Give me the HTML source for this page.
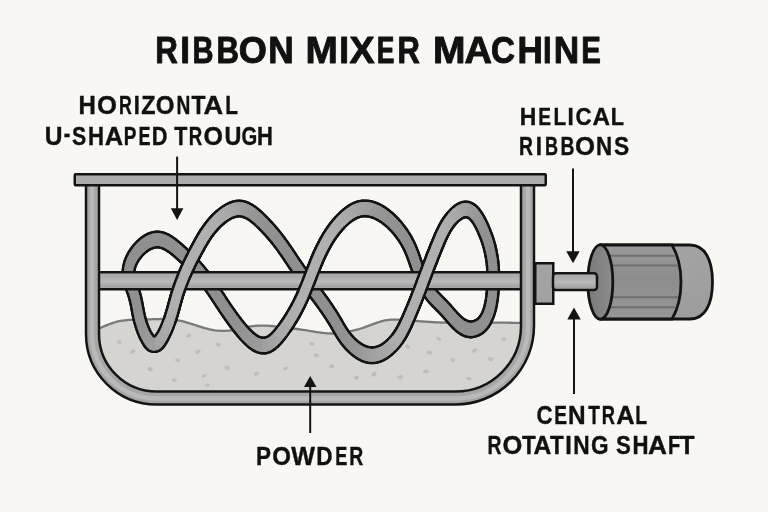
<!DOCTYPE html>
<html><head><meta charset="utf-8">
<style>
html,body{margin:0;padding:0;background:#f8f7f3;}
svg{display:block;}
text{font-family:"Liberation Sans",sans-serif;font-weight:bold;fill:#111111;}
</style></head><body>
<svg width="768" height="512" viewBox="0 0 768 512">
<defs>
<linearGradient id="shaftg" x1="0" y1="0" x2="0" y2="1">
<stop offset="0" stop-color="#c6c6c6"/><stop offset="0.15" stop-color="#a9a9a9"/><stop offset="0.55" stop-color="#bababa"/><stop offset="0.85" stop-color="#a2a2a2"/><stop offset="1" stop-color="#b4b4b4"/>
</linearGradient>
<filter id="blur1" x="-20%" y="-20%" width="140%" height="140%"><feGaussianBlur stdDeviation="0.7"/></filter>
<filter id="grain" x="0" y="0" width="100%" height="100%"><feTurbulence type="fractalNoise" baseFrequency="0.9" numOctaves="2" seed="4"/><feColorMatrix type="matrix" values="0 0 0 0 0.5  0 0 0 0 0.5  0 0 0 0 0.5  0 0 0 -1.2 0.62"/><feComposite in2="SourceGraphic" operator="in"/></filter>
<linearGradient id="bodyg" x1="0" y1="0" x2="0" y2="1">
<stop offset="0" stop-color="#9a9a9a"/><stop offset="0.45" stop-color="#8d8d8d"/><stop offset="1" stop-color="#969696"/>
</linearGradient>
<linearGradient id="faceg" x1="0" y1="0" x2="1" y2="0">
<stop offset="0" stop-color="#7a7a7a"/><stop offset="1" stop-color="#8c8c8c"/>
</linearGradient>
<linearGradient id="capg" x1="0" y1="0" x2="1" y2="1">
<stop offset="0" stop-color="#a8a8a8"/><stop offset="1" stop-color="#9c9c9c"/>
</linearGradient>
</defs>
<rect width="768" height="512" fill="#f8f7f3"/>
<g opacity="0.999">
<text transform="translate(155.20,62.83) scale(0.3130,0.3748)" font-size="100" stroke="#111111" stroke-width="2.5" stroke-linejoin="round">R</text>
<text transform="translate(180.18,62.83) scale(0.3515,0.3748)" font-size="100" stroke="#111111" stroke-width="2.5" stroke-linejoin="round">I</text>
<text transform="translate(192.52,62.83) scale(0.2913,0.3748)" font-size="100" stroke="#111111" stroke-width="2.5" stroke-linejoin="round">B</text>
<text transform="translate(216.61,62.83) scale(0.3118,0.3748)" font-size="100" stroke="#111111" stroke-width="2.5" stroke-linejoin="round">B</text>
<text transform="translate(238.81,62.83) scale(0.3614,0.3748)" font-size="100" stroke="#111111" stroke-width="2.5" stroke-linejoin="round">O</text>
<text transform="translate(268.22,62.83) scale(0.3529,0.3748)" font-size="100" stroke="#111111" stroke-width="2.5" stroke-linejoin="round">N</text>
<text transform="translate(305.52,62.83) scale(0.3883,0.3748)" font-size="100" stroke="#111111" stroke-width="2.5" stroke-linejoin="round">M</text>
<text transform="translate(339.18,62.83) scale(0.3515,0.3748)" font-size="100" stroke="#111111" stroke-width="2.5" stroke-linejoin="round">I</text>
<text transform="translate(349.59,62.83) scale(0.3759,0.3748)" font-size="100" stroke="#111111" stroke-width="2.5" stroke-linejoin="round">X</text>
<text transform="translate(376.68,62.83) scale(0.2650,0.3748)" font-size="100" stroke="#111111" stroke-width="2.5" stroke-linejoin="round">E</text>
<text transform="translate(397.52,62.83) scale(0.3099,0.3748)" font-size="100" stroke="#111111" stroke-width="2.5" stroke-linejoin="round">R</text>
<text transform="translate(432.96,62.83) scale(0.3903,0.3748)" font-size="100" stroke="#111111" stroke-width="2.5" stroke-linejoin="round">M</text>
<text transform="translate(464.53,62.83) scale(0.3803,0.3748)" font-size="100" stroke="#111111" stroke-width="2.5" stroke-linejoin="round">A</text>
<text transform="translate(490.89,62.83) scale(0.3319,0.3748)" font-size="100" stroke="#111111" stroke-width="2.5" stroke-linejoin="round">C</text>
<text transform="translate(517.38,62.83) scale(0.3521,0.3748)" font-size="100" stroke="#111111" stroke-width="2.5" stroke-linejoin="round">H</text>
<text transform="translate(543.12,62.83) scale(0.3091,0.3748)" font-size="100" stroke="#111111" stroke-width="2.5" stroke-linejoin="round">I</text>
<text transform="translate(553.78,62.83) scale(0.3521,0.3748)" font-size="100" stroke="#111111" stroke-width="2.5" stroke-linejoin="round">N</text>
<text transform="translate(581.21,62.83) scale(0.2940,0.3748)" font-size="100" stroke="#111111" stroke-width="2.5" stroke-linejoin="round">E</text>
<text transform="translate(78.50,114.01) scale(0.2403,0.2511)" font-size="100" stroke="#111111" stroke-width="1.5" stroke-linejoin="round">H</text>
<text transform="translate(96.97,114.01) scale(0.2559,0.2511)" font-size="100" stroke="#111111" stroke-width="1.5" stroke-linejoin="round">O</text>
<text transform="translate(118.99,114.01) scale(0.1783,0.2511)" font-size="100" stroke="#111111" stroke-width="1.5" stroke-linejoin="round">R</text>
<text transform="translate(133.63,114.01) scale(0.2194,0.2511)" font-size="100" stroke="#111111" stroke-width="1.5" stroke-linejoin="round">I</text>
<text transform="translate(141.37,114.01) scale(0.2336,0.2511)" font-size="100" stroke="#111111" stroke-width="1.5" stroke-linejoin="round">Z</text>
<text transform="translate(155.82,114.01) scale(0.2406,0.2511)" font-size="100" stroke="#111111" stroke-width="1.5" stroke-linejoin="round">O</text>
<text transform="translate(176.60,114.01) scale(0.1916,0.2511)" font-size="100" stroke="#111111" stroke-width="1.5" stroke-linejoin="round">N</text>
<text transform="translate(191.44,114.01) scale(0.2281,0.2511)" font-size="100" stroke="#111111" stroke-width="1.5" stroke-linejoin="round">T</text>
<text transform="translate(203.49,114.01) scale(0.2726,0.2511)" font-size="100" stroke="#111111" stroke-width="1.5" stroke-linejoin="round">A</text>
<text transform="translate(225.20,114.01) scale(0.2076,0.2511)" font-size="100" stroke="#111111" stroke-width="1.5" stroke-linejoin="round">L</text>
<text transform="translate(44.81,145.01) scale(0.2455,0.2525)" font-size="100" stroke="#111111" stroke-width="1.5" stroke-linejoin="round">U</text>
<text transform="translate(63.66,142.41) scale(0.1962,0.2525)" font-size="100" stroke="#111111" stroke-width="1.5" stroke-linejoin="round">-</text>
<text transform="translate(72.12,145.01) scale(0.2130,0.2525)" font-size="100" stroke="#111111" stroke-width="1.5" stroke-linejoin="round">S</text>
<text transform="translate(87.91,145.01) scale(0.2218,0.2525)" font-size="100" stroke="#111111" stroke-width="1.5" stroke-linejoin="round">H</text>
<text transform="translate(104.63,145.01) scale(0.2548,0.2525)" font-size="100" stroke="#111111" stroke-width="1.5" stroke-linejoin="round">A</text>
<text transform="translate(123.82,145.01) scale(0.1896,0.2525)" font-size="100" stroke="#111111" stroke-width="1.5" stroke-linejoin="round">P</text>
<text transform="translate(138.47,145.01) scale(0.1809,0.2525)" font-size="100" stroke="#111111" stroke-width="1.5" stroke-linejoin="round">E</text>
<text transform="translate(151.74,145.01) scale(0.2176,0.2525)" font-size="100" stroke="#111111" stroke-width="1.5" stroke-linejoin="round">D</text>
<text transform="translate(174.15,145.01) scale(0.2149,0.2525)" font-size="100" stroke="#111111" stroke-width="1.5" stroke-linejoin="round">T</text>
<text transform="translate(188.64,145.01) scale(0.1860,0.2525)" font-size="100" stroke="#111111" stroke-width="1.5" stroke-linejoin="round">R</text>
<text transform="translate(203.49,145.01) scale(0.2503,0.2525)" font-size="100" stroke="#111111" stroke-width="1.5" stroke-linejoin="round">O</text>
<text transform="translate(224.57,145.01) scale(0.2341,0.2525)" font-size="100" stroke="#111111" stroke-width="1.5" stroke-linejoin="round">U</text>
<text transform="translate(241.54,145.01) scale(0.2022,0.2525)" font-size="100" stroke="#111111" stroke-width="1.5" stroke-linejoin="round">G</text>
<text transform="translate(256.92,145.01) scale(0.2202,0.2525)" font-size="100" stroke="#111111" stroke-width="1.5" stroke-linejoin="round">H</text>
<text transform="translate(519.67,124.91) scale(0.2294,0.2482)" font-size="100" stroke="#111111" stroke-width="1.5" stroke-linejoin="round">H</text>
<text transform="translate(538.20,124.91) scale(0.1913,0.2482)" font-size="100" stroke="#111111" stroke-width="1.5" stroke-linejoin="round">E</text>
<text transform="translate(553.40,124.91) scale(0.2076,0.2482)" font-size="100" stroke="#111111" stroke-width="1.5" stroke-linejoin="round">L</text>
<text transform="translate(567.59,124.91) scale(0.2258,0.2482)" font-size="100" stroke="#111111" stroke-width="1.5" stroke-linejoin="round">I</text>
<text transform="translate(575.48,124.91) scale(0.2226,0.2482)" font-size="100" stroke="#111111" stroke-width="1.5" stroke-linejoin="round">C</text>
<text transform="translate(592.45,124.91) scale(0.2430,0.2482)" font-size="100" stroke="#111111" stroke-width="1.5" stroke-linejoin="round">A</text>
<text transform="translate(610.74,124.91) scale(0.2171,0.2482)" font-size="100" stroke="#111111" stroke-width="1.5" stroke-linejoin="round">L</text>
<text transform="translate(519.09,154.51) scale(0.1938,0.2496)" font-size="100" stroke="#111111" stroke-width="1.5" stroke-linejoin="round">R</text>
<text transform="translate(535.69,154.51) scale(0.2258,0.2496)" font-size="100" stroke="#111111" stroke-width="1.5" stroke-linejoin="round">I</text>
<text transform="translate(544.97,154.51) scale(0.1808,0.2496)" font-size="100" stroke="#111111" stroke-width="1.5" stroke-linejoin="round">B</text>
<text transform="translate(560.49,154.51) scale(0.1936,0.2496)" font-size="100" stroke="#111111" stroke-width="1.5" stroke-linejoin="round">B</text>
<text transform="translate(575.06,154.51) scale(0.2573,0.2496)" font-size="100" stroke="#111111" stroke-width="1.5" stroke-linejoin="round">O</text>
<text transform="translate(596.00,154.51) scale(0.2235,0.2496)" font-size="100" stroke="#111111" stroke-width="1.5" stroke-linejoin="round">N</text>
<text transform="translate(614.09,154.51) scale(0.2276,0.2496)" font-size="100" stroke="#111111" stroke-width="1.5" stroke-linejoin="round">S</text>
<text transform="translate(536.38,424.01) scale(0.2226,0.2511)" font-size="100" stroke="#111111" stroke-width="1.5" stroke-linejoin="round">C</text>
<text transform="translate(554.20,424.01) scale(0.1913,0.2511)" font-size="100" stroke="#111111" stroke-width="1.5" stroke-linejoin="round">E</text>
<text transform="translate(567.98,424.01) scale(0.2437,0.2511)" font-size="100" stroke="#111111" stroke-width="1.5" stroke-linejoin="round">N</text>
<text transform="translate(588.15,424.01) scale(0.1901,0.2511)" font-size="100" stroke="#111111" stroke-width="1.5" stroke-linejoin="round">T</text>
<text transform="translate(601.66,424.01) scale(0.1829,0.2511)" font-size="100" stroke="#111111" stroke-width="1.5" stroke-linejoin="round">R</text>
<text transform="translate(616.33,424.01) scale(0.2548,0.2511)" font-size="100" stroke="#111111" stroke-width="1.5" stroke-linejoin="round">A</text>
<text transform="translate(635.19,424.01) scale(0.1943,0.2511)" font-size="100" stroke="#111111" stroke-width="1.5" stroke-linejoin="round">L</text>
<text transform="translate(487.49,453.51) scale(0.1938,0.2511)" font-size="100" stroke="#111111" stroke-width="1.5" stroke-linejoin="round">R</text>
<text transform="translate(502.47,453.51) scale(0.2545,0.2511)" font-size="100" stroke="#111111" stroke-width="1.5" stroke-linejoin="round">O</text>
<text transform="translate(521.94,453.51) scale(0.2248,0.2511)" font-size="100" stroke="#111111" stroke-width="1.5" stroke-linejoin="round">T</text>
<text transform="translate(533.44,453.51) scale(0.2474,0.2511)" font-size="100" stroke="#111111" stroke-width="1.5" stroke-linejoin="round">A</text>
<text transform="translate(549.94,453.51) scale(0.2248,0.2511)" font-size="100" stroke="#111111" stroke-width="1.5" stroke-linejoin="round">T</text>
<text transform="translate(565.28,453.51) scale(0.2355,0.2511)" font-size="100" stroke="#111111" stroke-width="1.5" stroke-linejoin="round">I</text>
<text transform="translate(573.18,453.51) scale(0.2269,0.2511)" font-size="100" stroke="#111111" stroke-width="1.5" stroke-linejoin="round">N</text>
<text transform="translate(591.02,453.51) scale(0.2252,0.2511)" font-size="100" stroke="#111111" stroke-width="1.5" stroke-linejoin="round">G</text>
<text transform="translate(616.10,453.51) scale(0.2228,0.2511)" font-size="100" stroke="#111111" stroke-width="1.5" stroke-linejoin="round">S</text>
<text transform="translate(632.41,453.51) scale(0.2218,0.2511)" font-size="100" stroke="#111111" stroke-width="1.5" stroke-linejoin="round">H</text>
<text transform="translate(648.11,453.51) scale(0.2622,0.2511)" font-size="100" stroke="#111111" stroke-width="1.5" stroke-linejoin="round">A</text>
<text transform="translate(668.05,453.51) scale(0.2000,0.2511)" font-size="100" stroke="#111111" stroke-width="1.5" stroke-linejoin="round">F</text>
<text transform="translate(679.54,453.51) scale(0.2463,0.2511)" font-size="100" stroke="#111111" stroke-width="1.5" stroke-linejoin="round">T</text>
<text transform="translate(256.10,464.91) scale(0.2243,0.2525)" font-size="100" stroke="#111111" stroke-width="1.5" stroke-linejoin="round">P</text>
<text transform="translate(272.32,464.91) scale(0.2406,0.2525)" font-size="100" stroke="#111111" stroke-width="1.5" stroke-linejoin="round">O</text>
<text transform="translate(291.19,464.91) scale(0.2513,0.2525)" font-size="100" stroke="#111111" stroke-width="1.5" stroke-linejoin="round">W</text>
<text transform="translate(316.19,464.91) scale(0.2256,0.2525)" font-size="100" stroke="#111111" stroke-width="1.5" stroke-linejoin="round">D</text>
<text transform="translate(335.27,464.91) scale(0.1809,0.2525)" font-size="100" stroke="#111111" stroke-width="1.5" stroke-linejoin="round">E</text>
<text transform="translate(349.19,464.91) scale(0.1938,0.2525)" font-size="100" stroke="#111111" stroke-width="1.5" stroke-linejoin="round">R</text>
</g>

<!-- powder -->
<path d="M99.0,328.50 L101.0,327.63 L103.0,326.76 L105.0,325.92 L107.0,325.09 L109.0,324.30 L111.0,323.56 L113.0,322.87 L115.0,322.25 L117.0,321.70 L119.0,321.23 L121.0,320.84 L123.0,320.52 L125.0,320.27 L127.0,320.06 L129.0,319.91 L131.0,319.79 L133.0,319.71 L135.0,319.66 L137.0,319.62 L139.0,319.59 L141.0,319.57 L143.0,319.54 L145.0,319.50 L147.0,319.44 L149.0,319.38 L151.0,319.30 L153.0,319.22 L155.0,319.14 L157.0,319.08 L159.0,319.03 L161.0,318.99 L163.0,318.99 L165.0,319.01 L167.0,319.08 L169.0,319.18 L171.0,319.33 L173.0,319.54 L175.0,319.80 L177.0,320.13 L179.0,320.51 L181.0,320.95 L183.0,321.43 L185.0,321.96 L187.0,322.52 L189.0,323.11 L191.0,323.73 L193.0,324.36 L195.0,325.00 L197.0,325.65 L199.0,326.29 L201.0,326.93 L203.0,327.54 L205.0,328.13 L207.0,328.67 L209.0,329.17 L211.0,329.62 L213.0,330.00 L215.0,330.31 L217.0,330.55 L219.0,330.71 L221.0,330.81 L223.0,330.84 L225.0,330.80 L227.0,330.70 L229.0,330.53 L231.0,330.30 L233.0,330.00 L235.0,329.65 L237.0,329.24 L239.0,328.81 L241.0,328.36 L243.0,327.90 L245.0,327.46 L247.0,327.04 L249.0,326.67 L251.0,326.35 L253.0,326.09 L255.0,325.89 L257.0,325.74 L259.0,325.65 L261.0,325.60 L263.0,325.60 L265.0,325.64 L267.0,325.72 L269.0,325.83 L271.0,325.98 L273.0,326.15 L275.0,326.34 L277.0,326.55 L279.0,326.78 L281.0,327.01 L283.0,327.26 L285.0,327.50 L287.0,327.74 L289.0,327.99 L291.0,328.23 L293.0,328.48 L295.0,328.74 L297.0,329.00 L299.0,329.26 L301.0,329.54 L303.0,329.83 L305.0,330.13 L307.0,330.44 L309.0,330.77 L311.0,331.11 L313.0,331.45 L315.0,331.79 L317.0,332.12 L319.0,332.43 L321.0,332.72 L323.0,332.98 L325.0,333.19 L327.0,333.36 L329.0,333.47 L331.0,333.52 L333.0,333.50 L335.0,333.42 L337.0,333.29 L339.0,333.10 L341.0,332.86 L343.0,332.58 L345.0,332.26 L347.0,331.90 L349.0,331.51 L351.0,331.09 L353.0,330.63 L355.0,330.15 L357.0,329.63 L359.0,329.08 L361.0,328.48 L363.0,327.84 L365.0,327.15 L367.0,326.42 L369.0,325.67 L371.0,324.91 L373.0,324.15 L375.0,323.40 L377.0,322.69 L379.0,322.03 L381.0,321.44 L383.0,320.92 L385.0,320.49 L387.0,320.15 L389.0,319.89 L391.0,319.71 L393.0,319.60 L395.0,319.56 L397.0,319.56 L399.0,319.61 L401.0,319.71 L403.0,319.83 L405.0,319.98 L407.0,320.14 L409.0,320.32 L411.0,320.50 L413.0,320.68 L415.0,320.85 L417.0,321.01 L419.0,321.17 L421.0,321.33 L423.0,321.48 L425.0,321.62 L427.0,321.76 L429.0,321.89 L431.0,322.01 L433.0,322.12 L435.0,322.23 L437.0,322.33 L439.0,322.42 L441.0,322.50 L443.0,322.57 L445.0,322.64 L447.0,322.69 L449.0,322.74 L451.0,322.78 L453.0,322.81 L455.0,322.84 L457.0,322.86 L459.0,322.87 L461.0,322.88 L463.0,322.88 L465.0,322.89 L467.0,322.88 L469.0,322.88 L471.0,322.87 L473.0,322.85 L475.0,322.84 L477.0,322.83 L479.0,322.81 L481.0,322.79 L483.0,322.77 L485.0,322.76 L487.0,322.74 L489.0,322.72 L491.0,322.71 L493.0,322.70 L495.0,322.69 L497.0,322.68 L499.0,322.68 L501.0,322.68 L503.0,322.69 L505.0,322.70 L507.0,322.71 L509.0,322.73 L511.0,322.76 L513.0,322.79 L515.0,322.83 L517.0,322.88 L519.0,322.94 L521.0,323.00 L521,326 A65,65 0 0 1 456,391 L157,391 A58,58 0 0 1 99,333 Z" fill="#d5d4d0"/>
<g fill="#bebdba" filter="url(#blur1)">
<ellipse cx="119.3" cy="342.2" rx="2.5" ry="1.9" transform="rotate(12 119.3 342.2)"/>
<ellipse cx="132.5" cy="351.6" rx="2.9" ry="1.9" transform="rotate(-27 132.5 351.6)"/>
<ellipse cx="150.0" cy="369.0" rx="2.8" ry="2.1" transform="rotate(25 150.0 369.0)"/>
<ellipse cx="174.2" cy="380.2" rx="2.6" ry="1.8" transform="rotate(25 174.2 380.2)"/>
<ellipse cx="177.7" cy="360.3" rx="2.7" ry="1.9" transform="rotate(15 177.7 360.3)"/>
<ellipse cx="188.7" cy="335.8" rx="2.8" ry="1.8" transform="rotate(-16 188.7 335.8)"/>
<ellipse cx="198.0" cy="351.6" rx="2.9" ry="1.9" transform="rotate(-34 198.0 351.6)"/>
<ellipse cx="204.0" cy="375.8" rx="2.8" ry="1.7" transform="rotate(-30 204.0 375.8)"/>
<ellipse cx="207.4" cy="385.1" rx="2.6" ry="1.7" transform="rotate(-1 207.4 385.1)"/>
<ellipse cx="218.5" cy="344.6" rx="2.7" ry="2.0" transform="rotate(14 218.5 344.6)"/>
<ellipse cx="227.2" cy="367.9" rx="2.8" ry="2.1" transform="rotate(15 227.2 367.9)"/>
<ellipse cx="256.4" cy="373.8" rx="2.8" ry="1.9" transform="rotate(-18 256.4 373.8)"/>
<ellipse cx="285.6" cy="368.5" rx="2.9" ry="1.7" transform="rotate(-18 285.6 368.5)"/>
<ellipse cx="311.8" cy="343.7" rx="2.7" ry="1.8" transform="rotate(20 311.8 343.7)"/>
<ellipse cx="316.2" cy="355.4" rx="2.9" ry="2.0" transform="rotate(18 316.2 355.4)"/>
<ellipse cx="331.7" cy="366.2" rx="2.7" ry="1.9" transform="rotate(9 331.7 366.2)"/>
<ellipse cx="356.5" cy="377.8" rx="2.7" ry="1.9" transform="rotate(-6 356.5 377.8)"/>
<ellipse cx="374.0" cy="374.3" rx="2.9" ry="2.0" transform="rotate(-32 374.0 374.3)"/>
<ellipse cx="400.2" cy="377.2" rx="2.9" ry="2.1" transform="rotate(-15 400.2 377.2)"/>
<ellipse cx="407.5" cy="346.6" rx="2.8" ry="1.8" transform="rotate(34 407.5 346.6)"/>
<ellipse cx="426.0" cy="371.4" rx="2.9" ry="1.9" transform="rotate(-8 426.0 371.4)"/>
<ellipse cx="429.4" cy="352.5" rx="2.8" ry="2.1" transform="rotate(-1 429.4 352.5)"/>
<ellipse cx="438.8" cy="338.8" rx="2.6" ry="1.7" transform="rotate(26 438.8 338.8)"/>
<ellipse cx="452.8" cy="359.8" rx="2.5" ry="2.0" transform="rotate(17 452.8 359.8)"/>
<ellipse cx="468.8" cy="378.7" rx="2.9" ry="1.7" transform="rotate(19 468.8 378.7)"/>
<ellipse cx="474.6" cy="350.4" rx="2.9" ry="2.0" transform="rotate(-30 474.6 350.4)"/>
<ellipse cx="490.7" cy="359.2" rx="2.8" ry="2.0" transform="rotate(13 490.7 359.2)"/>
<ellipse cx="503.8" cy="339.3" rx="2.8" ry="1.8" transform="rotate(0 503.8 339.3)"/>
</g>
<path d="M99.0,328.50 L101.0,327.63 L103.0,326.76 L105.0,325.92 L107.0,325.09 L109.0,324.30 L111.0,323.56 L113.0,322.87 L115.0,322.25 L117.0,321.70 L119.0,321.23 L121.0,320.84 L123.0,320.52 L125.0,320.27 L127.0,320.06 L129.0,319.91 L131.0,319.79 L133.0,319.71 L135.0,319.66 L137.0,319.62 L139.0,319.59 L141.0,319.57 L143.0,319.54 L145.0,319.50 L147.0,319.44 L149.0,319.38 L151.0,319.30 L153.0,319.22 L155.0,319.14 L157.0,319.08 L159.0,319.03 L161.0,318.99 L163.0,318.99 L165.0,319.01 L167.0,319.08 L169.0,319.18 L171.0,319.33 L173.0,319.54 L175.0,319.80 L177.0,320.13 L179.0,320.51 L181.0,320.95 L183.0,321.43 L185.0,321.96 L187.0,322.52 L189.0,323.11 L191.0,323.73 L193.0,324.36 L195.0,325.00 L197.0,325.65 L199.0,326.29 L201.0,326.93 L203.0,327.54 L205.0,328.13 L207.0,328.67 L209.0,329.17 L211.0,329.62 L213.0,330.00 L215.0,330.31 L217.0,330.55 L219.0,330.71 L221.0,330.81 L223.0,330.84 L225.0,330.80 L227.0,330.70 L229.0,330.53 L231.0,330.30 L233.0,330.00 L235.0,329.65 L237.0,329.24 L239.0,328.81 L241.0,328.36 L243.0,327.90 L245.0,327.46 L247.0,327.04 L249.0,326.67 L251.0,326.35 L253.0,326.09 L255.0,325.89 L257.0,325.74 L259.0,325.65 L261.0,325.60 L263.0,325.60 L265.0,325.64 L267.0,325.72 L269.0,325.83 L271.0,325.98 L273.0,326.15 L275.0,326.34 L277.0,326.55 L279.0,326.78 L281.0,327.01 L283.0,327.26 L285.0,327.50 L287.0,327.74 L289.0,327.99 L291.0,328.23 L293.0,328.48 L295.0,328.74 L297.0,329.00 L299.0,329.26 L301.0,329.54 L303.0,329.83 L305.0,330.13 L307.0,330.44 L309.0,330.77 L311.0,331.11 L313.0,331.45 L315.0,331.79 L317.0,332.12 L319.0,332.43 L321.0,332.72 L323.0,332.98 L325.0,333.19 L327.0,333.36 L329.0,333.47 L331.0,333.52 L333.0,333.50 L335.0,333.42 L337.0,333.29 L339.0,333.10 L341.0,332.86 L343.0,332.58 L345.0,332.26 L347.0,331.90 L349.0,331.51 L351.0,331.09 L353.0,330.63 L355.0,330.15 L357.0,329.63 L359.0,329.08 L361.0,328.48 L363.0,327.84 L365.0,327.15 L367.0,326.42 L369.0,325.67 L371.0,324.91 L373.0,324.15 L375.0,323.40 L377.0,322.69 L379.0,322.03 L381.0,321.44 L383.0,320.92 L385.0,320.49 L387.0,320.15 L389.0,319.89 L391.0,319.71 L393.0,319.60 L395.0,319.56 L397.0,319.56 L399.0,319.61 L401.0,319.71 L403.0,319.83 L405.0,319.98 L407.0,320.14 L409.0,320.32 L411.0,320.50 L413.0,320.68 L415.0,320.85 L417.0,321.01 L419.0,321.17 L421.0,321.33 L423.0,321.48 L425.0,321.62 L427.0,321.76 L429.0,321.89 L431.0,322.01 L433.0,322.12 L435.0,322.23 L437.0,322.33 L439.0,322.42 L441.0,322.50 L443.0,322.57 L445.0,322.64 L447.0,322.69 L449.0,322.74 L451.0,322.78 L453.0,322.81 L455.0,322.84 L457.0,322.86 L459.0,322.87 L461.0,322.88 L463.0,322.88 L465.0,322.89 L467.0,322.88 L469.0,322.88 L471.0,322.87 L473.0,322.85 L475.0,322.84 L477.0,322.83 L479.0,322.81 L481.0,322.79 L483.0,322.77 L485.0,322.76 L487.0,322.74 L489.0,322.72 L491.0,322.71 L493.0,322.70 L495.0,322.69 L497.0,322.68 L499.0,322.68 L501.0,322.68 L503.0,322.69 L505.0,322.70 L507.0,322.71 L509.0,322.73 L511.0,322.76 L513.0,322.79 L515.0,322.83 L517.0,322.88 L519.0,322.94 L521.0,323.00" fill="none" stroke="#7a7a7a" stroke-width="2.3"/>

<!-- ribbon back -->
<g fill="none" stroke="#141414" stroke-linecap="round" stroke-linejoin="round">
<path d="M154.2,344.2 L154.5,344.2 L154.8,344.2 L155.2,344.1 L155.5,344.0 L155.8,343.9" stroke-width="17.81"/>
<path d="M155.8,343.9 L156.1,343.8 L156.5,343.6 L156.8,343.4 L157.1,343.2 L157.5,343.0" stroke-width="17.02"/>
<path d="M157.5,343.0 L157.8,342.7 L158.1,342.4 L158.4,342.1 L158.8,341.8 L159.1,341.5" stroke-width="16.19"/>
<path d="M159.1,341.5 L159.4,341.1 L159.7,340.7 L160.1,340.3 L160.4,339.9 L160.7,339.5" stroke-width="15.60"/>
<path d="M160.7,339.5 L161.0,339.0 L161.3,338.6 L161.6,338.1 L161.9,337.6 L162.2,337.1" stroke-width="15.22"/>
<path d="M162.2,337.1 L162.6,336.6 L162.9,336.1 L163.2,335.5 L163.5,335.0 L163.8,334.4" stroke-width="14.96"/>
<path d="M163.8,334.4 L164.0,333.9 L164.3,333.3 L164.6,332.7 L164.9,332.1 L165.2,331.5" stroke-width="14.79"/>
<path d="M165.2,331.5 L165.5,330.9 L165.8,330.3 L166.0,329.7 L166.3,329.1 L166.6,328.5" stroke-width="14.66"/>
<path d="M166.6,328.5 L166.8,327.8 L167.1,327.2 L167.3,326.6 L167.6,326.0 L167.8,325.3" stroke-width="14.57"/>
<path d="M167.8,325.3 L168.1,324.7 L168.3,324.1 L168.6,323.5 L168.8,322.8 L169.0,322.2" stroke-width="14.50"/>
<path d="M169.0,322.2 L169.2,321.6 L169.4,321.0 L169.7,320.4 L169.9,319.8 L170.1,319.2" stroke-width="14.44"/>
<path d="M170.1,319.2 L170.3,318.6 L170.5,318.0 L170.7,317.4 L170.8,316.8 L171.0,316.3" stroke-width="14.39"/>
<path d="M171.0,316.3 L171.2,315.7 L171.4,315.1 L171.6,314.6 L171.7,314.0 L171.9,313.5" stroke-width="14.35"/>
<path d="M171.9,313.5 L172.1,312.9 L172.2,312.4 L172.4,311.8 L172.5,311.3 L172.7,310.7" stroke-width="14.32"/>
<path d="M172.7,310.7 L172.9,310.2 L173.0,309.7 L173.2,309.1 L173.3,308.6 L173.4,308.1" stroke-width="14.29"/>
<path d="M173.4,308.1 L173.6,307.5 L173.7,307.0 L173.9,306.5 L174.0,306.0 L174.2,305.5" stroke-width="14.28"/>
<path d="M174.2,305.5 L174.3,304.9 L174.4,304.4 L174.6,303.9 L174.7,303.4 L174.8,302.9" stroke-width="14.27"/>
<path d="M174.8,302.9 L175.0,302.4 L175.1,301.9 L175.2,301.4 L175.4,300.9 L175.5,300.4" stroke-width="14.28"/>
<path d="M175.5,300.4 L175.7,299.9 L175.8,299.4 L175.9,298.9 L176.1,298.4 L176.2,297.9" stroke-width="14.29"/>
<path d="M176.2,297.9 L176.4,297.4 L176.5,296.9 L176.7,296.4 L176.8,295.9 L176.9,295.4" stroke-width="14.32"/>
<path d="M176.9,295.4 L177.1,294.9 L177.3,294.4 L177.4,293.9 L177.6,293.4 L177.7,292.9" stroke-width="14.35"/>
<path d="M177.7,292.9 L177.9,292.4 L178.0,291.9 L178.2,291.4 L178.4,290.9 L178.5,290.4" stroke-width="14.38"/>
<path d="M178.5,290.4 L178.7,289.9 L178.9,289.4 L179.0,288.9 L179.2,288.4 L179.4,287.9" stroke-width="14.42"/>
<path d="M179.4,287.9 L179.6,287.4 L179.7,286.9 L179.9,286.4 L180.1,285.9 L180.3,285.4" stroke-width="14.46"/>
<path d="M180.3,285.4 L180.5,284.9 L180.7,284.4 L180.8,283.9 L181.0,283.4 L181.2,282.9" stroke-width="14.49"/>
<path d="M181.2,282.9 L181.4,282.4 L181.6,281.9 L181.8,281.4 L182.0,280.9 L182.2,280.4" stroke-width="14.52"/>
<path d="M182.2,280.4 L182.4,279.9 L182.6,279.4 L182.8,278.9 L183.0,278.4 L183.2,277.9" stroke-width="14.56"/>
<path d="M183.2,277.9 L183.4,277.4 L183.6,276.9 L183.8,276.4 L184.0,275.9 L184.2,275.4" stroke-width="14.59"/>
<path d="M184.2,275.4 L184.4,274.9 L184.7,274.4 L184.9,273.9 L185.1,273.4 L185.3,272.9" stroke-width="14.62"/>
<path d="M185.3,272.9 L185.5,272.4 L185.7,271.9 L186.0,271.4 L186.2,270.9 L186.4,270.4" stroke-width="14.65"/>
<path d="M186.4,270.4 L186.6,269.9 L186.9,269.4 L187.1,268.9 L187.3,268.4 L187.5,267.9" stroke-width="14.68"/>
<path d="M187.5,267.9 L187.8,267.4 L188.0,266.9 L188.2,266.5 L188.5,266.0 L188.7,265.5" stroke-width="14.71"/>
<path d="M188.7,265.5 L188.9,265.0 L189.2,264.5 L189.4,264.0 L189.6,263.5 L189.9,263.0" stroke-width="14.74"/>
<path d="M189.9,263.0 L190.1,262.5 L190.4,262.0 L190.6,261.5 L190.8,261.0 L191.1,260.5" stroke-width="14.77"/>
<path d="M191.1,260.5 L191.3,260.0 L191.6,259.5 L191.8,259.0 L192.1,258.5 L192.3,258.1" stroke-width="14.80"/>
<path d="M192.3,258.1 L192.6,257.6 L192.8,257.1 L193.1,256.6 L193.3,256.1 L193.6,255.6" stroke-width="14.82"/>
<path d="M193.6,255.6 L193.8,255.1 L194.1,254.6 L194.3,254.1 L194.6,253.6 L194.8,253.2" stroke-width="14.85"/>
<path d="M194.8,253.2 L195.1,252.7 L195.3,252.2 L195.6,251.7 L195.9,251.2 L196.1,250.7" stroke-width="14.87"/>
<path d="M196.1,250.7 L196.4,250.2 L196.6,249.8 L196.9,249.3 L197.2,248.8 L197.4,248.3" stroke-width="14.89"/>
<path d="M197.4,248.3 L197.7,247.8 L197.9,247.3 L198.2,246.9 L198.5,246.4 L198.7,245.9" stroke-width="14.92"/>
<path d="M198.7,245.9 L199.0,245.4 L199.3,244.9 L199.5,244.5 L199.8,244.0 L200.1,243.5" stroke-width="14.95"/>
<path d="M200.1,243.5 L200.3,243.0 L200.6,242.5 L200.9,242.1 L201.2,241.6 L201.4,241.1" stroke-width="14.99"/>
<path d="M201.4,241.1 L201.7,240.6 L202.0,240.2 L202.3,239.7 L202.5,239.2 L202.8,238.8" stroke-width="15.04"/>
<path d="M202.8,238.8 L203.1,238.3 L203.4,237.8 L203.7,237.4 L204.0,236.9 L204.3,236.4" stroke-width="15.10"/>
<path d="M204.3,236.4 L204.5,236.0 L204.8,235.5 L205.1,235.1 L205.4,234.6 L205.7,234.2" stroke-width="15.18"/>
<path d="M205.7,234.2 L206.0,233.7 L206.3,233.3 L206.6,232.8 L206.9,232.4 L207.3,231.9" stroke-width="15.26"/>
<path d="M207.3,231.9 L207.6,231.5 L207.9,231.0 L208.2,230.6 L208.5,230.1 L208.8,229.7" stroke-width="15.36"/>
<path d="M208.8,229.7 L209.2,229.3 L209.5,228.8 L209.8,228.4 L210.2,228.0 L210.5,227.5" stroke-width="15.48"/>
<path d="M210.5,227.5 L210.8,227.1 L211.2,226.7 L211.5,226.3 L211.9,225.9 L212.2,225.4" stroke-width="15.60"/>
<path d="M212.2,225.4 L212.6,225.0 L212.9,224.6 L213.3,224.2 L213.6,223.8 L214.0,223.4" stroke-width="15.74"/>
<path d="M214.0,223.4 L214.4,223.0 L214.8,222.6 L215.1,222.2 L215.5,221.8 L215.9,221.4" stroke-width="15.89"/>
<path d="M215.9,221.4 L216.3,221.0 L216.7,220.6 L217.1,220.2 L217.5,219.9 L217.9,219.5" stroke-width="16.05"/>
<path d="M217.9,219.5 L218.3,219.1 L218.7,218.7 L219.1,218.4 L219.5,218.0 L219.9,217.6" stroke-width="16.22"/>
<path d="M219.9,217.6 L220.3,217.3 L220.8,216.9 L221.2,216.6 L221.6,216.2 L222.1,215.9" stroke-width="16.40"/>
<path d="M222.1,215.9 L222.5,215.5 L223.0,215.2 L223.4,214.8 L223.9,214.5 L224.4,214.2" stroke-width="16.58"/>
<path d="M224.4,214.2 L224.8,213.9 L225.3,213.5 L225.8,213.2 L226.2,212.9 L226.7,212.6" stroke-width="16.79"/>
<path d="M226.7,212.6 L227.2,212.3 L227.7,212.0 L228.2,211.8 L228.7,211.5 L229.2,211.2" stroke-width="17.02"/>
<path d="M229.2,211.2 L229.6,211.0 L230.1,210.7 L230.6,210.5 L231.1,210.3 L231.6,210.1" stroke-width="17.29"/>
<path d="M231.6,210.1 L232.1,209.9 L232.6,209.7 L233.1,209.5 L233.6,209.4 L234.2,209.2" stroke-width="17.57"/>
<path d="M234.2,209.2 L234.7,209.1 L235.2,208.9 L235.7,208.8 L236.2,208.7 L236.7,208.7" stroke-width="17.82"/>
<path d="M236.7,208.7 L237.2,208.6 L237.7,208.5 L238.2,208.5 L238.7,208.5 L239.2,208.5" stroke-width="17.97"/>
<path d="M239.2,208.5 L239.7,208.5 L240.2,208.5 L240.7,208.6 L241.2,208.7 L241.7,208.7" stroke-width="17.95"/>
<path d="M241.7,208.7 L242.2,208.8 L242.7,208.9 L243.2,209.1 L243.7,209.2 L244.2,209.3" stroke-width="17.77"/>
<path d="M244.2,209.3 L244.7,209.5 L245.1,209.7 L245.6,209.9 L246.1,210.1 L246.6,210.3" stroke-width="17.49"/>
<path d="M246.6,210.3 L247.1,210.5 L247.6,210.7 L248.0,211.0 L248.5,211.2 L249.0,211.5" stroke-width="17.19"/>
<path d="M249.0,211.5 L249.5,211.7 L250.0,212.0 L250.4,212.3 L250.9,212.6 L251.4,212.9" stroke-width="16.90"/>
<path d="M251.4,212.9 L251.8,213.2 L252.3,213.6 L252.8,213.9 L253.2,214.2 L253.7,214.6" stroke-width="16.65"/>
<path d="M253.7,214.6 L254.1,214.9 L254.6,215.3 L255.0,215.7 L255.5,216.0 L255.9,216.4" stroke-width="16.44"/>
<path d="M255.9,216.4 L256.4,216.8 L256.8,217.2 L257.3,217.5 L257.7,217.9 L258.2,218.3" stroke-width="16.27"/>
<path d="M258.2,218.3 L258.6,218.7 L259.0,219.1 L259.5,219.5 L259.9,219.9 L260.3,220.4" stroke-width="16.14"/>
<path d="M260.3,220.4 L260.7,220.8 L261.2,221.2 L261.6,221.6 L262.0,222.0 L262.4,222.4" stroke-width="16.04"/>
<path d="M262.4,222.4 L262.8,222.8 L263.2,223.2 L263.6,223.6 L264.0,224.0 L264.4,224.5" stroke-width="15.97"/>
<path d="M264.4,224.5 L264.8,224.9 L265.2,225.3 L265.6,225.7 L266.0,226.1 L266.4,226.5" stroke-width="15.91"/>
<path d="M266.4,226.5 L266.8,226.9 L267.2,227.3 L267.5,227.7 L267.9,228.2 L268.3,228.6" stroke-width="15.85"/>
<path d="M268.3,228.6 L268.7,229.0 L269.0,229.4 L269.4,229.8 L269.8,230.2 L270.1,230.6" stroke-width="15.79"/>
<path d="M270.1,230.6 L270.5,231.0 L270.9,231.4 L271.2,231.9 L271.6,232.3 L271.9,232.7" stroke-width="15.73"/>
<path d="M271.9,232.7 L272.3,233.1 L272.7,233.5 L273.0,233.9 L273.4,234.3 L273.7,234.7" stroke-width="15.67"/>
<path d="M273.7,234.7 L274.0,235.2 L274.4,235.6 L274.7,236.0 L275.1,236.4 L275.4,236.8" stroke-width="15.61"/>
<path d="M275.4,236.8 L275.8,237.3 L276.1,237.7 L276.4,238.1 L276.8,238.5 L277.1,238.9" stroke-width="15.56"/>
<path d="M277.1,238.9 L277.4,239.4 L277.8,239.8 L278.1,240.2 L278.4,240.6 L278.7,241.1" stroke-width="15.50"/>
<path d="M278.7,241.1 L279.1,241.5 L279.4,241.9 L279.7,242.3 L280.0,242.8 L280.3,243.2" stroke-width="15.45"/>
<path d="M280.3,243.2 L280.7,243.6 L281.0,244.1 L281.3,244.5 L281.6,244.9 L281.9,245.4" stroke-width="15.40"/>
<path d="M281.9,245.4 L282.3,245.8 L282.6,246.2 L282.9,246.7 L283.2,247.1 L283.5,247.6" stroke-width="15.35"/>
<path d="M283.5,247.6 L283.8,248.0 L284.1,248.4 L284.4,248.9 L284.7,249.3 L285.0,249.8" stroke-width="15.32"/>
<path d="M285.0,249.8 L285.4,250.2 L285.7,250.7 L286.0,251.1 L286.3,251.5 L286.6,252.0" stroke-width="15.29"/>
<path d="M286.6,252.0 L286.9,252.4 L287.2,252.9 L287.5,253.3 L287.8,253.8 L288.1,254.2" stroke-width="15.26"/>
<path d="M288.1,254.2 L288.4,254.7 L288.7,255.1 L289.0,255.6 L289.3,256.0 L289.6,256.5" stroke-width="15.25"/>
<path d="M289.6,256.5 L289.9,256.9 L290.2,257.4 L290.5,257.8 L290.8,258.3 L291.1,258.7" stroke-width="15.24"/>
<path d="M291.1,258.7 L291.4,259.2 L291.7,259.6 L292.0,260.1 L292.3,260.5 L292.6,261.0" stroke-width="15.23"/>
<path d="M292.6,261.0 L292.9,261.4 L293.2,261.9 L293.5,262.3 L293.8,262.8 L294.1,263.3" stroke-width="15.24"/>
<path d="M294.1,263.3 L294.4,263.7 L294.7,264.2 L295.0,264.6 L295.4,265.1 L295.7,265.5" stroke-width="15.24"/>
<path d="M295.7,265.5 L296.0,266.0 L296.3,266.4 L296.6,266.9 L296.9,267.3 L297.2,267.8" stroke-width="15.26"/>
<path d="M297.2,267.8 L297.5,268.2 L297.8,268.7 L298.1,269.1 L298.4,269.6 L298.7,270.0" stroke-width="15.28"/>
<path d="M298.7,270.0 L299.0,270.4 L299.3,270.9 L299.6,271.3 L300.0,271.8 L300.3,272.2" stroke-width="15.31"/>
<path d="M300.3,272.2 L300.6,272.7 L300.9,273.1 L301.2,273.6 L301.5,274.0 L301.8,274.4" stroke-width="15.33"/>
<path d="M301.8,274.4 L302.2,274.9 L302.5,275.3 L302.8,275.8 L303.1,276.2 L303.4,276.7" stroke-width="15.36"/>
<path d="M303.4,276.7 L303.7,277.1 L304.1,277.5 L304.4,278.0 L304.7,278.4 L305.0,278.9" stroke-width="15.38"/>
<path d="M305.0,278.9 L305.3,279.3 L305.7,279.7 L306.0,280.2 L306.3,280.6 L306.6,281.0" stroke-width="15.40"/>
<path d="M306.6,281.0 L307.0,281.5 L307.3,281.9 L307.6,282.3 L307.9,282.8 L308.2,283.2" stroke-width="15.42"/>
<path d="M308.2,283.2 L308.6,283.7 L308.9,284.1 L309.2,284.5 L309.5,285.0 L309.9,285.4" stroke-width="15.43"/>
<path d="M309.9,285.4 L310.2,285.8 L310.5,286.3 L310.8,286.7 L311.2,287.1 L311.5,287.6" stroke-width="15.43"/>
<path d="M311.5,287.6 L311.8,288.0 L312.1,288.4 L312.5,288.9 L312.8,289.3 L313.1,289.7" stroke-width="15.44"/>
<path d="M313.1,289.7 L313.4,290.2 L313.8,290.6 L314.1,291.0 L314.4,291.5 L314.7,291.9" stroke-width="15.44"/>
<path d="M314.7,291.9 L315.1,292.3 L315.4,292.8 L315.7,293.2 L316.0,293.7 L316.4,294.1" stroke-width="15.43"/>
<path d="M316.4,294.1 L316.7,294.5 L317.0,295.0 L317.3,295.4 L317.7,295.8 L318.0,296.3" stroke-width="15.42"/>
<path d="M318.0,296.3 L318.3,296.7 L318.6,297.1 L318.9,297.6 L319.3,298.0 L319.6,298.4" stroke-width="15.41"/>
<path d="M319.6,298.4 L319.9,298.9 L320.2,299.3 L320.6,299.8 L320.9,300.2 L321.2,300.6" stroke-width="15.39"/>
<path d="M321.2,300.6 L321.5,301.1 L321.8,301.5 L322.1,301.9 L322.5,302.4 L322.8,302.8" stroke-width="15.37"/>
<path d="M322.8,302.8 L323.1,303.3 L323.4,303.7 L323.7,304.1 L324.0,304.6 L324.3,305.0" stroke-width="15.35"/>
<path d="M324.3,305.0 L324.7,305.5 L325.0,305.9 L325.3,306.3 L325.6,306.8 L325.9,307.2" stroke-width="15.32"/>
<path d="M325.9,307.2 L326.2,307.7 L326.5,308.1 L326.8,308.6 L327.1,309.0 L327.4,309.5" stroke-width="15.29"/>
<path d="M327.4,309.5 L327.7,309.9 L328.0,310.4 L328.3,310.8 L328.6,311.3 L328.9,311.7" stroke-width="15.25"/>
<path d="M328.9,311.7 L329.2,312.2 L329.5,312.6 L329.8,313.1 L330.1,313.5 L330.4,314.0" stroke-width="15.21"/>
<path d="M330.4,314.0 L330.7,314.4 L331.0,314.9 L331.3,315.3 L331.6,315.8 L331.9,316.2" stroke-width="15.17"/>
<path d="M331.9,316.2 L332.2,316.7 L332.5,317.1 L332.8,317.6 L333.0,318.1 L333.3,318.5" stroke-width="15.12"/>
<path d="M333.3,318.5 L333.6,319.0 L333.9,319.4 L334.2,319.9 L334.5,320.4 L334.7,320.8" stroke-width="15.08"/>
<path d="M334.7,320.8 L335.0,321.3 L335.3,321.8 L335.6,322.2 L335.8,322.7 L336.1,323.2" stroke-width="15.03"/>
<path d="M336.1,323.2 L336.4,323.6 L336.6,324.1 L336.9,324.6 L337.2,325.0 L337.5,325.5" stroke-width="15.00"/>
<path d="M337.5,325.5 L337.7,326.0 L338.0,326.5 L338.3,326.9 L338.5,327.4 L338.8,327.9" stroke-width="15.00"/>
<path d="M338.8,327.9 L339.1,328.3 L339.4,328.8 L339.7,329.3 L339.9,329.8 L340.2,330.2" stroke-width="15.04"/>
<path d="M340.2,330.2 L340.5,330.7 L340.8,331.2 L341.1,331.6 L341.4,332.1 L341.7,332.6" stroke-width="15.10"/>
<path d="M341.7,332.6 L342.0,333.1 L342.3,333.5 L342.6,334.0 L342.9,334.5 L343.2,334.9" stroke-width="15.20"/>
<path d="M343.2,334.9 L343.5,335.4 L343.8,335.9 L344.2,336.3 L344.5,336.8 L344.8,337.3" stroke-width="15.33"/>
<path d="M344.8,337.3 L345.2,337.7 L345.5,338.2 L345.9,338.6 L346.2,339.1 L346.6,339.5" stroke-width="15.49"/>
<path d="M346.6,339.5 L347.0,340.0 L347.3,340.5 L347.7,340.9 L348.1,341.3 L348.5,341.8" stroke-width="15.66"/>
<path d="M348.5,341.8 L348.9,342.2 L349.3,342.7 L349.7,343.1 L350.1,343.5 L350.5,344.0" stroke-width="15.85"/>
<path d="M350.5,344.0 L350.9,344.4 L351.4,344.8 L351.8,345.2 L352.2,345.6 L352.6,346.0" stroke-width="16.06"/>
<path d="M352.6,346.0 L353.1,346.4 L353.5,346.8 L354.0,347.2 L354.4,347.6 L354.9,348.0" stroke-width="16.28"/>
<path d="M354.9,348.0 L355.3,348.3 L355.8,348.7 L356.2,349.0 L356.7,349.4 L357.2,349.7" stroke-width="16.52"/>
<path d="M357.2,349.7 L357.6,350.1 L358.1,350.4 L358.6,350.7 L359.1,351.0 L359.5,351.3" stroke-width="16.78"/>
<path d="M359.5,351.3 L360.0,351.6 L360.5,351.9 L361.0,352.2 L361.5,352.4 L362.0,352.7" stroke-width="17.05"/>
<path d="M362.0,352.7 L362.5,352.9 L363.0,353.1 L363.5,353.4 L364.0,353.6 L364.4,353.8" stroke-width="17.34"/>
<path d="M364.4,353.8 L364.9,354.0 L365.5,354.1 L366.0,354.3 L366.5,354.5 L367.0,354.6" stroke-width="17.61"/>
<path d="M367.0,354.6 L367.5,354.7 L368.0,354.8 L368.5,354.9 L369.0,355.0 L369.5,355.1" stroke-width="17.83"/>
<path d="M369.5,355.1 L370.0,355.2 L370.5,355.2 L371.0,355.3 L371.5,355.3 L372.0,355.3" stroke-width="17.97"/>
<path d="M372.0,355.3 L372.5,355.3 L373.0,355.3 L373.6,355.2 L374.1,355.2 L374.6,355.1" stroke-width="17.97"/>
<path d="M374.6,355.1 L375.1,355.0 L375.6,354.9 L376.1,354.8 L376.6,354.7 L377.1,354.6" stroke-width="17.83"/>
<path d="M377.1,354.6 L377.6,354.4 L378.1,354.3 L378.6,354.1 L379.1,353.9 L379.6,353.8" stroke-width="17.59"/>
<path d="M379.6,353.8 L380.1,353.6 L380.6,353.3 L381.1,353.1 L381.5,352.9 L382.0,352.6" stroke-width="17.31"/>
<path d="M382.0,352.6 L382.5,352.4 L383.0,352.1 L383.5,351.8 L383.9,351.6 L384.4,351.3" stroke-width="17.01"/>
<path d="M384.4,351.3 L384.9,351.0 L385.4,350.6 L385.8,350.3 L386.3,350.0 L386.7,349.7" stroke-width="16.72"/>
<path d="M386.7,349.7 L387.2,349.3 L387.7,349.0 L388.1,348.6 L388.6,348.2 L389.0,347.9" stroke-width="16.45"/>
<path d="M389.0,347.9 L389.4,347.5 L389.9,347.1 L390.3,346.7 L390.7,346.3 L391.2,345.9" stroke-width="16.19"/>
<path d="M391.2,345.9 L391.6,345.5 L392.0,345.1 L392.4,344.7 L392.8,344.2 L393.2,343.8" stroke-width="15.96"/>
<path d="M393.2,343.8 L393.6,343.4 L394.0,342.9 L394.4,342.5 L394.8,342.1 L395.1,341.6" stroke-width="15.75"/>
<path d="M395.1,341.6 L395.5,341.2 L395.9,340.7 L396.2,340.3 L396.6,339.8 L397.0,339.3" stroke-width="15.55"/>
<path d="M397.0,339.3 L397.3,338.9 L397.6,338.4 L398.0,337.9 L398.3,337.5 L398.6,337.0" stroke-width="15.36"/>
<path d="M398.6,337.0 L398.9,336.5 L399.3,336.1 L399.6,335.6 L399.9,335.1 L400.2,334.6" stroke-width="15.20"/>
<path d="M400.2,334.6 L400.5,334.2 L400.8,333.7 L401.0,333.2 L401.3,332.7 L401.6,332.2" stroke-width="15.05"/>
<path d="M401.6,332.2 L401.9,331.7 L402.2,331.3 L402.4,330.8 L402.7,330.3 L402.9,329.8" stroke-width="14.93"/>
<path d="M402.9,329.8 L403.2,329.3 L403.5,328.8 L403.7,328.3 L404.0,327.8 L404.2,327.3" stroke-width="14.84"/>
<path d="M404.2,327.3 L404.4,326.9 L404.7,326.4 L404.9,325.9 L405.2,325.4 L405.4,324.9" stroke-width="14.76"/>
<path d="M405.4,324.9 L405.6,324.4 L405.9,323.9 L406.1,323.4 L406.3,322.9 L406.5,322.4" stroke-width="14.71"/>
<path d="M406.5,322.4 L406.8,321.9 L407.0,321.4 L407.2,320.9 L407.4,320.4 L407.7,319.9" stroke-width="14.67"/>
<path d="M407.7,319.9 L407.9,319.4 L408.1,318.9 L408.3,318.4 L408.5,317.9 L408.8,317.4" stroke-width="14.65"/>
<path d="M408.8,317.4 L409.0,316.9 L409.2,316.4 L409.4,315.9 L409.6,315.4 L409.8,314.9" stroke-width="14.63"/>
<path d="M409.8,314.9 L410.0,314.4 L410.3,313.9 L410.5,313.4 L410.7,312.9 L410.9,312.4" stroke-width="14.61"/>
<path d="M410.9,312.4 L411.1,311.9 L411.3,311.4 L411.5,310.9 L411.7,310.4 L411.9,309.9" stroke-width="14.60"/>
<path d="M411.9,309.9 L412.1,309.4 L412.4,308.9 L412.6,308.4 L412.8,307.9 L413.0,307.4" stroke-width="14.58"/>
<path d="M413.0,307.4 L413.2,306.9 L413.4,306.4 L413.6,305.9 L413.8,305.4 L414.0,304.9" stroke-width="14.57"/>
<path d="M414.0,304.9 L414.2,304.4 L414.4,303.9 L414.6,303.4 L414.8,302.9 L415.0,302.4" stroke-width="14.56"/>
<path d="M415.0,302.4 L415.2,301.9 L415.4,301.4 L415.6,300.9 L415.8,300.4 L416.0,299.9" stroke-width="14.54"/>
<path d="M416.0,299.9 L416.2,299.4 L416.4,298.9 L416.6,298.4 L416.8,297.9 L417.0,297.4" stroke-width="14.53"/>
<path d="M417.0,297.4 L417.2,296.9 L417.4,296.4 L417.6,295.9 L417.7,295.4 L417.9,294.9" stroke-width="14.53"/>
<path d="M417.9,294.9 L418.1,294.4 L418.3,293.9 L418.5,293.4 L418.7,292.9 L418.9,292.4" stroke-width="14.52"/>
<path d="M418.9,292.4 L419.1,291.9 L419.3,291.4 L419.5,290.9 L419.7,290.4 L419.9,289.9" stroke-width="14.51"/>
<path d="M419.9,289.9 L420.1,289.4 L420.3,288.9 L420.4,288.4 L420.6,287.9 L420.8,287.4" stroke-width="14.51"/>
<path d="M420.8,287.4 L421.0,286.9 L421.2,286.4 L421.4,285.9 L421.6,285.4 L421.8,284.9" stroke-width="14.50"/>
<path d="M421.8,284.9 L422.0,284.4 L422.2,283.8 L422.3,283.3 L422.5,282.8 L422.7,282.3" stroke-width="14.50"/>
<path d="M422.7,282.3 L422.9,281.8 L423.1,281.3 L423.3,280.8 L423.5,280.3 L423.7,279.8" stroke-width="14.50"/>
<path d="M423.7,279.8 L423.9,279.3 L424.1,278.8 L424.2,278.3 L424.4,277.8 L424.6,277.3" stroke-width="14.50"/>
<path d="M424.6,277.3 L424.8,276.8 L425.0,276.3 L425.2,275.8 L425.4,275.3 L425.6,274.8" stroke-width="14.50"/>
<path d="M425.6,274.8 L425.8,274.3 L426.0,273.8 L426.1,273.3 L426.3,272.7 L426.5,272.2" stroke-width="14.50"/>
<path d="M426.5,272.2 L426.7,271.7 L426.9,271.2 L427.1,270.7 L427.3,270.2 L427.5,269.7" stroke-width="14.50"/>
<path d="M427.5,269.7 L427.7,269.2 L427.9,268.7 L428.1,268.2 L428.2,267.7 L428.4,267.2" stroke-width="14.50"/>
<path d="M428.4,267.2 L428.6,266.7 L428.8,266.2 L429.0,265.7 L429.2,265.1 L429.4,264.6" stroke-width="14.51"/>
<path d="M429.4,264.6 L429.6,264.1 L429.8,263.6 L430.0,263.1 L430.2,262.6 L430.4,262.1" stroke-width="14.51"/>
<path d="M430.4,262.1 L430.6,261.6 L430.8,261.1 L431.0,260.6 L431.2,260.1 L431.4,259.6" stroke-width="14.52"/>
<path d="M431.4,259.6 L431.6,259.0 L431.8,258.5 L431.9,258.0 L432.1,257.5 L432.3,257.0" stroke-width="14.52"/>
<path d="M432.3,257.0 L432.5,256.5 L432.7,256.0 L432.9,255.5 L433.1,255.0 L433.3,254.5" stroke-width="14.53"/>
<path d="M433.3,254.5 L433.5,254.0 L433.7,253.4 L434.0,252.9 L434.2,252.4 L434.4,251.9" stroke-width="14.54"/>
<path d="M434.4,251.9 L434.6,251.4 L434.8,250.9 L435.0,250.4 L435.2,249.9 L435.4,249.4" stroke-width="14.55"/>
<path d="M435.4,249.4 L435.6,248.8 L435.8,248.3 L436.0,247.8 L436.2,247.3 L436.4,246.8" stroke-width="14.57"/>
<path d="M436.4,246.8 L436.6,246.3 L436.8,245.8 L437.1,245.3 L437.3,244.7 L437.5,244.2" stroke-width="14.58"/>
<path d="M437.5,244.2 L437.7,243.7 L437.9,243.2 L438.1,242.7 L438.3,242.2 L438.5,241.7" stroke-width="14.59"/>
<path d="M438.5,241.7 L438.8,241.1 L439.0,240.6 L439.2,240.1 L439.4,239.6 L439.6,239.1" stroke-width="14.61"/>
<path d="M439.6,239.1 L439.9,238.6 L440.1,238.1 L440.3,237.5 L440.5,237.0 L440.8,236.5" stroke-width="14.65"/>
<path d="M440.8,236.5 L441.0,236.0 L441.2,235.5 L441.5,235.0 L441.7,234.5 L441.9,234.0" stroke-width="14.70"/>
<path d="M441.9,234.0 L442.2,233.5 L442.4,233.0 L442.7,232.5 L442.9,232.0 L443.2,231.5" stroke-width="14.77"/>
<path d="M443.2,231.5 L443.4,231.0 L443.7,230.5 L443.9,230.0 L444.2,229.5 L444.5,229.0" stroke-width="14.86"/>
<path d="M444.5,229.0 L444.7,228.5 L445.0,228.0 L445.3,227.5 L445.6,227.0 L445.8,226.5" stroke-width="14.98"/>
<path d="M445.8,226.5 L446.1,226.1 L446.4,225.6 L446.7,225.1 L447.0,224.6 L447.3,224.1" stroke-width="15.12"/>
<path d="M447.3,224.1 L447.6,223.7 L447.9,223.2 L448.3,222.8 L448.6,222.3 L448.9,221.8" stroke-width="15.29"/>
<path d="M448.9,221.8 L449.2,221.4 L449.6,220.9 L449.9,220.5 L450.3,220.0 L450.6,219.6" stroke-width="15.49"/>
<path d="M450.6,219.6 L451.0,219.2 L451.4,218.7 L451.7,218.3 L452.1,217.9 L452.5,217.4" stroke-width="15.71"/>
<path d="M452.5,217.4 L452.9,217.0 L453.3,216.6 L453.7,216.2 L454.1,215.8 L454.5,215.4" stroke-width="15.96"/>
<path d="M454.5,215.4 L454.9,215.0 L455.3,214.6 L455.8,214.2 L456.2,213.9 L456.6,213.5" stroke-width="16.25"/>
<path d="M456.6,213.5 L457.1,213.2 L457.5,212.8 L457.9,212.5 L458.4,212.2 L458.8,211.9" stroke-width="16.60"/>
<path d="M458.8,211.9 L459.3,211.6 L459.7,211.3 L460.2,211.1 L460.6,210.8 L461.0,210.6" stroke-width="17.01"/>
<path d="M461.0,210.6 L461.5,210.4 L461.9,210.2 L462.4,210.0 L462.8,209.9 L463.3,209.7" stroke-width="17.47"/>
<path d="M463.3,209.7 L463.7,209.6 L464.2,209.5 L464.6,209.5 L465.0,209.4 L465.5,209.4" stroke-width="17.87"/>
<path d="M465.5,209.4 L465.9,209.4 L466.3,209.4 L466.8,209.4 L467.2,209.5 L467.6,209.6" stroke-width="17.94"/>
<path d="M467.6,209.6 L468.0,209.7 L468.4,209.8 L468.8,209.9 L469.2,210.1 L469.6,210.3" stroke-width="17.54"/>
<path d="M469.6,210.3 L470.0,210.5 L470.4,210.7 L470.8,210.9 L471.2,211.2 L471.6,211.5" stroke-width="16.91"/>
<path d="M471.6,211.5 L472.0,211.8 L472.4,212.1 L472.7,212.4 L473.1,212.7 L473.5,213.1" stroke-width="16.30"/>
<path d="M473.5,213.1 L473.8,213.5 L474.2,213.8 L474.6,214.2 L474.9,214.7 L475.3,215.1" stroke-width="15.81"/>
<path d="M475.3,215.1 L475.6,215.5 L475.9,215.9 L476.3,216.4 L476.6,216.9 L477.0,217.3" stroke-width="15.44"/>
<path d="M477.0,217.3 L477.3,217.8 L477.6,218.3 L477.9,218.8 L478.2,219.3 L478.6,219.8" stroke-width="15.18"/>
<path d="M478.6,219.8 L478.9,220.4 L479.2,220.9 L479.5,221.4 L479.8,222.0 L480.1,222.5" stroke-width="14.98"/>
<path d="M480.1,222.5 L480.4,223.1 L480.7,223.6 L480.9,224.2 L481.2,224.7 L481.5,225.3" stroke-width="14.84"/>
<path d="M481.5,225.3 L481.8,225.9 L482.0,226.4 L482.3,227.0 L482.6,227.6 L482.8,228.1" stroke-width="14.73"/>
<path d="M482.8,228.1 L483.1,228.7 L483.3,229.3 L483.6,229.8 L483.8,230.4 L484.1,230.9" stroke-width="14.65"/>
<path d="M484.1,230.9 L484.3,231.5 L484.6,232.1 L484.8,232.6 L485.0,233.2 L485.2,233.7" stroke-width="14.58"/>
<path d="M485.2,233.7 L485.4,234.3 L485.7,234.9 L485.9,235.4 L486.1,236.0 L486.3,236.5" stroke-width="14.51"/>
<path d="M486.3,236.5 L486.5,237.1 L486.7,237.6 L486.9,238.2 L487.1,238.7 L487.3,239.3" stroke-width="14.45"/>
<path d="M487.3,239.3 L487.4,239.8 L487.6,240.4 L487.8,240.9 L488.0,241.5 L488.2,242.0" stroke-width="14.38"/>
<path d="M488.2,242.0 L488.3,242.6 L488.5,243.1 L488.6,243.6 L488.8,244.2 L489.0,244.7" stroke-width="14.33"/>
<path d="M489.0,244.7 L489.1,245.3 L489.3,245.8 L489.4,246.3 L489.6,246.9 L489.7,247.4" stroke-width="14.27"/>
<path d="M489.7,247.4 L489.8,248.0 L490.0,248.5 L490.1,249.0 L490.2,249.6 L490.3,250.1" stroke-width="14.22"/>
<path d="M490.3,250.1 L490.5,250.6 L490.6,251.2 L490.7,251.7 L490.8,252.2 L490.9,252.8" stroke-width="14.18"/>
<path d="M490.9,252.8 L491.0,253.3 L491.1,253.8 L491.2,254.4 L491.3,254.9 L491.4,255.4" stroke-width="14.14"/>
<path d="M491.4,255.4 L491.5,256.0 L491.6,256.5 L491.7,257.0 L491.8,257.6 L491.9,258.1" stroke-width="14.11"/>
<path d="M491.9,258.1 L492.0,258.6 L492.0,259.1 L492.1,259.7 L492.2,260.2 L492.3,260.7" stroke-width="14.08"/>
<path d="M492.3,260.7 L492.3,261.3 L492.4,261.8 L492.5,262.3 L492.5,262.8 L492.6,263.4" stroke-width="14.06"/>
<path d="M492.6,263.4 L492.6,263.9 L492.7,264.4 L492.7,264.9 L492.8,265.5 L492.8,266.0" stroke-width="14.04"/>
<path d="M492.8,266.0 L492.9,266.5 L492.9,267.1 L492.9,267.6 L493.0,268.1 L493.0,268.6" stroke-width="14.02"/>
<path d="M493.0,268.6 L493.0,269.2 L493.1,269.7 L493.1,270.2 L493.1,270.7 L493.2,271.3" stroke-width="14.01"/>
<path d="M493.2,271.3 L493.2,271.8 L493.2,272.3 L493.2,272.9 L493.2,273.4 L493.2,273.9" stroke-width="14.00"/>
<path d="M493.2,273.9 L493.3,274.4 L493.3,275.0 L493.3,275.5 L493.3,276.0 L493.3,276.5" stroke-width="14.00"/>
<path d="M493.3,276.5 L493.3,277.1 L493.3,277.6 L493.3,278.1 L493.3,278.7 L493.3,279.2" stroke-width="14.00"/>
<path d="M493.3,279.2 L493.3,279.7 L493.3,280.3 L493.2,280.8 L493.2,281.3 L493.2,281.8" stroke-width="14.00"/>
<path d="M493.2,281.8 L493.2,282.4 L493.2,282.9 L493.2,283.4 L493.1,284.0 L493.1,284.5" stroke-width="14.01"/>
<path d="M493.1,284.5 L493.1,285.0 L493.1,285.6 L493.0,286.1 L493.0,286.6 L493.0,287.2" stroke-width="14.01"/>
<path d="M493.0,287.2 L492.9,287.7 L492.9,288.3 L492.9,288.8 L492.8,289.3 L492.8,289.9" stroke-width="14.02"/>
<path d="M492.8,289.9 L492.8,290.4 L492.7,291.0 L492.7,291.5 L492.6,292.0 L492.6,292.6" stroke-width="14.02"/>
<path d="M492.6,292.6 L492.5,293.1 L492.5,293.7 L492.4,294.2 L492.4,294.7 L492.3,295.3" stroke-width="14.04"/>
<path d="M492.3,295.3 L492.3,295.8 L492.2,296.4 L492.2,296.9 L492.1,297.5 L492.0,298.0" stroke-width="14.06"/>
<path d="M492.0,298.0 L491.9,298.6 L491.9,299.1 L491.8,299.7 L491.7,300.2 L491.6,300.8" stroke-width="14.08"/>
<path d="M491.6,300.8 L491.5,301.3 L491.4,301.9 L491.3,302.4 L491.2,303.0 L491.1,303.5" stroke-width="14.12"/>
<path d="M491.1,303.5 L491.0,304.1 L490.9,304.6 L490.8,305.2 L490.7,305.7 L490.5,306.3" stroke-width="14.18"/>
<path d="M490.5,306.3 L490.4,306.9 L490.3,307.4 L490.1,308.0 L490.0,308.5 L489.8,309.1" stroke-width="14.25"/>
<path d="M489.8,309.1 L489.7,309.6 L489.5,310.2 L489.3,310.8 L489.1,311.3 L489.0,311.9" stroke-width="14.34"/>
<path d="M489.0,311.9 L488.8,312.4 L488.6,313.0 L488.4,313.5 L488.2,314.1 L488.0,314.6" stroke-width="14.47"/>
<path d="M488.0,314.6 L487.7,315.2 L487.5,315.7 L487.3,316.2 L487.0,316.7 L486.8,317.3" stroke-width="14.65"/>
<path d="M486.8,317.3 L486.5,317.8 L486.3,318.3 L486.0,318.8 L485.7,319.3 L485.4,319.8" stroke-width="14.91"/>
<path d="M485.4,319.8 L485.1,320.3 L484.8,320.7 L484.5,321.2 L484.2,321.7 L483.9,322.1" stroke-width="15.26"/>
<path d="M483.9,322.1 L483.5,322.5 L483.2,323.0 L482.8,323.4 L482.5,323.8 L482.1,324.2" stroke-width="15.72"/>
<path d="M482.1,324.2 L481.7,324.6 L481.3,324.9 L480.9,325.3 L480.5,325.6 L480.1,326.0" stroke-width="16.26"/>
<path d="M480.1,326.0 L479.6,326.3 L479.2,326.6 L478.8,326.9 L478.3,327.1 L477.9,327.4" stroke-width="16.80"/>
<path d="M477.9,327.4 L477.4,327.6 L476.9,327.9 L476.5,328.1 L476.0,328.3 L475.5,328.5" stroke-width="17.30"/>
<path d="M475.5,328.5 L475.1,328.6 L474.6,328.8 L474.1,328.9 L473.6,329.0 L473.1,329.1" stroke-width="17.70"/>
<path d="M473.1,329.1 L472.7,329.2 L472.2,329.3 L471.7,329.3 L471.2,329.4 L470.8,329.4" stroke-width="17.95"/>
<path d="M470.8,329.4 L470.3,329.4 L469.8,329.3 L469.3,329.3 L468.9,329.2 L468.4,329.1" stroke-width="17.95"/>
<path d="M468.4,329.1 L468.0,329.0 L467.5,328.9 L467.0,328.8 L466.6,328.7 L466.1,328.5" stroke-width="17.70"/>
<path d="M466.1,328.5 L465.7,328.3 L465.2,328.1 L464.8,327.9 L464.3,327.7 L463.9,327.5" stroke-width="17.32"/>
<path d="M463.9,327.5 L463.5,327.2 L463.0,327.0 L462.6,326.7 L462.1,326.4 L461.7,326.2" stroke-width="16.92"/>
<path d="M461.7,326.2 L461.3,325.9 L460.9,325.5 L460.4,325.2 L460.0,324.9 L459.6,324.6" stroke-width="16.56"/>
<path d="M459.6,324.6 L459.2,324.2 L458.7,323.8 L458.3,323.5 L457.9,323.1 L457.5,322.7" stroke-width="16.28"/>
<path d="M457.5,322.7 L457.1,322.3 L456.6,321.9 L456.2,321.5 L455.8,321.1 L455.4,320.7" stroke-width="16.06"/>
<path d="M455.4,320.7 L455.0,320.3 L454.6,319.9 L454.2,319.4 L453.8,319.0 L453.4,318.6" stroke-width="15.90"/>
<path d="M453.4,318.6 L453.0,318.1 L452.6,317.7 L452.2,317.2 L451.8,316.8 L451.4,316.3" stroke-width="15.80"/>
<path d="M451.4,316.3 L451.0,315.9 L450.6,315.4 L450.2,315.0 L449.8,314.5 L449.4,314.1" stroke-width="15.74"/>
<path d="M449.4,314.1 L449.0,313.6 L448.6,313.2 L448.2,312.7 L447.8,312.3 L447.4,311.8" stroke-width="15.73"/>
<path d="M447.4,311.8 L447.1,311.4 L446.7,311.0 L446.3,310.5 L445.9,310.1 L445.5,309.7" stroke-width="15.77"/>
<path d="M445.5,309.7 L445.1,309.2 L444.7,308.8 L444.3,308.4 L444.0,308.0 L443.6,307.6" stroke-width="15.85"/>
<path d="M443.6,307.6 L443.2,307.2 L442.8,306.8 L442.4,306.4 L442.1,306.0 L441.7,305.6" stroke-width="15.92"/>
<path d="M441.7,305.6 L441.3,305.2 L440.9,304.8 L440.5,304.5 L440.2,304.1 L439.8,303.7" stroke-width="15.97"/>
<path d="M439.8,303.7 L439.4,303.3 L439.1,303.0 L438.7,302.6 L438.3,302.2 L437.9,301.8" stroke-width="15.97"/>
<path d="M437.9,301.8 L437.6,301.5 L437.2,301.1 L436.9,300.7 L436.5,300.3 L436.1,300.0" stroke-width="15.94"/>
<path d="M436.1,300.0 L435.8,299.6 L435.4,299.2 L435.1,298.9 L434.7,298.5 L434.4,298.1" stroke-width="15.88"/>
<path d="M434.4,298.1 L434.0,297.7 L433.7,297.3 L433.3,297.0 L433.0,296.6 L432.7,296.2" stroke-width="15.77"/>
<path d="M432.7,296.2 L432.3,295.8 L432.0,295.4 L431.7,295.0 L431.3,294.6 L431.0,294.2" stroke-width="15.62"/>
<path d="M431.0,294.2 L430.7,293.8 L430.4,293.4 L430.1,292.9 L429.7,292.5 L429.4,292.1" stroke-width="15.45"/>
<path d="M429.4,292.1 L429.1,291.7 L428.8,291.2 L428.5,290.8 L428.2,290.3 L427.9,289.9" stroke-width="15.28"/>
<path d="M427.9,289.9 L427.6,289.4 L427.3,289.0 L427.0,288.5 L426.8,288.0 L426.5,287.6" stroke-width="15.12"/>
<path d="M426.5,287.6 L426.2,287.1 L425.9,286.6 L425.6,286.1 L425.4,285.6 L425.1,285.2" stroke-width="14.99"/>
<path d="M425.1,285.2 L424.8,284.7 L424.6,284.2 L424.3,283.7 L424.0,283.2 L423.8,282.7" stroke-width="14.88"/>
<path d="M423.8,282.7 L423.5,282.2 L423.3,281.7 L423.0,281.2 L422.8,280.7 L422.5,280.2" stroke-width="14.79"/>
<path d="M422.5,280.2 L422.3,279.7 L422.1,279.2 L421.8,278.7 L421.6,278.2 L421.4,277.6" stroke-width="14.70"/>
<path d="M421.4,277.6 L421.1,277.1 L420.9,276.6 L420.7,276.1 L420.5,275.6 L420.3,275.1" stroke-width="14.63"/>
<path d="M420.3,275.1 L420.0,274.6 L419.8,274.1 L419.6,273.6 L419.4,273.0 L419.2,272.5" stroke-width="14.57"/>
<path d="M419.2,272.5 L419.0,272.0 L418.8,271.5 L418.6,271.0 L418.4,270.5 L418.2,270.0" stroke-width="14.52"/>
<path d="M418.2,270.0 L418.1,269.5 L417.9,269.0 L417.7,268.5 L417.5,268.0 L417.3,267.5" stroke-width="14.48"/>
<path d="M417.3,267.5 L417.1,267.0 L417.0,266.5 L416.8,266.0 L416.6,265.5 L416.4,265.0" stroke-width="14.45"/>
<path d="M416.4,265.0 L416.3,264.5 L416.1,264.0 L415.9,263.6 L415.8,263.1 L415.6,262.6" stroke-width="14.43"/>
<path d="M415.6,262.6 L415.4,262.1 L415.2,261.6 L415.1,261.1 L414.9,260.6 L414.7,260.1" stroke-width="14.43"/>
<path d="M414.7,260.1 L414.6,259.7 L414.4,259.2 L414.2,258.7 L414.1,258.2 L413.9,257.7" stroke-width="14.44"/>
<path d="M413.9,257.7 L413.7,257.2 L413.5,256.8 L413.4,256.3 L413.2,255.8 L413.0,255.3" stroke-width="14.47"/>
<path d="M413.0,255.3 L412.8,254.8 L412.6,254.3 L412.5,253.9 L412.3,253.4 L412.1,252.9" stroke-width="14.51"/>
<path d="M412.1,252.9 L411.9,252.4 L411.7,251.9 L411.5,251.4 L411.3,251.0 L411.1,250.5" stroke-width="14.56"/>
<path d="M411.1,250.5 L410.9,250.0 L410.7,249.5 L410.5,249.0 L410.3,248.5 L410.1,248.1" stroke-width="14.63"/>
<path d="M410.1,248.1 L409.9,247.6 L409.6,247.1 L409.4,246.6 L409.2,246.1 L408.9,245.6" stroke-width="14.72"/>
<path d="M408.9,245.6 L408.7,245.1 L408.5,244.7 L408.2,244.2 L408.0,243.7 L407.7,243.2" stroke-width="14.82"/>
<path d="M407.7,243.2 L407.4,242.7 L407.2,242.2 L406.9,241.7 L406.6,241.2 L406.3,240.7" stroke-width="14.94"/>
<path d="M406.3,240.7 L406.0,240.2 L405.8,239.7 L405.5,239.2 L405.2,238.7 L404.9,238.3" stroke-width="15.06"/>
<path d="M404.9,238.3 L404.5,237.8 L404.2,237.3 L403.9,236.8 L403.6,236.3 L403.3,235.8" stroke-width="15.18"/>
<path d="M403.3,235.8 L402.9,235.3 L402.6,234.8 L402.2,234.3 L401.9,233.8 L401.6,233.3" stroke-width="15.30"/>
<path d="M401.6,233.3 L401.2,232.9 L400.8,232.4 L400.5,231.9 L400.1,231.4 L399.8,230.9" stroke-width="15.43"/>
<path d="M399.8,230.9 L399.4,230.4 L399.0,230.0 L398.6,229.5 L398.2,229.0 L397.9,228.6" stroke-width="15.56"/>
<path d="M397.9,228.6 L397.5,228.1 L397.1,227.6 L396.7,227.2 L396.3,226.7 L395.9,226.2" stroke-width="15.70"/>
<path d="M395.9,226.2 L395.5,225.8 L395.1,225.3 L394.7,224.9 L394.2,224.5 L393.8,224.0" stroke-width="15.84"/>
<path d="M393.8,224.0 L393.4,223.6 L393.0,223.1 L392.5,222.7 L392.1,222.3 L391.7,221.9" stroke-width="15.99"/>
<path d="M391.7,221.9 L391.3,221.5 L390.8,221.0 L390.4,220.6 L389.9,220.2 L389.5,219.8" stroke-width="16.15"/>
<path d="M389.5,219.8 L389.0,219.4 L388.6,219.1 L388.1,218.7 L387.7,218.3 L387.2,217.9" stroke-width="16.32"/>
<path d="M387.2,217.9 L386.8,217.6 L386.3,217.2 L385.9,216.8 L385.4,216.5 L384.9,216.1" stroke-width="16.51"/>
<path d="M384.9,216.1 L384.5,215.8 L384.0,215.5 L383.5,215.1 L383.0,214.8 L382.6,214.5" stroke-width="16.70"/>
<path d="M382.6,214.5 L382.1,214.2 L381.6,213.9 L381.1,213.6 L380.7,213.3 L380.2,213.0" stroke-width="16.90"/>
<path d="M380.2,213.0 L379.7,212.8 L379.2,212.5 L378.7,212.2 L378.2,212.0 L377.8,211.7" stroke-width="17.11"/>
<path d="M377.8,211.7 L377.3,211.5 L376.8,211.3 L376.3,211.0 L375.8,210.8 L375.3,210.6" stroke-width="17.32"/>
<path d="M375.3,210.6 L374.8,210.4 L374.3,210.2 L373.8,210.1 L373.3,209.9 L372.8,209.7" stroke-width="17.53"/>
<path d="M372.8,209.7 L372.3,209.6 L371.9,209.4 L371.4,209.3 L370.9,209.2 L370.4,209.0" stroke-width="17.72"/>
<path d="M370.4,209.0 L369.9,208.9 L369.4,208.8 L368.9,208.7 L368.4,208.7 L367.9,208.6" stroke-width="17.87"/>
<path d="M367.9,208.6 L367.4,208.5 L366.9,208.5 L366.4,208.4 L365.9,208.4 L365.4,208.4" stroke-width="17.97"/>
<path d="M365.4,208.4 L364.9,208.4 L364.4,208.4 L363.9,208.4 L363.4,208.4 L362.9,208.4" stroke-width="17.99"/>
<path d="M362.9,208.4 L362.5,208.5 L362.0,208.5 L361.5,208.6 L361.0,208.7 L360.5,208.8" stroke-width="17.92"/>
<path d="M360.5,208.8 L360.0,208.9 L359.5,209.0 L359.0,209.1 L358.6,209.3 L358.1,209.4" stroke-width="17.75"/>
<path d="M358.1,209.4 L357.6,209.6 L357.1,209.7 L356.6,209.9 L356.2,210.1 L355.7,210.3" stroke-width="17.50"/>
<path d="M355.7,210.3 L355.2,210.5 L354.7,210.8 L354.3,211.0 L353.8,211.2 L353.3,211.5" stroke-width="17.23"/>
<path d="M353.3,211.5 L352.9,211.7 L352.4,212.0 L351.9,212.3 L351.5,212.6 L351.0,212.9" stroke-width="16.96"/>
<path d="M351.0,212.9 L350.5,213.2 L350.1,213.5 L349.6,213.8 L349.2,214.1 L348.7,214.4" stroke-width="16.70"/>
<path d="M348.7,214.4 L348.3,214.8 L347.9,215.1 L347.4,215.4 L347.0,215.8 L346.5,216.1" stroke-width="16.48"/>
<path d="M346.5,216.1 L346.1,216.5 L345.7,216.9 L345.2,217.3 L344.8,217.6 L344.4,218.0" stroke-width="16.28"/>
<path d="M344.4,218.0 L344.0,218.4 L343.6,218.8 L343.1,219.2 L342.7,219.6 L342.3,220.0" stroke-width="16.11"/>
<path d="M342.3,220.0 L341.9,220.4 L341.5,220.8 L341.1,221.2 L340.7,221.6 L340.3,222.0" stroke-width="15.96"/>
<path d="M340.3,222.0 L339.9,222.4 L339.6,222.8 L339.2,223.3 L338.8,223.7 L338.4,224.1" stroke-width="15.82"/>
<path d="M338.4,224.1 L338.0,224.5 L337.7,225.0 L337.3,225.4 L336.9,225.8 L336.6,226.2" stroke-width="15.70"/>
<path d="M336.6,226.2 L336.2,226.7 L335.9,227.1 L335.5,227.5 L335.2,228.0 L334.8,228.4" stroke-width="15.58"/>
<path d="M334.8,228.4 L334.5,228.8 L334.2,229.3 L333.8,229.7 L333.5,230.2 L333.2,230.6" stroke-width="15.46"/>
<path d="M333.2,230.6 L332.8,231.1 L332.5,231.5 L332.2,232.0 L331.9,232.4 L331.5,232.9" stroke-width="15.36"/>
<path d="M331.5,232.9 L331.2,233.3 L330.9,233.8 L330.6,234.2 L330.3,234.7 L330.0,235.1" stroke-width="15.26"/>
<path d="M330.0,235.1 L329.7,235.6 L329.4,236.1 L329.1,236.5 L328.8,237.0 L328.5,237.5" stroke-width="15.16"/>
<path d="M328.5,237.5 L328.2,237.9 L328.0,238.4 L327.7,238.9 L327.4,239.3 L327.1,239.8" stroke-width="15.08"/>
<path d="M327.1,239.8 L326.8,240.3 L326.6,240.7 L326.3,241.2 L326.0,241.7 L325.7,242.2" stroke-width="15.00"/>
<path d="M325.7,242.2 L325.5,242.6 L325.2,243.1 L324.9,243.6 L324.7,244.1 L324.4,244.6" stroke-width="14.93"/>
<path d="M324.4,244.6 L324.2,245.0 L323.9,245.5 L323.7,246.0 L323.4,246.5 L323.2,247.0" stroke-width="14.86"/>
<path d="M323.2,247.0 L322.9,247.5 L322.7,247.9 L322.4,248.4 L322.2,248.9 L321.9,249.4" stroke-width="14.80"/>
<path d="M321.9,249.4 L321.7,249.9 L321.5,250.4 L321.2,250.9 L321.0,251.4 L320.8,251.9" stroke-width="14.75"/>
<path d="M320.8,251.9 L320.5,252.4 L320.3,252.9 L320.1,253.3 L319.8,253.8 L319.6,254.3" stroke-width="14.71"/>
<path d="M319.6,254.3 L319.4,254.8 L319.2,255.3 L318.9,255.8 L318.7,256.3 L318.5,256.8" stroke-width="14.67"/>
<path d="M318.5,256.8 L318.3,257.3 L318.1,257.8 L317.8,258.3 L317.6,258.8 L317.4,259.3" stroke-width="14.63"/>
<path d="M317.4,259.3 L317.2,259.8 L317.0,260.3 L316.8,260.8 L316.6,261.3 L316.4,261.8" stroke-width="14.60"/>
<path d="M316.4,261.8 L316.1,262.3 L315.9,262.8 L315.7,263.4 L315.5,263.9 L315.3,264.4" stroke-width="14.58"/>
<path d="M315.3,264.4 L315.1,264.9 L314.9,265.4 L314.7,265.9 L314.5,266.4 L314.3,266.9" stroke-width="14.56"/>
<path d="M314.3,266.9 L314.1,267.4 L313.9,267.9 L313.7,268.4 L313.5,268.9 L313.3,269.4" stroke-width="14.54"/>
<path d="M313.3,269.4 L313.1,269.9 L312.9,270.4 L312.7,270.9 L312.5,271.4 L312.3,271.9" stroke-width="14.53"/>
<path d="M312.3,271.9 L312.1,272.5 L311.9,273.0 L311.7,273.5 L311.5,274.0 L311.3,274.5" stroke-width="14.52"/>
<path d="M311.3,274.5 L311.1,275.0 L311.0,275.5 L310.8,276.0 L310.6,276.5 L310.4,277.0" stroke-width="14.52"/>
<path d="M310.4,277.0 L310.2,277.5 L310.0,278.0 L309.8,278.5 L309.6,279.0 L309.4,279.5" stroke-width="14.52"/>
<path d="M309.4,279.5 L309.2,280.0 L309.0,280.5 L308.8,281.0 L308.6,281.5 L308.4,282.1" stroke-width="14.52"/>
<path d="M308.4,282.1 L308.2,282.6 L308.0,283.1 L307.8,283.6 L307.6,284.1 L307.4,284.6" stroke-width="14.53"/>
<path d="M307.4,284.6 L307.2,285.1 L307.0,285.6 L306.8,286.1 L306.6,286.6 L306.4,287.1" stroke-width="14.55"/>
<path d="M306.4,287.1 L306.2,287.6 L306.0,288.1 L305.8,288.6 L305.6,289.0 L305.4,289.5" stroke-width="14.57"/>
<path d="M305.4,289.5 L305.2,290.0 L305.0,290.5 L304.8,291.0 L304.6,291.5 L304.4,292.0" stroke-width="14.59"/>
<path d="M304.4,292.0 L304.2,292.5 L304.0,293.0 L303.8,293.5 L303.6,294.0 L303.4,294.5" stroke-width="14.62"/>
<path d="M303.4,294.5 L303.1,295.0 L302.9,295.4 L302.7,295.9 L302.5,296.4 L302.3,296.9" stroke-width="14.65"/>
<path d="M302.3,296.9 L302.1,297.4 L301.9,297.9 L301.6,298.4 L301.4,298.8 L301.2,299.3" stroke-width="14.69"/>
<path d="M301.2,299.3 L301.0,299.8 L300.7,300.3 L300.5,300.8 L300.3,301.2 L300.1,301.7" stroke-width="14.73"/>
<path d="M300.1,301.7 L299.8,302.2 L299.6,302.7 L299.4,303.2 L299.1,303.6 L298.9,304.1" stroke-width="14.77"/>
<path d="M298.9,304.1 L298.7,304.6 L298.4,305.1 L298.2,305.5 L297.9,306.0 L297.7,306.5" stroke-width="14.82"/>
<path d="M297.7,306.5 L297.4,307.0 L297.2,307.4 L296.9,307.9 L296.7,308.4 L296.4,308.9" stroke-width="14.86"/>
<path d="M296.4,308.9 L296.2,309.3 L295.9,309.8 L295.7,310.3 L295.4,310.7 L295.2,311.2" stroke-width="14.91"/>
<path d="M295.2,311.2 L294.9,311.7 L294.6,312.2 L294.4,312.6 L294.1,313.1 L293.8,313.6" stroke-width="14.97"/>
<path d="M293.8,313.6 L293.6,314.1 L293.3,314.5 L293.0,315.0 L292.7,315.5 L292.4,315.9" stroke-width="15.02"/>
<path d="M292.4,315.9 L292.2,316.4 L291.9,316.9 L291.6,317.4 L291.3,317.8 L291.0,318.3" stroke-width="15.07"/>
<path d="M291.0,318.3 L290.7,318.8 L290.4,319.3 L290.1,319.7 L289.8,320.2 L289.5,320.7" stroke-width="15.13"/>
<path d="M289.5,320.7 L289.2,321.2 L288.9,321.6 L288.6,322.1 L288.3,322.6 L288.0,323.1" stroke-width="15.19"/>
<path d="M288.0,323.1 L287.6,323.6 L287.3,324.0 L287.0,324.5 L286.7,325.0 L286.4,325.5" stroke-width="15.24"/>
<path d="M286.4,325.5 L286.0,326.0 L285.7,326.5 L285.4,326.9 L285.0,327.4 L284.7,327.9" stroke-width="15.30"/>
<path d="M284.7,327.9 L284.3,328.4 L284.0,328.9 L283.6,329.4 L283.3,329.8 L282.9,330.3" stroke-width="15.36"/>
<path d="M282.9,330.3 L282.6,330.8 L282.2,331.3 L281.8,331.8 L281.5,332.3 L281.1,332.7" stroke-width="15.44"/>
<path d="M281.1,332.7 L280.7,333.2 L280.4,333.7 L280.0,334.2 L279.6,334.6 L279.2,335.1" stroke-width="15.56"/>
<path d="M279.2,335.1 L278.9,335.5 L278.5,336.0 L278.1,336.4 L277.7,336.9 L277.3,337.3" stroke-width="15.72"/>
<path d="M277.3,337.3 L276.9,337.7 L276.5,338.2 L276.1,338.6 L275.7,339.0 L275.3,339.4" stroke-width="15.92"/>
<path d="M275.3,339.4 L274.9,339.8 L274.5,340.2 L274.1,340.5 L273.7,340.9 L273.3,341.2" stroke-width="16.19"/>
<path d="M273.3,341.2 L272.9,341.6 L272.5,341.9 L272.1,342.2 L271.7,342.5 L271.2,342.8" stroke-width="16.53"/>
<path d="M271.2,342.8 L270.8,343.1 L270.4,343.4 L270.0,343.6 L269.5,343.9 L269.1,344.1" stroke-width="16.94"/>
<path d="M269.1,344.1 L268.7,344.3 L268.3,344.5 L267.8,344.7 L267.4,344.9 L267.0,345.0" stroke-width="17.38"/>
<path d="M267.0,345.0 L266.5,345.1 L266.1,345.3 L265.7,345.4 L265.2,345.5 L264.8,345.5" stroke-width="17.78"/>
<path d="M264.8,345.5 L264.4,345.6 L263.9,345.6 L263.5,345.6 L263.0,345.6 L262.6,345.6" stroke-width="17.98"/>
<path d="M262.6,345.6 L262.1,345.5 L261.7,345.5 L261.3,345.4 L260.8,345.3 L260.4,345.2" stroke-width="17.88"/>
<path d="M260.4,345.2 L259.9,345.1 L259.5,345.0 L259.0,344.8 L258.6,344.6 L258.1,344.5" stroke-width="17.59"/>
<path d="M258.1,344.5 L257.7,344.3 L257.2,344.1 L256.8,343.9 L256.3,343.6 L255.9,343.4" stroke-width="17.23"/>
<path d="M255.9,343.4 L255.4,343.1 L255.0,342.8 L254.5,342.6 L254.1,342.3 L253.7,342.0" stroke-width="16.87"/>
<path d="M253.7,342.0 L253.2,341.7 L252.8,341.3 L252.3,341.0 L251.9,340.7 L251.4,340.3" stroke-width="16.56"/>
<path d="M251.4,340.3 L251.0,339.9 L250.6,339.6 L250.1,339.2 L249.7,338.8 L249.2,338.4" stroke-width="16.30"/>
<path d="M249.2,338.4 L248.8,338.0 L248.4,337.6 L247.9,337.2 L247.5,336.7 L247.1,336.3" stroke-width="16.08"/>
<path d="M247.1,336.3 L246.6,335.9 L246.2,335.4 L245.8,335.0 L245.3,334.5 L244.9,334.1" stroke-width="15.91"/>
<path d="M244.9,334.1 L244.5,333.6 L244.1,333.1 L243.7,332.7 L243.2,332.2 L242.8,331.7" stroke-width="15.77"/>
<path d="M242.8,331.7 L242.4,331.2 L242.0,330.7 L241.6,330.3 L241.2,329.8 L240.8,329.3" stroke-width="15.66"/>
<path d="M240.8,329.3 L240.4,328.8 L240.0,328.3 L239.6,327.8 L239.2,327.3 L238.8,326.8" stroke-width="15.58"/>
<path d="M238.8,326.8 L238.4,326.3 L238.0,325.8 L237.6,325.3 L237.2,324.9 L236.9,324.4" stroke-width="15.52"/>
<path d="M236.9,324.4 L236.5,323.9 L236.1,323.4 L235.7,322.9 L235.4,322.4 L235.0,321.9" stroke-width="15.47"/>
<path d="M235.0,321.9 L234.7,321.5 L234.3,321.0 L233.9,320.5 L233.6,320.0 L233.2,319.5" stroke-width="15.42"/>
<path d="M233.2,319.5 L232.9,319.1 L232.5,318.6 L232.2,318.1 L231.8,317.6 L231.5,317.1" stroke-width="15.38"/>
<path d="M231.5,317.1 L231.2,316.7 L230.8,316.2 L230.5,315.7 L230.1,315.3 L229.8,314.8" stroke-width="15.35"/>
<path d="M229.8,314.8 L229.5,314.3 L229.2,313.9 L228.8,313.4 L228.5,312.9 L228.2,312.5" stroke-width="15.31"/>
<path d="M228.2,312.5 L227.9,312.0 L227.5,311.5 L227.2,311.1 L226.9,310.6 L226.6,310.1" stroke-width="15.28"/>
<path d="M226.6,310.1 L226.3,309.7 L226.0,309.2 L225.7,308.8 L225.3,308.3 L225.0,307.8" stroke-width="15.26"/>
<path d="M225.0,307.8 L224.7,307.4 L224.4,306.9 L224.1,306.5 L223.8,306.0 L223.5,305.6" stroke-width="15.24"/>
<path d="M223.5,305.6 L223.2,305.1 L222.9,304.7 L222.6,304.2 L222.3,303.8 L222.0,303.3" stroke-width="15.22"/>
<path d="M222.0,303.3 L221.7,302.9 L221.4,302.4 L221.1,302.0 L220.8,301.5 L220.6,301.1" stroke-width="15.21"/>
<path d="M220.6,301.1 L220.3,300.6 L220.0,300.2 L219.7,299.8 L219.4,299.3 L219.1,298.9" stroke-width="15.21"/>
<path d="M219.1,298.9 L218.8,298.4 L218.5,298.0 L218.2,297.6 L217.9,297.1 L217.7,296.7" stroke-width="15.21"/>
<path d="M217.7,296.7 L217.4,296.2 L217.1,295.8 L216.8,295.4 L216.5,294.9 L216.2,294.5" stroke-width="15.21"/>
<path d="M216.2,294.5 L215.9,294.1 L215.6,293.6 L215.4,293.2 L215.1,292.8 L214.8,292.3" stroke-width="15.23"/>
<path d="M214.8,292.3 L214.5,291.9 L214.2,291.5 L213.9,291.1 L213.6,290.6 L213.3,290.2" stroke-width="15.24"/>
<path d="M213.3,290.2 L213.1,289.8 L212.8,289.3 L212.5,288.9 L212.2,288.5 L211.9,288.1" stroke-width="15.27"/>
<path d="M211.9,288.1 L211.6,287.6 L211.3,287.2 L211.0,286.8 L210.7,286.4 L210.4,286.0" stroke-width="15.30"/>
<path d="M210.4,286.0 L210.1,285.5 L209.8,285.1 L209.5,284.7 L209.2,284.3 L208.9,283.9" stroke-width="15.33"/>
<path d="M208.9,283.9 L208.6,283.4 L208.3,283.0 L208.0,282.6 L207.7,282.2 L207.4,281.8" stroke-width="15.37"/>
<path d="M207.4,281.8 L207.1,281.4 L206.8,280.9 L206.5,280.5 L206.2,280.1 L205.9,279.7" stroke-width="15.42"/>
<path d="M205.9,279.7 L205.6,279.3 L205.3,278.9 L205.0,278.5 L204.7,278.1 L204.3,277.6" stroke-width="15.47"/>
<path d="M204.3,277.6 L204.0,277.2 L203.7,276.8 L203.4,276.4 L203.0,276.0 L202.7,275.6" stroke-width="15.53"/>
<path d="M202.7,275.6 L202.4,275.2 L202.1,274.8 L201.7,274.4 L201.4,274.0 L201.1,273.6" stroke-width="15.59"/>
<path d="M201.1,273.6 L200.7,273.2 L200.4,272.8 L200.0,272.4 L199.7,271.9 L199.4,271.5" stroke-width="15.66"/>
<path d="M199.4,271.5 L199.0,271.1 L198.7,270.7 L198.3,270.3 L198.0,269.9 L197.6,269.5" stroke-width="15.73"/>
<path d="M197.6,269.5 L197.2,269.1 L196.9,268.7 L196.5,268.3 L196.2,267.9 L195.8,267.5" stroke-width="15.79"/>
<path d="M195.8,267.5 L195.4,267.1 L195.1,266.7 L194.7,266.3 L194.3,265.9 L193.9,265.5" stroke-width="15.86"/>
<path d="M193.9,265.5 L193.6,265.1 L193.2,264.7 L192.8,264.3 L192.4,263.9 L192.0,263.5" stroke-width="15.92"/>
<path d="M192.0,263.5 L191.6,263.2 L191.3,262.8 L190.9,262.4 L190.5,262.0 L190.1,261.6" stroke-width="15.97"/>
<path d="M190.1,261.6 L189.7,261.2 L189.3,260.8 L188.9,260.4 L188.5,260.0 L188.1,259.6" stroke-width="16.03"/>
<path d="M188.1,259.6 L187.7,259.2 L187.3,258.8 L186.9,258.4 L186.5,258.0 L186.0,257.6" stroke-width="16.08"/>
<path d="M186.0,257.6 L185.6,257.2 L185.2,256.9 L184.8,256.5 L184.4,256.1 L183.9,255.7" stroke-width="16.13"/>
<path d="M183.9,255.7 L183.5,255.3 L183.1,254.9 L182.7,254.5 L182.2,254.1 L181.8,253.7" stroke-width="16.18"/>
<path d="M181.8,253.7 L181.4,253.3 L180.9,253.0 L180.5,252.6 L180.1,252.2 L179.6,251.8" stroke-width="16.23"/>
<path d="M179.6,251.8 L179.2,251.4 L178.8,251.0 L178.3,250.6 L177.9,250.2 L177.4,249.9" stroke-width="16.28"/>
<path d="M177.4,249.9 L177.0,249.5 L176.5,249.1 L176.1,248.7 L175.6,248.3 L175.2,248.0" stroke-width="16.35"/>
<path d="M175.2,248.0 L174.7,247.6 L174.2,247.2 L173.8,246.9 L173.3,246.5 L172.9,246.1" stroke-width="16.47"/>
<path d="M172.9,246.1 L172.4,245.8 L171.9,245.5 L171.5,245.1 L171.0,244.8 L170.5,244.5" stroke-width="16.63"/>
<path d="M170.5,244.5 L170.1,244.1 L169.6,243.8 L169.1,243.5 L168.6,243.2 L168.2,243.0" stroke-width="16.84"/>
<path d="M168.2,243.0 L167.7,242.7 L167.2,242.4 L166.7,242.1 L166.2,241.9 L165.8,241.7" stroke-width="17.10"/>
<path d="M165.8,241.7 L165.3,241.4 L164.8,241.2 L164.3,241.0 L163.8,240.8 L163.3,240.6" stroke-width="17.38"/>
<path d="M163.3,240.6 L162.9,240.5 L162.4,240.3 L161.9,240.1 L161.4,240.0 L160.9,239.9" stroke-width="17.67"/>
<path d="M160.9,239.9 L160.4,239.8 L159.9,239.7 L159.4,239.6 L158.9,239.6 L158.4,239.5" stroke-width="17.90"/>
<path d="M158.4,239.5 L158.0,239.5 L157.5,239.5 L157.0,239.5 L156.5,239.5 L156.0,239.5" stroke-width="17.99"/>
<path d="M156.0,239.5 L155.5,239.6 L155.0,239.6 L154.5,239.7 L154.0,239.8 L153.5,239.9" stroke-width="17.88"/>
<path d="M153.5,239.9 L153.0,240.1 L152.5,240.2 L152.0,240.4 L151.5,240.5 L151.0,240.7" stroke-width="17.63"/>
<path d="M151.0,240.7 L150.5,240.9 L150.0,241.1 L149.6,241.3 L149.1,241.6 L148.6,241.8" stroke-width="17.31"/>
<path d="M148.6,241.8 L148.1,242.1 L147.6,242.4 L147.1,242.6 L146.7,242.9 L146.2,243.2" stroke-width="16.98"/>
<path d="M146.2,243.2 L145.7,243.5 L145.3,243.9 L144.8,244.2 L144.3,244.5 L143.9,244.9" stroke-width="16.65"/>
<path d="M143.9,244.9 L143.4,245.2 L143.0,245.6 L142.5,246.0 L142.1,246.4 L141.7,246.8" stroke-width="16.34"/>
<path d="M141.7,246.8 L141.2,247.1 L140.8,247.6 L140.4,248.0 L140.0,248.4 L139.5,248.8" stroke-width="16.06"/>
<path d="M139.5,248.8 L139.1,249.2 L138.7,249.7 L138.3,250.1 L137.9,250.5 L137.6,251.0" stroke-width="15.80"/>
<path d="M137.6,251.0 L137.2,251.4 L136.8,251.9 L136.4,252.4 L136.1,252.8 L135.7,253.3" stroke-width="15.56"/>
<path d="M135.7,253.3 L135.4,253.8 L135.0,254.2 L134.7,254.7 L134.4,255.2 L134.1,255.7" stroke-width="15.31"/>
<path d="M134.1,255.7 L133.7,256.2 L133.4,256.7 L133.1,257.2 L132.9,257.7 L132.6,258.2" stroke-width="15.06"/>
<path d="M132.6,258.2 L132.3,258.7 L132.0,259.2 L131.8,259.7 L131.5,260.2 L131.3,260.7" stroke-width="14.81"/>
<path d="M131.3,260.7 L131.1,261.2 L130.8,261.7 L130.6,262.2 L130.4,262.8 L130.2,263.3" stroke-width="14.57"/>
<path d="M130.2,263.3 L130.1,263.8 L129.9,264.3 L129.7,264.8 L129.6,265.4 L129.4,265.9" stroke-width="14.36"/>
<path d="M129.4,265.9 L129.3,266.4 L129.2,266.9 L129.1,267.5 L129.0,268.0 L128.9,268.5" stroke-width="14.17"/>
<path d="M128.9,268.5 L128.8,269.0 L128.7,269.6 L128.7,270.1 L128.6,270.6 L128.6,271.2" stroke-width="14.05"/>
<path d="M128.6,271.2 L128.6,271.7 L128.6,272.2 L128.6,272.7 L128.6,273.3 L128.6,273.8" stroke-width="14.01"/>
<path d="M128.6,273.8 L128.6,274.3 L128.7,274.8 L128.7,275.3 L128.8,275.9 L128.9,276.4" stroke-width="14.04"/>
<path d="M128.9,276.4 L128.9,276.9 L129.0,277.4 L129.1,278.0 L129.2,278.5 L129.3,279.0" stroke-width="14.13"/>
<path d="M129.3,279.0 L129.5,279.5 L129.6,280.0 L129.7,280.5 L129.8,281.1 L130.0,281.6" stroke-width="14.24"/>
<path d="M130.0,281.6 L130.1,282.1 L130.3,282.6 L130.4,283.1 L130.6,283.6 L130.8,284.2" stroke-width="14.33"/>
<path d="M130.8,284.2 L130.9,284.7 L131.1,285.2 L131.3,285.7 L131.4,286.2 L131.6,286.7" stroke-width="14.40"/>
<path d="M131.6,286.7 L131.8,287.2 L132.0,287.8 L132.2,288.3 L132.3,288.8 L132.5,289.3" stroke-width="14.43"/>
<path d="M132.5,289.3 L132.7,289.8 L132.9,290.3 L133.1,290.8 L133.2,291.3 L133.4,291.8" stroke-width="14.43"/>
<path d="M133.4,291.8 L133.6,292.4 L133.7,292.9 L133.9,293.4 L134.1,293.9 L134.2,294.4" stroke-width="14.38"/>
<path d="M134.2,294.4 L134.4,294.9 L134.5,295.4 L134.7,295.9 L134.8,296.4 L135.0,297.0" stroke-width="14.31"/>
<path d="M135.0,297.0 L135.1,297.5 L135.2,298.0 L135.4,298.5 L135.5,299.0 L135.6,299.5" stroke-width="14.24"/>
<path d="M135.6,299.5 L135.7,300.0 L135.8,300.5 L136.0,301.0 L136.1,301.6 L136.2,302.1" stroke-width="14.18"/>
<path d="M136.2,302.1 L136.3,302.6 L136.4,303.1 L136.5,303.6 L136.6,304.1 L136.7,304.7" stroke-width="14.15"/>
<path d="M136.7,304.7 L136.8,305.2 L136.9,305.7 L137.0,306.2 L137.1,306.8 L137.2,307.3" stroke-width="14.13"/>
<path d="M137.2,307.3 L137.3,307.8 L137.4,308.4 L137.5,308.9 L137.6,309.4 L137.7,310.0" stroke-width="14.13"/>
<path d="M137.7,310.0 L137.8,310.5 L137.9,311.1 L138.0,311.6 L138.1,312.2 L138.2,312.7" stroke-width="14.15"/>
<path d="M138.2,312.7 L138.3,313.3 L138.4,313.9 L138.6,314.4 L138.7,315.0 L138.8,315.6" stroke-width="14.17"/>
<path d="M138.8,315.6 L138.9,316.2 L139.1,316.8 L139.2,317.3 L139.3,317.9 L139.5,318.5" stroke-width="14.21"/>
<path d="M139.5,318.5 L139.6,319.1 L139.8,319.7 L140.0,320.3 L140.1,320.9 L140.3,321.6" stroke-width="14.27"/>
<path d="M140.3,321.6 L140.5,322.2 L140.7,322.8 L140.9,323.4 L141.1,324.1 L141.3,324.7" stroke-width="14.34"/>
<path d="M141.3,324.7 L141.5,325.3 L141.7,326.0 L141.9,326.6 L142.1,327.2 L142.4,327.9" stroke-width="14.42"/>
<path d="M142.4,327.9 L142.6,328.5 L142.8,329.1 L143.1,329.7 L143.3,330.4 L143.6,331.0" stroke-width="14.53"/>
<path d="M143.6,331.0 L143.8,331.6 L144.1,332.2 L144.3,332.8 L144.6,333.4 L144.9,333.9" stroke-width="14.66"/>
<path d="M144.9,333.9 L145.1,334.5 L145.4,335.1 L145.7,335.6 L146.0,336.2 L146.3,336.7" stroke-width="14.83"/>
<path d="M146.3,336.7 L146.6,337.2 L146.9,337.7 L147.2,338.2 L147.5,338.7 L147.8,339.1" stroke-width="15.08"/>
<path d="M147.8,339.1 L148.1,339.6 L148.4,340.0 L148.7,340.4 L149.0,340.8 L149.3,341.2" stroke-width="15.45"/>
<path d="M149.3,341.2 L149.6,341.6 L149.9,341.9 L150.2,342.2 L150.6,342.5 L150.9,342.8" stroke-width="16.03"/>
<path d="M150.9,342.8 L151.2,343.0 L151.5,343.3 L151.9,343.5 L152.2,343.7 L152.5,343.8" stroke-width="16.86"/>
<path d="M152.5,343.8 L152.8,343.9 L153.2,344.1 L153.5,344.1 L153.8,344.2 L154.2,344.2" stroke-width="17.73"/>
</g>
<g fill="none" stroke-linecap="round" stroke-linejoin="round">
<path d="M153.5,344.1 L153.8,344.2 L154.2,344.2 L154.5,344.2 L154.8,344.2 L155.2,344.1 L155.5,344.0 L155.8,343.9 L156.1,343.8 L156.5,343.6" stroke="#a1a1a1" stroke-width="12.61" stroke-linecap="butt"/>
<path d="M155.2,344.1 L155.5,344.0 L155.8,343.9 L156.1,343.8 L156.5,343.6 L156.8,343.4 L157.1,343.2 L157.5,343.0 L157.8,342.7 L158.1,342.4" stroke="#a2a2a2" stroke-width="11.82" stroke-linecap="butt"/>
<path d="M156.8,343.4 L157.1,343.2 L157.5,343.0 L157.8,342.7 L158.1,342.4 L158.4,342.1 L158.8,341.8 L159.1,341.5 L159.4,341.1 L159.7,340.7" stroke="#a4a4a4" stroke-width="10.99" stroke-linecap="butt"/>
<path d="M158.4,342.1 L158.8,341.8 L159.1,341.5 L159.4,341.1 L159.7,340.7 L160.1,340.3 L160.4,339.9 L160.7,339.5 L161.0,339.0 L161.3,338.6" stroke="#a5a5a5" stroke-width="10.40" stroke-linecap="butt"/>
<path d="M160.1,340.3 L160.4,339.9 L160.7,339.5 L161.0,339.0 L161.3,338.6 L161.6,338.1 L161.9,337.6 L162.2,337.1 L162.6,336.6 L162.9,336.1" stroke="#a6a6a6" stroke-width="10.02" stroke-linecap="butt"/>
<path d="M161.6,338.1 L161.9,337.6 L162.2,337.1 L162.6,336.6 L162.9,336.1 L163.2,335.5 L163.5,335.0 L163.8,334.4 L164.0,333.9 L164.3,333.3" stroke="#a8a8a8" stroke-width="9.76" stroke-linecap="butt"/>
<path d="M163.2,335.5 L163.5,335.0 L163.8,334.4 L164.0,333.9 L164.3,333.3 L164.6,332.7 L164.9,332.1 L165.2,331.5 L165.5,330.9 L165.8,330.3" stroke="#a9a9a9" stroke-width="9.59" stroke-linecap="butt"/>
<path d="M164.6,332.7 L164.9,332.1 L165.2,331.5 L165.5,330.9 L165.8,330.3 L166.0,329.7 L166.3,329.1 L166.6,328.5 L166.8,327.8 L167.1,327.2" stroke="#aaaaaa" stroke-width="9.46" stroke-linecap="butt"/>
<path d="M166.0,329.7 L166.3,329.1 L166.6,328.5 L166.8,327.8 L167.1,327.2 L167.3,326.6 L167.6,326.0 L167.8,325.3 L168.1,324.7 L168.3,324.1" stroke="#ababab" stroke-width="9.37" stroke-linecap="butt"/>
<path d="M167.3,326.6 L167.6,326.0 L167.8,325.3 L168.1,324.7 L168.3,324.1 L168.6,323.5 L168.8,322.8 L169.0,322.2 L169.2,321.6 L169.4,321.0" stroke="#acacac" stroke-width="9.30" stroke-linecap="butt"/>
<path d="M168.6,323.5 L168.8,322.8 L169.0,322.2 L169.2,321.6 L169.4,321.0 L169.7,320.4 L169.9,319.8 L170.1,319.2 L170.3,318.6 L170.5,318.0" stroke="#adadad" stroke-width="9.24" stroke-linecap="butt"/>
<path d="M169.7,320.4 L169.9,319.8 L170.1,319.2 L170.3,318.6 L170.5,318.0 L170.7,317.4 L170.8,316.8 L171.0,316.3 L171.2,315.7 L171.4,315.1" stroke="#aeaeae" stroke-width="9.19" stroke-linecap="butt"/>
<path d="M170.7,317.4 L170.8,316.8 L171.0,316.3 L171.2,315.7 L171.4,315.1 L171.6,314.6 L171.7,314.0 L171.9,313.5 L172.1,312.9 L172.2,312.4" stroke="#aeaeae" stroke-width="9.15" stroke-linecap="butt"/>
<path d="M171.6,314.6 L171.7,314.0 L171.9,313.5 L172.1,312.9 L172.2,312.4 L172.4,311.8 L172.5,311.3 L172.7,310.7 L172.9,310.2 L173.0,309.7" stroke="#afafaf" stroke-width="9.12" stroke-linecap="butt"/>
<path d="M172.4,311.8 L172.5,311.3 L172.7,310.7 L172.9,310.2 L173.0,309.7 L173.2,309.1 L173.3,308.6 L173.4,308.1 L173.6,307.5 L173.7,307.0" stroke="#afafaf" stroke-width="9.09" stroke-linecap="butt"/>
<path d="M173.2,309.1 L173.3,308.6 L173.4,308.1 L173.6,307.5 L173.7,307.0 L173.9,306.5 L174.0,306.0 L174.2,305.5 L174.3,304.9 L174.4,304.4" stroke="#afafaf" stroke-width="9.08" stroke-linecap="butt"/>
<path d="M173.9,306.5 L174.0,306.0 L174.2,305.5 L174.3,304.9 L174.4,304.4 L174.6,303.9 L174.7,303.4 L174.8,302.9 L175.0,302.4 L175.1,301.9" stroke="#b0b0b0" stroke-width="9.07" stroke-linecap="butt"/>
<path d="M174.6,303.9 L174.7,303.4 L174.8,302.9 L175.0,302.4 L175.1,301.9 L175.2,301.4 L175.4,300.9 L175.5,300.4 L175.7,299.9 L175.8,299.4" stroke="#b0b0b0" stroke-width="9.08" stroke-linecap="butt"/>
<path d="M175.2,301.4 L175.4,300.9 L175.5,300.4 L175.7,299.9 L175.8,299.4 L175.9,298.9 L176.1,298.4 L176.2,297.9 L176.4,297.4 L176.5,296.9" stroke="#b0b0b0" stroke-width="9.09" stroke-linecap="butt"/>
<path d="M175.9,298.9 L176.1,298.4 L176.2,297.9 L176.4,297.4 L176.5,296.9 L176.7,296.4 L176.8,295.9 L176.9,295.4 L177.1,294.9 L177.3,294.4" stroke="#b0b0b0" stroke-width="9.12" stroke-linecap="butt"/>
<path d="M176.7,296.4 L176.8,295.9 L176.9,295.4 L177.1,294.9 L177.3,294.4 L177.4,293.9 L177.6,293.4 L177.7,292.9 L177.9,292.4 L178.0,291.9" stroke="#b0b0b0" stroke-width="9.15" stroke-linecap="butt"/>
<path d="M177.4,293.9 L177.6,293.4 L177.7,292.9 L177.9,292.4 L178.0,291.9 L178.2,291.4 L178.4,290.9 L178.5,290.4 L178.7,289.9 L178.9,289.4" stroke="#b0b0b0" stroke-width="9.18" stroke-linecap="butt"/>
<path d="M178.2,291.4 L178.4,290.9 L178.5,290.4 L178.7,289.9 L178.9,289.4 L179.0,288.9 L179.2,288.4 L179.4,287.9 L179.6,287.4 L179.7,286.9" stroke="#b0b0b0" stroke-width="9.22" stroke-linecap="butt"/>
<path d="M179.0,288.9 L179.2,288.4 L179.4,287.9 L179.6,287.4 L179.7,286.9 L179.9,286.4 L180.1,285.9 L180.3,285.4 L180.5,284.9 L180.7,284.4" stroke="#b0b0b0" stroke-width="9.26" stroke-linecap="butt"/>
<path d="M179.9,286.4 L180.1,285.9 L180.3,285.4 L180.5,284.9 L180.7,284.4 L180.8,283.9 L181.0,283.4 L181.2,282.9 L181.4,282.4 L181.6,281.9" stroke="#b0b0b0" stroke-width="9.29" stroke-linecap="butt"/>
<path d="M180.8,283.9 L181.0,283.4 L181.2,282.9 L181.4,282.4 L181.6,281.9 L181.8,281.4 L182.0,280.9 L182.2,280.4 L182.4,279.9 L182.6,279.4" stroke="#b0b0b0" stroke-width="9.32" stroke-linecap="butt"/>
<path d="M181.8,281.4 L182.0,280.9 L182.2,280.4 L182.4,279.9 L182.6,279.4 L182.8,278.9 L183.0,278.4 L183.2,277.9 L183.4,277.4 L183.6,276.9" stroke="#b0b0b0" stroke-width="9.36" stroke-linecap="butt"/>
<path d="M182.8,278.9 L183.0,278.4 L183.2,277.9 L183.4,277.4 L183.6,276.9 L183.8,276.4 L184.0,275.9 L184.2,275.4 L184.4,274.9 L184.7,274.4" stroke="#b0b0b0" stroke-width="9.39" stroke-linecap="butt"/>
<path d="M183.8,276.4 L184.0,275.9 L184.2,275.4 L184.4,274.9 L184.7,274.4 L184.9,273.9 L185.1,273.4 L185.3,272.9 L185.5,272.4 L185.7,271.9" stroke="#b0b0b0" stroke-width="9.42" stroke-linecap="butt"/>
<path d="M184.9,273.9 L185.1,273.4 L185.3,272.9 L185.5,272.4 L185.7,271.9 L186.0,271.4 L186.2,270.9 L186.4,270.4 L186.6,269.9 L186.9,269.4" stroke="#b0b0b0" stroke-width="9.45" stroke-linecap="butt"/>
<path d="M186.0,271.4 L186.2,270.9 L186.4,270.4 L186.6,269.9 L186.9,269.4 L187.1,268.9 L187.3,268.4 L187.5,267.9 L187.8,267.4 L188.0,266.9" stroke="#b0b0b0" stroke-width="9.48" stroke-linecap="butt"/>
<path d="M187.1,268.9 L187.3,268.4 L187.5,267.9 L187.8,267.4 L188.0,266.9 L188.2,266.5 L188.5,266.0 L188.7,265.5 L188.9,265.0 L189.2,264.5" stroke="#b0b0b0" stroke-width="9.51" stroke-linecap="butt"/>
<path d="M188.2,266.5 L188.5,266.0 L188.7,265.5 L188.9,265.0 L189.2,264.5 L189.4,264.0 L189.6,263.5 L189.9,263.0 L190.1,262.5 L190.4,262.0" stroke="#b0b0b0" stroke-width="9.54" stroke-linecap="butt"/>
<path d="M189.4,264.0 L189.6,263.5 L189.9,263.0 L190.1,262.5 L190.4,262.0 L190.6,261.5 L190.8,261.0 L191.1,260.5 L191.3,260.0 L191.6,259.5" stroke="#b0b0b0" stroke-width="9.57" stroke-linecap="butt"/>
<path d="M190.6,261.5 L190.8,261.0 L191.1,260.5 L191.3,260.0 L191.6,259.5 L191.8,259.0 L192.1,258.5 L192.3,258.1 L192.6,257.6 L192.8,257.1" stroke="#b0b0b0" stroke-width="9.60" stroke-linecap="butt"/>
<path d="M191.8,259.0 L192.1,258.5 L192.3,258.1 L192.6,257.6 L192.8,257.1 L193.1,256.6 L193.3,256.1 L193.6,255.6 L193.8,255.1 L194.1,254.6" stroke="#b0b0b0" stroke-width="9.62" stroke-linecap="butt"/>
<path d="M193.1,256.6 L193.3,256.1 L193.6,255.6 L193.8,255.1 L194.1,254.6 L194.3,254.1 L194.6,253.6 L194.8,253.2 L195.1,252.7 L195.3,252.2" stroke="#b0b0b0" stroke-width="9.65" stroke-linecap="butt"/>
<path d="M194.3,254.1 L194.6,253.6 L194.8,253.2 L195.1,252.7 L195.3,252.2 L195.6,251.7 L195.9,251.2 L196.1,250.7 L196.4,250.2 L196.6,249.8" stroke="#b0b0b0" stroke-width="9.67" stroke-linecap="butt"/>
<path d="M195.6,251.7 L195.9,251.2 L196.1,250.7 L196.4,250.2 L196.6,249.8 L196.9,249.3 L197.2,248.8 L197.4,248.3 L197.7,247.8 L197.9,247.3" stroke="#b0b0b0" stroke-width="9.69" stroke-linecap="butt"/>
<path d="M196.9,249.3 L197.2,248.8 L197.4,248.3 L197.7,247.8 L197.9,247.3 L198.2,246.9 L198.5,246.4 L198.7,245.9 L199.0,245.4 L199.3,244.9" stroke="#b0b0b0" stroke-width="9.72" stroke-linecap="butt"/>
<path d="M198.2,246.9 L198.5,246.4 L198.7,245.9 L199.0,245.4 L199.3,244.9 L199.5,244.5 L199.8,244.0 L200.1,243.5 L200.3,243.0 L200.6,242.5" stroke="#b0b0b0" stroke-width="9.75" stroke-linecap="butt"/>
<path d="M199.5,244.5 L199.8,244.0 L200.1,243.5 L200.3,243.0 L200.6,242.5 L200.9,242.1 L201.2,241.6 L201.4,241.1 L201.7,240.6 L202.0,240.2" stroke="#b0b0b0" stroke-width="9.79" stroke-linecap="butt"/>
<path d="M200.9,242.1 L201.2,241.6 L201.4,241.1 L201.7,240.6 L202.0,240.2 L202.3,239.7 L202.5,239.2 L202.8,238.8 L203.1,238.3 L203.4,237.8" stroke="#b0b0b0" stroke-width="9.84" stroke-linecap="butt"/>
<path d="M202.3,239.7 L202.5,239.2 L202.8,238.8 L203.1,238.3 L203.4,237.8 L203.7,237.4 L204.0,236.9 L204.3,236.4 L204.5,236.0 L204.8,235.5" stroke="#b0b0b0" stroke-width="9.90" stroke-linecap="butt"/>
<path d="M203.7,237.4 L204.0,236.9 L204.3,236.4 L204.5,236.0 L204.8,235.5 L205.1,235.1 L205.4,234.6 L205.7,234.2 L206.0,233.7 L206.3,233.3" stroke="#b0b0b0" stroke-width="9.98" stroke-linecap="butt"/>
<path d="M205.1,235.1 L205.4,234.6 L205.7,234.2 L206.0,233.7 L206.3,233.3 L206.6,232.8 L206.9,232.4 L207.3,231.9 L207.6,231.5 L207.9,231.0" stroke="#b0b0b0" stroke-width="10.06" stroke-linecap="butt"/>
<path d="M206.6,232.8 L206.9,232.4 L207.3,231.9 L207.6,231.5 L207.9,231.0 L208.2,230.6 L208.5,230.1 L208.8,229.7 L209.2,229.3 L209.5,228.8" stroke="#b0b0b0" stroke-width="10.16" stroke-linecap="butt"/>
<path d="M208.2,230.6 L208.5,230.1 L208.8,229.7 L209.2,229.3 L209.5,228.8 L209.8,228.4 L210.2,228.0 L210.5,227.5 L210.8,227.1 L211.2,226.7" stroke="#afafaf" stroke-width="10.28" stroke-linecap="butt"/>
<path d="M209.8,228.4 L210.2,228.0 L210.5,227.5 L210.8,227.1 L211.2,226.7 L211.5,226.3 L211.9,225.9 L212.2,225.4 L212.6,225.0 L212.9,224.6" stroke="#afafaf" stroke-width="10.40" stroke-linecap="butt"/>
<path d="M211.5,226.3 L211.9,225.9 L212.2,225.4 L212.6,225.0 L212.9,224.6 L213.3,224.2 L213.6,223.8 L214.0,223.4 L214.4,223.0 L214.8,222.6" stroke="#afafaf" stroke-width="10.54" stroke-linecap="butt"/>
<path d="M213.3,224.2 L213.6,223.8 L214.0,223.4 L214.4,223.0 L214.8,222.6 L215.1,222.2 L215.5,221.8 L215.9,221.4 L216.3,221.0 L216.7,220.6" stroke="#aeaeae" stroke-width="10.69" stroke-linecap="butt"/>
<path d="M215.1,222.2 L215.5,221.8 L215.9,221.4 L216.3,221.0 L216.7,220.6 L217.1,220.2 L217.5,219.9 L217.9,219.5 L218.3,219.1 L218.7,218.7" stroke="#aeaeae" stroke-width="10.85" stroke-linecap="butt"/>
<path d="M217.1,220.2 L217.5,219.9 L217.9,219.5 L218.3,219.1 L218.7,218.7 L219.1,218.4 L219.5,218.0 L219.9,217.6 L220.3,217.3 L220.8,216.9" stroke="#adadad" stroke-width="11.02" stroke-linecap="butt"/>
<path d="M219.1,218.4 L219.5,218.0 L219.9,217.6 L220.3,217.3 L220.8,216.9 L221.2,216.6 L221.6,216.2 L222.1,215.9 L222.5,215.5 L223.0,215.2" stroke="#acacac" stroke-width="11.20" stroke-linecap="butt"/>
<path d="M221.2,216.6 L221.6,216.2 L222.1,215.9 L222.5,215.5 L223.0,215.2 L223.4,214.8 L223.9,214.5 L224.4,214.2 L224.8,213.9 L225.3,213.5" stroke="#ababab" stroke-width="11.38" stroke-linecap="butt"/>
<path d="M223.4,214.8 L223.9,214.5 L224.4,214.2 L224.8,213.9 L225.3,213.5 L225.8,213.2 L226.2,212.9 L226.7,212.6 L227.2,212.3 L227.7,212.0" stroke="#aaaaaa" stroke-width="11.59" stroke-linecap="butt"/>
<path d="M225.8,213.2 L226.2,212.9 L226.7,212.6 L227.2,212.3 L227.7,212.0 L228.2,211.8 L228.7,211.5 L229.2,211.2 L229.6,211.0 L230.1,210.7" stroke="#a8a8a8" stroke-width="11.82" stroke-linecap="butt"/>
<path d="M228.2,211.8 L228.7,211.5 L229.2,211.2 L229.6,211.0 L230.1,210.7 L230.6,210.5 L231.1,210.3 L231.6,210.1 L232.1,209.9 L232.6,209.7" stroke="#a7a7a7" stroke-width="12.09" stroke-linecap="butt"/>
<path d="M230.6,210.5 L231.1,210.3 L231.6,210.1 L232.1,209.9 L232.6,209.7 L233.1,209.5 L233.6,209.4 L234.2,209.2 L234.7,209.1 L235.2,208.9" stroke="#a5a5a5" stroke-width="12.37" stroke-linecap="butt"/>
<path d="M233.1,209.5 L233.6,209.4 L234.2,209.2 L234.7,209.1 L235.2,208.9 L235.7,208.8 L236.2,208.7 L236.7,208.7 L237.2,208.6 L237.7,208.5" stroke="#a3a3a3" stroke-width="12.62" stroke-linecap="butt"/>
<path d="M235.7,208.8 L236.2,208.7 L236.7,208.7 L237.2,208.6 L237.7,208.5 L238.2,208.5 L238.7,208.5 L239.2,208.5 L239.7,208.5 L240.2,208.5" stroke="#a2a2a2" stroke-width="12.77" stroke-linecap="butt"/>
<path d="M238.2,208.5 L238.7,208.5 L239.2,208.5 L239.7,208.5 L240.2,208.5 L240.7,208.6 L241.2,208.7 L241.7,208.7 L242.2,208.8 L242.7,208.9" stroke="#a0a0a0" stroke-width="12.75" stroke-linecap="butt"/>
<path d="M240.7,208.6 L241.2,208.7 L241.7,208.7 L242.2,208.8 L242.7,208.9 L243.2,209.1 L243.7,209.2 L244.2,209.3 L244.7,209.5 L245.1,209.7" stroke="#9e9e9e" stroke-width="12.57" stroke-linecap="butt"/>
<path d="M243.2,209.1 L243.7,209.2 L244.2,209.3 L244.7,209.5 L245.1,209.7 L245.6,209.9 L246.1,210.1 L246.6,210.3 L247.1,210.5 L247.6,210.7" stroke="#9d9d9d" stroke-width="12.29" stroke-linecap="butt"/>
<path d="M245.6,209.9 L246.1,210.1 L246.6,210.3 L247.1,210.5 L247.6,210.7 L248.0,211.0 L248.5,211.2 L249.0,211.5 L249.5,211.7 L250.0,212.0" stroke="#9b9b9b" stroke-width="11.99" stroke-linecap="butt"/>
<path d="M248.0,211.0 L248.5,211.2 L249.0,211.5 L249.5,211.7 L250.0,212.0 L250.4,212.3 L250.9,212.6 L251.4,212.9 L251.8,213.2 L252.3,213.6" stroke="#9a9a9a" stroke-width="11.70" stroke-linecap="butt"/>
<path d="M250.4,212.3 L250.9,212.6 L251.4,212.9 L251.8,213.2 L252.3,213.6 L252.8,213.9 L253.2,214.2 L253.7,214.6 L254.1,214.9 L254.6,215.3" stroke="#989898" stroke-width="11.45" stroke-linecap="butt"/>
<path d="M252.8,213.9 L253.2,214.2 L253.7,214.6 L254.1,214.9 L254.6,215.3 L255.0,215.7 L255.5,216.0 L255.9,216.4 L256.4,216.8 L256.8,217.2" stroke="#979797" stroke-width="11.24" stroke-linecap="butt"/>
<path d="M255.0,215.7 L255.5,216.0 L255.9,216.4 L256.4,216.8 L256.8,217.2 L257.3,217.5 L257.7,217.9 L258.2,218.3 L258.6,218.7 L259.0,219.1" stroke="#969696" stroke-width="11.07" stroke-linecap="butt"/>
<path d="M257.3,217.5 L257.7,217.9 L258.2,218.3 L258.6,218.7 L259.0,219.1 L259.5,219.5 L259.9,219.9 L260.3,220.4 L260.7,220.8 L261.2,221.2" stroke="#959595" stroke-width="10.94" stroke-linecap="butt"/>
<path d="M259.5,219.5 L259.9,219.9 L260.3,220.4 L260.7,220.8 L261.2,221.2 L261.6,221.6 L262.0,222.0 L262.4,222.4 L262.8,222.8 L263.2,223.2" stroke="#949494" stroke-width="10.84" stroke-linecap="butt"/>
<path d="M261.6,221.6 L262.0,222.0 L262.4,222.4 L262.8,222.8 L263.2,223.2 L263.6,223.6 L264.0,224.0 L264.4,224.5 L264.8,224.9 L265.2,225.3" stroke="#939393" stroke-width="10.77" stroke-linecap="butt"/>
<path d="M263.6,223.6 L264.0,224.0 L264.4,224.5 L264.8,224.9 L265.2,225.3 L265.6,225.7 L266.0,226.1 L266.4,226.5 L266.8,226.9 L267.2,227.3" stroke="#929292" stroke-width="10.71" stroke-linecap="butt"/>
<path d="M265.6,225.7 L266.0,226.1 L266.4,226.5 L266.8,226.9 L267.2,227.3 L267.5,227.7 L267.9,228.2 L268.3,228.6 L268.7,229.0 L269.0,229.4" stroke="#929292" stroke-width="10.65" stroke-linecap="butt"/>
<path d="M267.5,227.7 L267.9,228.2 L268.3,228.6 L268.7,229.0 L269.0,229.4 L269.4,229.8 L269.8,230.2 L270.1,230.6 L270.5,231.0 L270.9,231.4" stroke="#919191" stroke-width="10.59" stroke-linecap="butt"/>
<path d="M269.4,229.8 L269.8,230.2 L270.1,230.6 L270.5,231.0 L270.9,231.4 L271.2,231.9 L271.6,232.3 L271.9,232.7 L272.3,233.1 L272.7,233.5" stroke="#919191" stroke-width="10.53" stroke-linecap="butt"/>
<path d="M271.2,231.9 L271.6,232.3 L271.9,232.7 L272.3,233.1 L272.7,233.5 L273.0,233.9 L273.4,234.3 L273.7,234.7 L274.0,235.2 L274.4,235.6" stroke="#919191" stroke-width="10.47" stroke-linecap="butt"/>
<path d="M273.0,233.9 L273.4,234.3 L273.7,234.7 L274.0,235.2 L274.4,235.6 L274.7,236.0 L275.1,236.4 L275.4,236.8 L275.8,237.3 L276.1,237.7" stroke="#909090" stroke-width="10.41" stroke-linecap="butt"/>
<path d="M274.7,236.0 L275.1,236.4 L275.4,236.8 L275.8,237.3 L276.1,237.7 L276.4,238.1 L276.8,238.5 L277.1,238.9 L277.4,239.4 L277.8,239.8" stroke="#909090" stroke-width="10.36" stroke-linecap="butt"/>
<path d="M276.4,238.1 L276.8,238.5 L277.1,238.9 L277.4,239.4 L277.8,239.8 L278.1,240.2 L278.4,240.6 L278.7,241.1 L279.1,241.5 L279.4,241.9" stroke="#909090" stroke-width="10.30" stroke-linecap="butt"/>
<path d="M278.1,240.2 L278.4,240.6 L278.7,241.1 L279.1,241.5 L279.4,241.9 L279.7,242.3 L280.0,242.8 L280.3,243.2 L280.7,243.6 L281.0,244.1" stroke="#909090" stroke-width="10.25" stroke-linecap="butt"/>
<path d="M279.7,242.3 L280.0,242.8 L280.3,243.2 L280.7,243.6 L281.0,244.1 L281.3,244.5 L281.6,244.9 L281.9,245.4 L282.3,245.8 L282.6,246.2" stroke="#909090" stroke-width="10.20" stroke-linecap="butt"/>
<path d="M281.3,244.5 L281.6,244.9 L281.9,245.4 L282.3,245.8 L282.6,246.2 L282.9,246.7 L283.2,247.1 L283.5,247.6 L283.8,248.0 L284.1,248.4" stroke="#909090" stroke-width="10.15" stroke-linecap="butt"/>
<path d="M282.9,246.7 L283.2,247.1 L283.5,247.6 L283.8,248.0 L284.1,248.4 L284.4,248.9 L284.7,249.3 L285.0,249.8 L285.4,250.2 L285.7,250.7" stroke="#909090" stroke-width="10.12" stroke-linecap="butt"/>
<path d="M284.4,248.9 L284.7,249.3 L285.0,249.8 L285.4,250.2 L285.7,250.7 L286.0,251.1 L286.3,251.5 L286.6,252.0 L286.9,252.4 L287.2,252.9" stroke="#909090" stroke-width="10.09" stroke-linecap="butt"/>
<path d="M286.0,251.1 L286.3,251.5 L286.6,252.0 L286.9,252.4 L287.2,252.9 L287.5,253.3 L287.8,253.8 L288.1,254.2 L288.4,254.7 L288.7,255.1" stroke="#909090" stroke-width="10.06" stroke-linecap="butt"/>
<path d="M287.5,253.3 L287.8,253.8 L288.1,254.2 L288.4,254.7 L288.7,255.1 L289.0,255.6 L289.3,256.0 L289.6,256.5 L289.9,256.9 L290.2,257.4" stroke="#909090" stroke-width="10.05" stroke-linecap="butt"/>
<path d="M289.0,255.6 L289.3,256.0 L289.6,256.5 L289.9,256.9 L290.2,257.4 L290.5,257.8 L290.8,258.3 L291.1,258.7 L291.4,259.2 L291.7,259.6" stroke="#909090" stroke-width="10.04" stroke-linecap="butt"/>
<path d="M290.5,257.8 L290.8,258.3 L291.1,258.7 L291.4,259.2 L291.7,259.6 L292.0,260.1 L292.3,260.5 L292.6,261.0 L292.9,261.4 L293.2,261.9" stroke="#909090" stroke-width="10.03" stroke-linecap="butt"/>
<path d="M292.0,260.1 L292.3,260.5 L292.6,261.0 L292.9,261.4 L293.2,261.9 L293.5,262.3 L293.8,262.8 L294.1,263.3 L294.4,263.7 L294.7,264.2" stroke="#909090" stroke-width="10.04" stroke-linecap="butt"/>
<path d="M293.5,262.3 L293.8,262.8 L294.1,263.3 L294.4,263.7 L294.7,264.2 L295.0,264.6 L295.4,265.1 L295.7,265.5 L296.0,266.0 L296.3,266.4" stroke="#909090" stroke-width="10.04" stroke-linecap="butt"/>
<path d="M295.0,264.6 L295.4,265.1 L295.7,265.5 L296.0,266.0 L296.3,266.4 L296.6,266.9 L296.9,267.3 L297.2,267.8 L297.5,268.2 L297.8,268.7" stroke="#909090" stroke-width="10.06" stroke-linecap="butt"/>
<path d="M296.6,266.9 L296.9,267.3 L297.2,267.8 L297.5,268.2 L297.8,268.7 L298.1,269.1 L298.4,269.6 L298.7,270.0 L299.0,270.4 L299.3,270.9" stroke="#909090" stroke-width="10.08" stroke-linecap="butt"/>
<path d="M298.1,269.1 L298.4,269.6 L298.7,270.0 L299.0,270.4 L299.3,270.9 L299.6,271.3 L300.0,271.8 L300.3,272.2 L300.6,272.7 L300.9,273.1" stroke="#909090" stroke-width="10.11" stroke-linecap="butt"/>
<path d="M299.6,271.3 L300.0,271.8 L300.3,272.2 L300.6,272.7 L300.9,273.1 L301.2,273.6 L301.5,274.0 L301.8,274.4 L302.2,274.9 L302.5,275.3" stroke="#909090" stroke-width="10.13" stroke-linecap="butt"/>
<path d="M301.2,273.6 L301.5,274.0 L301.8,274.4 L302.2,274.9 L302.5,275.3 L302.8,275.8 L303.1,276.2 L303.4,276.7 L303.7,277.1 L304.1,277.5" stroke="#909090" stroke-width="10.16" stroke-linecap="butt"/>
<path d="M302.8,275.8 L303.1,276.2 L303.4,276.7 L303.7,277.1 L304.1,277.5 L304.4,278.0 L304.7,278.4 L305.0,278.9 L305.3,279.3 L305.7,279.7" stroke="#909090" stroke-width="10.18" stroke-linecap="butt"/>
<path d="M304.4,278.0 L304.7,278.4 L305.0,278.9 L305.3,279.3 L305.7,279.7 L306.0,280.2 L306.3,280.6 L306.6,281.0 L307.0,281.5 L307.3,281.9" stroke="#909090" stroke-width="10.20" stroke-linecap="butt"/>
<path d="M306.0,280.2 L306.3,280.6 L306.6,281.0 L307.0,281.5 L307.3,281.9 L307.6,282.3 L307.9,282.8 L308.2,283.2 L308.6,283.7 L308.9,284.1" stroke="#909090" stroke-width="10.22" stroke-linecap="butt"/>
<path d="M307.6,282.3 L307.9,282.8 L308.2,283.2 L308.6,283.7 L308.9,284.1 L309.2,284.5 L309.5,285.0 L309.9,285.4 L310.2,285.8 L310.5,286.3" stroke="#909090" stroke-width="10.23" stroke-linecap="butt"/>
<path d="M309.2,284.5 L309.5,285.0 L309.9,285.4 L310.2,285.8 L310.5,286.3 L310.8,286.7 L311.2,287.1 L311.5,287.6 L311.8,288.0 L312.1,288.4" stroke="#909090" stroke-width="10.23" stroke-linecap="butt"/>
<path d="M310.8,286.7 L311.2,287.1 L311.5,287.6 L311.8,288.0 L312.1,288.4 L312.5,288.9 L312.8,289.3 L313.1,289.7 L313.4,290.2 L313.8,290.6" stroke="#909090" stroke-width="10.24" stroke-linecap="butt"/>
<path d="M312.5,288.9 L312.8,289.3 L313.1,289.7 L313.4,290.2 L313.8,290.6 L314.1,291.0 L314.4,291.5 L314.7,291.9 L315.1,292.3 L315.4,292.8" stroke="#909090" stroke-width="10.24" stroke-linecap="butt"/>
<path d="M314.1,291.0 L314.4,291.5 L314.7,291.9 L315.1,292.3 L315.4,292.8 L315.7,293.2 L316.0,293.7 L316.4,294.1 L316.7,294.5 L317.0,295.0" stroke="#909090" stroke-width="10.23" stroke-linecap="butt"/>
<path d="M315.7,293.2 L316.0,293.7 L316.4,294.1 L316.7,294.5 L317.0,295.0 L317.3,295.4 L317.7,295.8 L318.0,296.3 L318.3,296.7 L318.6,297.1" stroke="#909090" stroke-width="10.22" stroke-linecap="butt"/>
<path d="M317.3,295.4 L317.7,295.8 L318.0,296.3 L318.3,296.7 L318.6,297.1 L318.9,297.6 L319.3,298.0 L319.6,298.4 L319.9,298.9 L320.2,299.3" stroke="#909090" stroke-width="10.21" stroke-linecap="butt"/>
<path d="M318.9,297.6 L319.3,298.0 L319.6,298.4 L319.9,298.9 L320.2,299.3 L320.6,299.8 L320.9,300.2 L321.2,300.6 L321.5,301.1 L321.8,301.5" stroke="#909090" stroke-width="10.19" stroke-linecap="butt"/>
<path d="M320.6,299.8 L320.9,300.2 L321.2,300.6 L321.5,301.1 L321.8,301.5 L322.1,301.9 L322.5,302.4 L322.8,302.8 L323.1,303.3 L323.4,303.7" stroke="#909090" stroke-width="10.17" stroke-linecap="butt"/>
<path d="M322.1,301.9 L322.5,302.4 L322.8,302.8 L323.1,303.3 L323.4,303.7 L323.7,304.1 L324.0,304.6 L324.3,305.0 L324.7,305.5 L325.0,305.9" stroke="#909090" stroke-width="10.15" stroke-linecap="butt"/>
<path d="M323.7,304.1 L324.0,304.6 L324.3,305.0 L324.7,305.5 L325.0,305.9 L325.3,306.3 L325.6,306.8 L325.9,307.2 L326.2,307.7 L326.5,308.1" stroke="#909090" stroke-width="10.12" stroke-linecap="butt"/>
<path d="M325.3,306.3 L325.6,306.8 L325.9,307.2 L326.2,307.7 L326.5,308.1 L326.8,308.6 L327.1,309.0 L327.4,309.5 L327.7,309.9 L328.0,310.4" stroke="#909090" stroke-width="10.09" stroke-linecap="butt"/>
<path d="M326.8,308.6 L327.1,309.0 L327.4,309.5 L327.7,309.9 L328.0,310.4 L328.3,310.8 L328.6,311.3 L328.9,311.7 L329.2,312.2 L329.5,312.6" stroke="#909090" stroke-width="10.05" stroke-linecap="butt"/>
<path d="M328.3,310.8 L328.6,311.3 L328.9,311.7 L329.2,312.2 L329.5,312.6 L329.8,313.1 L330.1,313.5 L330.4,314.0 L330.7,314.4 L331.0,314.9" stroke="#909090" stroke-width="10.01" stroke-linecap="butt"/>
<path d="M329.8,313.1 L330.1,313.5 L330.4,314.0 L330.7,314.4 L331.0,314.9 L331.3,315.3 L331.6,315.8 L331.9,316.2 L332.2,316.7 L332.5,317.1" stroke="#909090" stroke-width="9.97" stroke-linecap="butt"/>
<path d="M331.3,315.3 L331.6,315.8 L331.9,316.2 L332.2,316.7 L332.5,317.1 L332.8,317.6 L333.0,318.1 L333.3,318.5 L333.6,319.0 L333.9,319.4" stroke="#909090" stroke-width="9.92" stroke-linecap="butt"/>
<path d="M332.8,317.6 L333.0,318.1 L333.3,318.5 L333.6,319.0 L333.9,319.4 L334.2,319.9 L334.5,320.4 L334.7,320.8 L335.0,321.3 L335.3,321.8" stroke="#909090" stroke-width="9.88" stroke-linecap="butt"/>
<path d="M334.2,319.9 L334.5,320.4 L334.7,320.8 L335.0,321.3 L335.3,321.8 L335.6,322.2 L335.8,322.7 L336.1,323.2 L336.4,323.6 L336.6,324.1" stroke="#909090" stroke-width="9.83" stroke-linecap="butt"/>
<path d="M335.6,322.2 L335.8,322.7 L336.1,323.2 L336.4,323.6 L336.6,324.1 L336.9,324.6 L337.2,325.0 L337.5,325.5 L337.7,326.0 L338.0,326.5" stroke="#909090" stroke-width="9.80" stroke-linecap="butt"/>
<path d="M336.9,324.6 L337.2,325.0 L337.5,325.5 L337.7,326.0 L338.0,326.5 L338.3,326.9 L338.5,327.4 L338.8,327.9 L339.1,328.3 L339.4,328.8" stroke="#919191" stroke-width="9.80" stroke-linecap="butt"/>
<path d="M338.3,326.9 L338.5,327.4 L338.8,327.9 L339.1,328.3 L339.4,328.8 L339.7,329.3 L339.9,329.8 L340.2,330.2 L340.5,330.7 L340.8,331.2" stroke="#919191" stroke-width="9.84" stroke-linecap="butt"/>
<path d="M339.7,329.3 L339.9,329.8 L340.2,330.2 L340.5,330.7 L340.8,331.2 L341.1,331.6 L341.4,332.1 L341.7,332.6 L342.0,333.1 L342.3,333.5" stroke="#919191" stroke-width="9.90" stroke-linecap="butt"/>
<path d="M341.1,331.6 L341.4,332.1 L341.7,332.6 L342.0,333.1 L342.3,333.5 L342.6,334.0 L342.9,334.5 L343.2,334.9 L343.5,335.4 L343.8,335.9" stroke="#929292" stroke-width="10.00" stroke-linecap="butt"/>
<path d="M342.6,334.0 L342.9,334.5 L343.2,334.9 L343.5,335.4 L343.8,335.9 L344.2,336.3 L344.5,336.8 L344.8,337.3 L345.2,337.7 L345.5,338.2" stroke="#929292" stroke-width="10.13" stroke-linecap="butt"/>
<path d="M344.2,336.3 L344.5,336.8 L344.8,337.3 L345.2,337.7 L345.5,338.2 L345.9,338.6 L346.2,339.1 L346.6,339.5 L347.0,340.0 L347.3,340.5" stroke="#939393" stroke-width="10.29" stroke-linecap="butt"/>
<path d="M345.9,338.6 L346.2,339.1 L346.6,339.5 L347.0,340.0 L347.3,340.5 L347.7,340.9 L348.1,341.3 L348.5,341.8 L348.9,342.2 L349.3,342.7" stroke="#949494" stroke-width="10.46" stroke-linecap="butt"/>
<path d="M347.7,340.9 L348.1,341.3 L348.5,341.8 L348.9,342.2 L349.3,342.7 L349.7,343.1 L350.1,343.5 L350.5,344.0 L350.9,344.4 L351.4,344.8" stroke="#949494" stroke-width="10.65" stroke-linecap="butt"/>
<path d="M349.7,343.1 L350.1,343.5 L350.5,344.0 L350.9,344.4 L351.4,344.8 L351.8,345.2 L352.2,345.6 L352.6,346.0 L353.1,346.4 L353.5,346.8" stroke="#959595" stroke-width="10.86" stroke-linecap="butt"/>
<path d="M351.8,345.2 L352.2,345.6 L352.6,346.0 L353.1,346.4 L353.5,346.8 L354.0,347.2 L354.4,347.6 L354.9,348.0 L355.3,348.3 L355.8,348.7" stroke="#969696" stroke-width="11.08" stroke-linecap="butt"/>
<path d="M354.0,347.2 L354.4,347.6 L354.9,348.0 L355.3,348.3 L355.8,348.7 L356.2,349.0 L356.7,349.4 L357.2,349.7 L357.6,350.1 L358.1,350.4" stroke="#989898" stroke-width="11.32" stroke-linecap="butt"/>
<path d="M356.2,349.0 L356.7,349.4 L357.2,349.7 L357.6,350.1 L358.1,350.4 L358.6,350.7 L359.1,351.0 L359.5,351.3 L360.0,351.6 L360.5,351.9" stroke="#999999" stroke-width="11.58" stroke-linecap="butt"/>
<path d="M358.6,350.7 L359.1,351.0 L359.5,351.3 L360.0,351.6 L360.5,351.9 L361.0,352.2 L361.5,352.4 L362.0,352.7 L362.5,352.9 L363.0,353.1" stroke="#9a9a9a" stroke-width="11.85" stroke-linecap="butt"/>
<path d="M361.0,352.2 L361.5,352.4 L362.0,352.7 L362.5,352.9 L363.0,353.1 L363.5,353.4 L364.0,353.6 L364.4,353.8 L364.9,354.0 L365.5,354.1" stroke="#9b9b9b" stroke-width="12.14" stroke-linecap="butt"/>
<path d="M363.5,353.4 L364.0,353.6 L364.4,353.8 L364.9,354.0 L365.5,354.1 L366.0,354.3 L366.5,354.5 L367.0,354.6 L367.5,354.7 L368.0,354.8" stroke="#9d9d9d" stroke-width="12.41" stroke-linecap="butt"/>
<path d="M366.0,354.3 L366.5,354.5 L367.0,354.6 L367.5,354.7 L368.0,354.8 L368.5,354.9 L369.0,355.0 L369.5,355.1 L370.0,355.2 L370.5,355.2" stroke="#9e9e9e" stroke-width="12.63" stroke-linecap="butt"/>
<path d="M368.5,354.9 L369.0,355.0 L369.5,355.1 L370.0,355.2 L370.5,355.2 L371.0,355.3 L371.5,355.3 L372.0,355.3 L372.5,355.3 L373.0,355.3" stroke="#9f9f9f" stroke-width="12.77" stroke-linecap="butt"/>
<path d="M371.0,355.3 L371.5,355.3 L372.0,355.3 L372.5,355.3 L373.0,355.3 L373.6,355.2 L374.1,355.2 L374.6,355.1 L375.1,355.0 L375.6,354.9" stroke="#a1a1a1" stroke-width="12.77" stroke-linecap="butt"/>
<path d="M373.6,355.2 L374.1,355.2 L374.6,355.1 L375.1,355.0 L375.6,354.9 L376.1,354.8 L376.6,354.7 L377.1,354.6 L377.6,354.4 L378.1,354.3" stroke="#a2a2a2" stroke-width="12.63" stroke-linecap="butt"/>
<path d="M376.1,354.8 L376.6,354.7 L377.1,354.6 L377.6,354.4 L378.1,354.3 L378.6,354.1 L379.1,353.9 L379.6,353.8 L380.1,353.6 L380.6,353.3" stroke="#a4a4a4" stroke-width="12.39" stroke-linecap="butt"/>
<path d="M378.6,354.1 L379.1,353.9 L379.6,353.8 L380.1,353.6 L380.6,353.3 L381.1,353.1 L381.5,352.9 L382.0,352.6 L382.5,352.4 L383.0,352.1" stroke="#a5a5a5" stroke-width="12.11" stroke-linecap="butt"/>
<path d="M381.1,353.1 L381.5,352.9 L382.0,352.6 L382.5,352.4 L383.0,352.1 L383.5,351.8 L383.9,351.6 L384.4,351.3 L384.9,351.0 L385.4,350.6" stroke="#a6a6a6" stroke-width="11.81" stroke-linecap="butt"/>
<path d="M383.5,351.8 L383.9,351.6 L384.4,351.3 L384.9,351.0 L385.4,350.6 L385.8,350.3 L386.3,350.0 L386.7,349.7 L387.2,349.3 L387.7,349.0" stroke="#a7a7a7" stroke-width="11.52" stroke-linecap="butt"/>
<path d="M385.8,350.3 L386.3,350.0 L386.7,349.7 L387.2,349.3 L387.7,349.0 L388.1,348.6 L388.6,348.2 L389.0,347.9 L389.4,347.5 L389.9,347.1" stroke="#a9a9a9" stroke-width="11.25" stroke-linecap="butt"/>
<path d="M388.1,348.6 L388.6,348.2 L389.0,347.9 L389.4,347.5 L389.9,347.1 L390.3,346.7 L390.7,346.3 L391.2,345.9 L391.6,345.5 L392.0,345.1" stroke="#aaaaaa" stroke-width="10.99" stroke-linecap="butt"/>
<path d="M390.3,346.7 L390.7,346.3 L391.2,345.9 L391.6,345.5 L392.0,345.1 L392.4,344.7 L392.8,344.2 L393.2,343.8 L393.6,343.4 L394.0,342.9" stroke="#ababab" stroke-width="10.76" stroke-linecap="butt"/>
<path d="M392.4,344.7 L392.8,344.2 L393.2,343.8 L393.6,343.4 L394.0,342.9 L394.4,342.5 L394.8,342.1 L395.1,341.6 L395.5,341.2 L395.9,340.7" stroke="#acacac" stroke-width="10.55" stroke-linecap="butt"/>
<path d="M394.4,342.5 L394.8,342.1 L395.1,341.6 L395.5,341.2 L395.9,340.7 L396.2,340.3 L396.6,339.8 L397.0,339.3 L397.3,338.9 L397.6,338.4" stroke="#adadad" stroke-width="10.35" stroke-linecap="butt"/>
<path d="M396.2,340.3 L396.6,339.8 L397.0,339.3 L397.3,338.9 L397.6,338.4 L398.0,337.9 L398.3,337.5 L398.6,337.0 L398.9,336.5 L399.3,336.1" stroke="#adadad" stroke-width="10.16" stroke-linecap="butt"/>
<path d="M398.0,337.9 L398.3,337.5 L398.6,337.0 L398.9,336.5 L399.3,336.1 L399.6,335.6 L399.9,335.1 L400.2,334.6 L400.5,334.2 L400.8,333.7" stroke="#aeaeae" stroke-width="10.00" stroke-linecap="butt"/>
<path d="M399.6,335.6 L399.9,335.1 L400.2,334.6 L400.5,334.2 L400.8,333.7 L401.0,333.2 L401.3,332.7 L401.6,332.2 L401.9,331.7 L402.2,331.3" stroke="#aeaeae" stroke-width="9.85" stroke-linecap="butt"/>
<path d="M401.0,333.2 L401.3,332.7 L401.6,332.2 L401.9,331.7 L402.2,331.3 L402.4,330.8 L402.7,330.3 L402.9,329.8 L403.2,329.3 L403.5,328.8" stroke="#afafaf" stroke-width="9.73" stroke-linecap="butt"/>
<path d="M402.4,330.8 L402.7,330.3 L402.9,329.8 L403.2,329.3 L403.5,328.8 L403.7,328.3 L404.0,327.8 L404.2,327.3 L404.4,326.9 L404.7,326.4" stroke="#afafaf" stroke-width="9.64" stroke-linecap="butt"/>
<path d="M403.7,328.3 L404.0,327.8 L404.2,327.3 L404.4,326.9 L404.7,326.4 L404.9,325.9 L405.2,325.4 L405.4,324.9 L405.6,324.4 L405.9,323.9" stroke="#afafaf" stroke-width="9.56" stroke-linecap="butt"/>
<path d="M404.9,325.9 L405.2,325.4 L405.4,324.9 L405.6,324.4 L405.9,323.9 L406.1,323.4 L406.3,322.9 L406.5,322.4 L406.8,321.9 L407.0,321.4" stroke="#b0b0b0" stroke-width="9.51" stroke-linecap="butt"/>
<path d="M406.1,323.4 L406.3,322.9 L406.5,322.4 L406.8,321.9 L407.0,321.4 L407.2,320.9 L407.4,320.4 L407.7,319.9 L407.9,319.4 L408.1,318.9" stroke="#b0b0b0" stroke-width="9.47" stroke-linecap="butt"/>
<path d="M407.2,320.9 L407.4,320.4 L407.7,319.9 L407.9,319.4 L408.1,318.9 L408.3,318.4 L408.5,317.9 L408.8,317.4 L409.0,316.9 L409.2,316.4" stroke="#b0b0b0" stroke-width="9.45" stroke-linecap="butt"/>
<path d="M408.3,318.4 L408.5,317.9 L408.8,317.4 L409.0,316.9 L409.2,316.4 L409.4,315.9 L409.6,315.4 L409.8,314.9 L410.0,314.4 L410.3,313.9" stroke="#b0b0b0" stroke-width="9.43" stroke-linecap="butt"/>
<path d="M409.4,315.9 L409.6,315.4 L409.8,314.9 L410.0,314.4 L410.3,313.9 L410.5,313.4 L410.7,312.9 L410.9,312.4 L411.1,311.9 L411.3,311.4" stroke="#b0b0b0" stroke-width="9.41" stroke-linecap="butt"/>
<path d="M410.5,313.4 L410.7,312.9 L410.9,312.4 L411.1,311.9 L411.3,311.4 L411.5,310.9 L411.7,310.4 L411.9,309.9 L412.1,309.4 L412.4,308.9" stroke="#b0b0b0" stroke-width="9.40" stroke-linecap="butt"/>
<path d="M411.5,310.9 L411.7,310.4 L411.9,309.9 L412.1,309.4 L412.4,308.9 L412.6,308.4 L412.8,307.9 L413.0,307.4 L413.2,306.9 L413.4,306.4" stroke="#b0b0b0" stroke-width="9.38" stroke-linecap="butt"/>
<path d="M412.6,308.4 L412.8,307.9 L413.0,307.4 L413.2,306.9 L413.4,306.4 L413.6,305.9 L413.8,305.4 L414.0,304.9 L414.2,304.4 L414.4,303.9" stroke="#b0b0b0" stroke-width="9.37" stroke-linecap="butt"/>
<path d="M413.6,305.9 L413.8,305.4 L414.0,304.9 L414.2,304.4 L414.4,303.9 L414.6,303.4 L414.8,302.9 L415.0,302.4 L415.2,301.9 L415.4,301.4" stroke="#b0b0b0" stroke-width="9.36" stroke-linecap="butt"/>
<path d="M414.6,303.4 L414.8,302.9 L415.0,302.4 L415.2,301.9 L415.4,301.4 L415.6,300.9 L415.8,300.4 L416.0,299.9 L416.2,299.4 L416.4,298.9" stroke="#b0b0b0" stroke-width="9.34" stroke-linecap="butt"/>
<path d="M415.6,300.9 L415.8,300.4 L416.0,299.9 L416.2,299.4 L416.4,298.9 L416.6,298.4 L416.8,297.9 L417.0,297.4 L417.2,296.9 L417.4,296.4" stroke="#b0b0b0" stroke-width="9.33" stroke-linecap="butt"/>
<path d="M416.6,298.4 L416.8,297.9 L417.0,297.4 L417.2,296.9 L417.4,296.4 L417.6,295.9 L417.7,295.4 L417.9,294.9 L418.1,294.4 L418.3,293.9" stroke="#b0b0b0" stroke-width="9.33" stroke-linecap="butt"/>
<path d="M417.6,295.9 L417.7,295.4 L417.9,294.9 L418.1,294.4 L418.3,293.9 L418.5,293.4 L418.7,292.9 L418.9,292.4 L419.1,291.9 L419.3,291.4" stroke="#b0b0b0" stroke-width="9.32" stroke-linecap="butt"/>
<path d="M418.5,293.4 L418.7,292.9 L418.9,292.4 L419.1,291.9 L419.3,291.4 L419.5,290.9 L419.7,290.4 L419.9,289.9 L420.1,289.4 L420.3,288.9" stroke="#b0b0b0" stroke-width="9.31" stroke-linecap="butt"/>
<path d="M419.5,290.9 L419.7,290.4 L419.9,289.9 L420.1,289.4 L420.3,288.9 L420.4,288.4 L420.6,287.9 L420.8,287.4 L421.0,286.9 L421.2,286.4" stroke="#b0b0b0" stroke-width="9.31" stroke-linecap="butt"/>
<path d="M420.4,288.4 L420.6,287.9 L420.8,287.4 L421.0,286.9 L421.2,286.4 L421.4,285.9 L421.6,285.4 L421.8,284.9 L422.0,284.4 L422.2,283.8" stroke="#b0b0b0" stroke-width="9.30" stroke-linecap="butt"/>
<path d="M421.4,285.9 L421.6,285.4 L421.8,284.9 L422.0,284.4 L422.2,283.8 L422.3,283.3 L422.5,282.8 L422.7,282.3 L422.9,281.8 L423.1,281.3" stroke="#b0b0b0" stroke-width="9.30" stroke-linecap="butt"/>
<path d="M422.3,283.3 L422.5,282.8 L422.7,282.3 L422.9,281.8 L423.1,281.3 L423.3,280.8 L423.5,280.3 L423.7,279.8 L423.9,279.3 L424.1,278.8" stroke="#b0b0b0" stroke-width="9.30" stroke-linecap="butt"/>
<path d="M423.3,280.8 L423.5,280.3 L423.7,279.8 L423.9,279.3 L424.1,278.8 L424.2,278.3 L424.4,277.8 L424.6,277.3 L424.8,276.8 L425.0,276.3" stroke="#b0b0b0" stroke-width="9.30" stroke-linecap="butt"/>
<path d="M424.2,278.3 L424.4,277.8 L424.6,277.3 L424.8,276.8 L425.0,276.3 L425.2,275.8 L425.4,275.3 L425.6,274.8 L425.8,274.3 L426.0,273.8" stroke="#b0b0b0" stroke-width="9.30" stroke-linecap="butt"/>
<path d="M425.2,275.8 L425.4,275.3 L425.6,274.8 L425.8,274.3 L426.0,273.8 L426.1,273.3 L426.3,272.7 L426.5,272.2 L426.7,271.7 L426.9,271.2" stroke="#b0b0b0" stroke-width="9.30" stroke-linecap="butt"/>
<path d="M426.1,273.3 L426.3,272.7 L426.5,272.2 L426.7,271.7 L426.9,271.2 L427.1,270.7 L427.3,270.2 L427.5,269.7 L427.7,269.2 L427.9,268.7" stroke="#b0b0b0" stroke-width="9.30" stroke-linecap="butt"/>
<path d="M427.1,270.7 L427.3,270.2 L427.5,269.7 L427.7,269.2 L427.9,268.7 L428.1,268.2 L428.2,267.7 L428.4,267.2 L428.6,266.7 L428.8,266.2" stroke="#b0b0b0" stroke-width="9.30" stroke-linecap="butt"/>
<path d="M428.1,268.2 L428.2,267.7 L428.4,267.2 L428.6,266.7 L428.8,266.2 L429.0,265.7 L429.2,265.1 L429.4,264.6 L429.6,264.1 L429.8,263.6" stroke="#b0b0b0" stroke-width="9.31" stroke-linecap="butt"/>
<path d="M429.0,265.7 L429.2,265.1 L429.4,264.6 L429.6,264.1 L429.8,263.6 L430.0,263.1 L430.2,262.6 L430.4,262.1 L430.6,261.6 L430.8,261.1" stroke="#b0b0b0" stroke-width="9.31" stroke-linecap="butt"/>
<path d="M430.0,263.1 L430.2,262.6 L430.4,262.1 L430.6,261.6 L430.8,261.1 L431.0,260.6 L431.2,260.1 L431.4,259.6 L431.6,259.0 L431.8,258.5" stroke="#b0b0b0" stroke-width="9.32" stroke-linecap="butt"/>
<path d="M431.0,260.6 L431.2,260.1 L431.4,259.6 L431.6,259.0 L431.8,258.5 L431.9,258.0 L432.1,257.5 L432.3,257.0 L432.5,256.5 L432.7,256.0" stroke="#b0b0b0" stroke-width="9.32" stroke-linecap="butt"/>
<path d="M431.9,258.0 L432.1,257.5 L432.3,257.0 L432.5,256.5 L432.7,256.0 L432.9,255.5 L433.1,255.0 L433.3,254.5 L433.5,254.0 L433.7,253.4" stroke="#b0b0b0" stroke-width="9.33" stroke-linecap="butt"/>
<path d="M432.9,255.5 L433.1,255.0 L433.3,254.5 L433.5,254.0 L433.7,253.4 L434.0,252.9 L434.2,252.4 L434.4,251.9 L434.6,251.4 L434.8,250.9" stroke="#b0b0b0" stroke-width="9.34" stroke-linecap="butt"/>
<path d="M434.0,252.9 L434.2,252.4 L434.4,251.9 L434.6,251.4 L434.8,250.9 L435.0,250.4 L435.2,249.9 L435.4,249.4 L435.6,248.8 L435.8,248.3" stroke="#b0b0b0" stroke-width="9.35" stroke-linecap="butt"/>
<path d="M435.0,250.4 L435.2,249.9 L435.4,249.4 L435.6,248.8 L435.8,248.3 L436.0,247.8 L436.2,247.3 L436.4,246.8 L436.6,246.3 L436.8,245.8" stroke="#b0b0b0" stroke-width="9.37" stroke-linecap="butt"/>
<path d="M436.0,247.8 L436.2,247.3 L436.4,246.8 L436.6,246.3 L436.8,245.8 L437.1,245.3 L437.3,244.7 L437.5,244.2 L437.7,243.7 L437.9,243.2" stroke="#b0b0b0" stroke-width="9.38" stroke-linecap="butt"/>
<path d="M437.1,245.3 L437.3,244.7 L437.5,244.2 L437.7,243.7 L437.9,243.2 L438.1,242.7 L438.3,242.2 L438.5,241.7 L438.8,241.1 L439.0,240.6" stroke="#b0b0b0" stroke-width="9.39" stroke-linecap="butt"/>
<path d="M438.1,242.7 L438.3,242.2 L438.5,241.7 L438.8,241.1 L439.0,240.6 L439.2,240.1 L439.4,239.6 L439.6,239.1 L439.9,238.6 L440.1,238.1" stroke="#b0b0b0" stroke-width="9.41" stroke-linecap="butt"/>
<path d="M439.2,240.1 L439.4,239.6 L439.6,239.1 L439.9,238.6 L440.1,238.1 L440.3,237.5 L440.5,237.0 L440.8,236.5 L441.0,236.0 L441.2,235.5" stroke="#b0b0b0" stroke-width="9.45" stroke-linecap="butt"/>
<path d="M440.3,237.5 L440.5,237.0 L440.8,236.5 L441.0,236.0 L441.2,235.5 L441.5,235.0 L441.7,234.5 L441.9,234.0 L442.2,233.5 L442.4,233.0" stroke="#b0b0b0" stroke-width="9.50" stroke-linecap="butt"/>
<path d="M441.5,235.0 L441.7,234.5 L441.9,234.0 L442.2,233.5 L442.4,233.0 L442.7,232.5 L442.9,232.0 L443.2,231.5 L443.4,231.0 L443.7,230.5" stroke="#afafaf" stroke-width="9.57" stroke-linecap="butt"/>
<path d="M442.7,232.5 L442.9,232.0 L443.2,231.5 L443.4,231.0 L443.7,230.5 L443.9,230.0 L444.2,229.5 L444.5,229.0 L444.7,228.5 L445.0,228.0" stroke="#afafaf" stroke-width="9.66" stroke-linecap="butt"/>
<path d="M443.9,230.0 L444.2,229.5 L444.5,229.0 L444.7,228.5 L445.0,228.0 L445.3,227.5 L445.6,227.0 L445.8,226.5 L446.1,226.1 L446.4,225.6" stroke="#afafaf" stroke-width="9.78" stroke-linecap="butt"/>
<path d="M445.3,227.5 L445.6,227.0 L445.8,226.5 L446.1,226.1 L446.4,225.6 L446.7,225.1 L447.0,224.6 L447.3,224.1 L447.6,223.7 L447.9,223.2" stroke="#aeaeae" stroke-width="9.92" stroke-linecap="butt"/>
<path d="M446.7,225.1 L447.0,224.6 L447.3,224.1 L447.6,223.7 L447.9,223.2 L448.3,222.8 L448.6,222.3 L448.9,221.8 L449.2,221.4 L449.6,220.9" stroke="#adadad" stroke-width="10.09" stroke-linecap="butt"/>
<path d="M448.3,222.8 L448.6,222.3 L448.9,221.8 L449.2,221.4 L449.6,220.9 L449.9,220.5 L450.3,220.0 L450.6,219.6 L451.0,219.2 L451.4,218.7" stroke="#adadad" stroke-width="10.29" stroke-linecap="butt"/>
<path d="M449.9,220.5 L450.3,220.0 L450.6,219.6 L451.0,219.2 L451.4,218.7 L451.7,218.3 L452.1,217.9 L452.5,217.4 L452.9,217.0 L453.3,216.6" stroke="#acacac" stroke-width="10.51" stroke-linecap="butt"/>
<path d="M451.7,218.3 L452.1,217.9 L452.5,217.4 L452.9,217.0 L453.3,216.6 L453.7,216.2 L454.1,215.8 L454.5,215.4 L454.9,215.0 L455.3,214.6" stroke="#aaaaaa" stroke-width="10.76" stroke-linecap="butt"/>
<path d="M453.7,216.2 L454.1,215.8 L454.5,215.4 L454.9,215.0 L455.3,214.6 L455.8,214.2 L456.2,213.9 L456.6,213.5 L457.1,213.2 L457.5,212.8" stroke="#a9a9a9" stroke-width="11.05" stroke-linecap="butt"/>
<path d="M455.8,214.2 L456.2,213.9 L456.6,213.5 L457.1,213.2 L457.5,212.8 L457.9,212.5 L458.4,212.2 L458.8,211.9 L459.3,211.6 L459.7,211.3" stroke="#a8a8a8" stroke-width="11.40" stroke-linecap="butt"/>
<path d="M457.9,212.5 L458.4,212.2 L458.8,211.9 L459.3,211.6 L459.7,211.3 L460.2,211.1 L460.6,210.8 L461.0,210.6 L461.5,210.4 L461.9,210.2" stroke="#a6a6a6" stroke-width="11.81" stroke-linecap="butt"/>
<path d="M460.2,211.1 L460.6,210.8 L461.0,210.6 L461.5,210.4 L461.9,210.2 L462.4,210.0 L462.8,209.9 L463.3,209.7 L463.7,209.6 L464.2,209.5" stroke="#a4a4a4" stroke-width="12.27" stroke-linecap="butt"/>
<path d="M462.4,210.0 L462.8,209.9 L463.3,209.7 L463.7,209.6 L464.2,209.5 L464.6,209.5 L465.0,209.4 L465.5,209.4 L465.9,209.4 L466.3,209.4" stroke="#a3a3a3" stroke-width="12.67" stroke-linecap="butt"/>
<path d="M464.6,209.5 L465.0,209.4 L465.5,209.4 L465.9,209.4 L466.3,209.4 L466.8,209.4 L467.2,209.5 L467.6,209.6 L468.0,209.7 L468.4,209.8" stroke="#a1a1a1" stroke-width="12.74" stroke-linecap="butt"/>
<path d="M466.8,209.4 L467.2,209.5 L467.6,209.6 L468.0,209.7 L468.4,209.8 L468.8,209.9 L469.2,210.1 L469.6,210.3 L470.0,210.5 L470.4,210.7" stroke="#9f9f9f" stroke-width="12.34" stroke-linecap="butt"/>
<path d="M468.8,209.9 L469.2,210.1 L469.6,210.3 L470.0,210.5 L470.4,210.7 L470.8,210.9 L471.2,211.2 L471.6,211.5 L472.0,211.8 L472.4,212.1" stroke="#9d9d9d" stroke-width="11.71" stroke-linecap="butt"/>
<path d="M470.8,210.9 L471.2,211.2 L471.6,211.5 L472.0,211.8 L472.4,212.1 L472.7,212.4 L473.1,212.7 L473.5,213.1 L473.8,213.5 L474.2,213.8" stroke="#9c9c9c" stroke-width="11.10" stroke-linecap="butt"/>
<path d="M472.7,212.4 L473.1,212.7 L473.5,213.1 L473.8,213.5 L474.2,213.8 L474.6,214.2 L474.9,214.7 L475.3,215.1 L475.6,215.5 L475.9,215.9" stroke="#9a9a9a" stroke-width="10.61" stroke-linecap="butt"/>
<path d="M474.6,214.2 L474.9,214.7 L475.3,215.1 L475.6,215.5 L475.9,215.9 L476.3,216.4 L476.6,216.9 L477.0,217.3 L477.3,217.8 L477.6,218.3" stroke="#999999" stroke-width="10.24" stroke-linecap="butt"/>
<path d="M476.3,216.4 L476.6,216.9 L477.0,217.3 L477.3,217.8 L477.6,218.3 L477.9,218.8 L478.2,219.3 L478.6,219.8 L478.9,220.4 L479.2,220.9" stroke="#979797" stroke-width="9.98" stroke-linecap="butt"/>
<path d="M477.9,218.8 L478.2,219.3 L478.6,219.8 L478.9,220.4 L479.2,220.9 L479.5,221.4 L479.8,222.0 L480.1,222.5 L480.4,223.1 L480.7,223.6" stroke="#969696" stroke-width="9.78" stroke-linecap="butt"/>
<path d="M479.5,221.4 L479.8,222.0 L480.1,222.5 L480.4,223.1 L480.7,223.6 L480.9,224.2 L481.2,224.7 L481.5,225.3 L481.8,225.9 L482.0,226.4" stroke="#959595" stroke-width="9.64" stroke-linecap="butt"/>
<path d="M480.9,224.2 L481.2,224.7 L481.5,225.3 L481.8,225.9 L482.0,226.4 L482.3,227.0 L482.6,227.6 L482.8,228.1 L483.1,228.7 L483.3,229.3" stroke="#949494" stroke-width="9.53" stroke-linecap="butt"/>
<path d="M482.3,227.0 L482.6,227.6 L482.8,228.1 L483.1,228.7 L483.3,229.3 L483.6,229.8 L483.8,230.4 L484.1,230.9 L484.3,231.5 L484.6,232.1" stroke="#939393" stroke-width="9.45" stroke-linecap="butt"/>
<path d="M483.6,229.8 L483.8,230.4 L484.1,230.9 L484.3,231.5 L484.6,232.1 L484.8,232.6 L485.0,233.2 L485.2,233.7 L485.4,234.3 L485.7,234.9" stroke="#929292" stroke-width="9.38" stroke-linecap="butt"/>
<path d="M484.8,232.6 L485.0,233.2 L485.2,233.7 L485.4,234.3 L485.7,234.9 L485.9,235.4 L486.1,236.0 L486.3,236.5 L486.5,237.1 L486.7,237.6" stroke="#929292" stroke-width="9.31" stroke-linecap="butt"/>
<path d="M485.9,235.4 L486.1,236.0 L486.3,236.5 L486.5,237.1 L486.7,237.6 L486.9,238.2 L487.1,238.7 L487.3,239.3 L487.4,239.8 L487.6,240.4" stroke="#919191" stroke-width="9.25" stroke-linecap="butt"/>
<path d="M486.9,238.2 L487.1,238.7 L487.3,239.3 L487.4,239.8 L487.6,240.4 L487.8,240.9 L488.0,241.5 L488.2,242.0 L488.3,242.6 L488.5,243.1" stroke="#919191" stroke-width="9.18" stroke-linecap="butt"/>
<path d="M487.8,240.9 L488.0,241.5 L488.2,242.0 L488.3,242.6 L488.5,243.1 L488.6,243.6 L488.8,244.2 L489.0,244.7 L489.1,245.3 L489.3,245.8" stroke="#919191" stroke-width="9.13" stroke-linecap="butt"/>
<path d="M488.6,243.6 L488.8,244.2 L489.0,244.7 L489.1,245.3 L489.3,245.8 L489.4,246.3 L489.6,246.9 L489.7,247.4 L489.8,248.0 L490.0,248.5" stroke="#909090" stroke-width="9.07" stroke-linecap="butt"/>
<path d="M489.4,246.3 L489.6,246.9 L489.7,247.4 L489.8,248.0 L490.0,248.5 L490.1,249.0 L490.2,249.6 L490.3,250.1 L490.5,250.6 L490.6,251.2" stroke="#909090" stroke-width="9.02" stroke-linecap="butt"/>
<path d="M490.1,249.0 L490.2,249.6 L490.3,250.1 L490.5,250.6 L490.6,251.2 L490.7,251.7 L490.8,252.2 L490.9,252.8 L491.0,253.3 L491.1,253.8" stroke="#909090" stroke-width="8.98" stroke-linecap="butt"/>
<path d="M490.7,251.7 L490.8,252.2 L490.9,252.8 L491.0,253.3 L491.1,253.8 L491.2,254.4 L491.3,254.9 L491.4,255.4 L491.5,256.0 L491.6,256.5" stroke="#909090" stroke-width="8.94" stroke-linecap="butt"/>
<path d="M491.2,254.4 L491.3,254.9 L491.4,255.4 L491.5,256.0 L491.6,256.5 L491.7,257.0 L491.8,257.6 L491.9,258.1 L492.0,258.6 L492.0,259.1" stroke="#909090" stroke-width="8.91" stroke-linecap="butt"/>
<path d="M491.7,257.0 L491.8,257.6 L491.9,258.1 L492.0,258.6 L492.0,259.1 L492.1,259.7 L492.2,260.2 L492.3,260.7 L492.3,261.3 L492.4,261.8" stroke="#909090" stroke-width="8.88" stroke-linecap="butt"/>
<path d="M492.1,259.7 L492.2,260.2 L492.3,260.7 L492.3,261.3 L492.4,261.8 L492.5,262.3 L492.5,262.8 L492.6,263.4 L492.6,263.9 L492.7,264.4" stroke="#909090" stroke-width="8.86" stroke-linecap="butt"/>
<path d="M492.5,262.3 L492.5,262.8 L492.6,263.4 L492.6,263.9 L492.7,264.4 L492.7,264.9 L492.8,265.5 L492.8,266.0 L492.9,266.5 L492.9,267.1" stroke="#909090" stroke-width="8.84" stroke-linecap="butt"/>
<path d="M492.7,264.9 L492.8,265.5 L492.8,266.0 L492.9,266.5 L492.9,267.1 L492.9,267.6 L493.0,268.1 L493.0,268.6 L493.0,269.2 L493.1,269.7" stroke="#909090" stroke-width="8.82" stroke-linecap="butt"/>
<path d="M492.9,267.6 L493.0,268.1 L493.0,268.6 L493.0,269.2 L493.1,269.7 L493.1,270.2 L493.1,270.7 L493.2,271.3 L493.2,271.8 L493.2,272.3" stroke="#909090" stroke-width="8.81" stroke-linecap="butt"/>
<path d="M493.1,270.2 L493.1,270.7 L493.2,271.3 L493.2,271.8 L493.2,272.3 L493.2,272.9 L493.2,273.4 L493.2,273.9 L493.3,274.4 L493.3,275.0" stroke="#909090" stroke-width="8.80" stroke-linecap="butt"/>
<path d="M493.2,272.9 L493.2,273.4 L493.2,273.9 L493.3,274.4 L493.3,275.0 L493.3,275.5 L493.3,276.0 L493.3,276.5 L493.3,277.1 L493.3,277.6" stroke="#909090" stroke-width="8.80" stroke-linecap="butt"/>
<path d="M493.3,275.5 L493.3,276.0 L493.3,276.5 L493.3,277.1 L493.3,277.6 L493.3,278.1 L493.3,278.7 L493.3,279.2 L493.3,279.7 L493.3,280.3" stroke="#909090" stroke-width="8.80" stroke-linecap="butt"/>
<path d="M493.3,278.1 L493.3,278.7 L493.3,279.2 L493.3,279.7 L493.3,280.3 L493.2,280.8 L493.2,281.3 L493.2,281.8 L493.2,282.4 L493.2,282.9" stroke="#909090" stroke-width="8.80" stroke-linecap="butt"/>
<path d="M493.2,280.8 L493.2,281.3 L493.2,281.8 L493.2,282.4 L493.2,282.9 L493.2,283.4 L493.1,284.0 L493.1,284.5 L493.1,285.0 L493.1,285.6" stroke="#909090" stroke-width="8.81" stroke-linecap="butt"/>
<path d="M493.2,283.4 L493.1,284.0 L493.1,284.5 L493.1,285.0 L493.1,285.6 L493.0,286.1 L493.0,286.6 L493.0,287.2 L492.9,287.7 L492.9,288.3" stroke="#909090" stroke-width="8.81" stroke-linecap="butt"/>
<path d="M493.0,286.1 L493.0,286.6 L493.0,287.2 L492.9,287.7 L492.9,288.3 L492.9,288.8 L492.8,289.3 L492.8,289.9 L492.8,290.4 L492.7,291.0" stroke="#909090" stroke-width="8.82" stroke-linecap="butt"/>
<path d="M492.9,288.8 L492.8,289.3 L492.8,289.9 L492.8,290.4 L492.7,291.0 L492.7,291.5 L492.6,292.0 L492.6,292.6 L492.5,293.1 L492.5,293.7" stroke="#909090" stroke-width="8.82" stroke-linecap="butt"/>
<path d="M492.7,291.5 L492.6,292.0 L492.6,292.6 L492.5,293.1 L492.5,293.7 L492.4,294.2 L492.4,294.7 L492.3,295.3 L492.3,295.8 L492.2,296.4" stroke="#909090" stroke-width="8.84" stroke-linecap="butt"/>
<path d="M492.4,294.2 L492.4,294.7 L492.3,295.3 L492.3,295.8 L492.2,296.4 L492.2,296.9 L492.1,297.5 L492.0,298.0 L491.9,298.6 L491.9,299.1" stroke="#909090" stroke-width="8.86" stroke-linecap="butt"/>
<path d="M492.2,296.9 L492.1,297.5 L492.0,298.0 L491.9,298.6 L491.9,299.1 L491.8,299.7 L491.7,300.2 L491.6,300.8 L491.5,301.3 L491.4,301.9" stroke="#909090" stroke-width="8.88" stroke-linecap="butt"/>
<path d="M491.8,299.7 L491.7,300.2 L491.6,300.8 L491.5,301.3 L491.4,301.9 L491.3,302.4 L491.2,303.0 L491.1,303.5 L491.0,304.1 L490.9,304.6" stroke="#909090" stroke-width="8.92" stroke-linecap="butt"/>
<path d="M491.3,302.4 L491.2,303.0 L491.1,303.5 L491.0,304.1 L490.9,304.6 L490.8,305.2 L490.7,305.7 L490.5,306.3 L490.4,306.9 L490.3,307.4" stroke="#909090" stroke-width="8.98" stroke-linecap="butt"/>
<path d="M490.8,305.2 L490.7,305.7 L490.5,306.3 L490.4,306.9 L490.3,307.4 L490.1,308.0 L490.0,308.5 L489.8,309.1 L489.7,309.6 L489.5,310.2" stroke="#909090" stroke-width="9.05" stroke-linecap="butt"/>
<path d="M490.1,308.0 L490.0,308.5 L489.8,309.1 L489.7,309.6 L489.5,310.2 L489.3,310.8 L489.1,311.3 L489.0,311.9 L488.8,312.4 L488.6,313.0" stroke="#909090" stroke-width="9.14" stroke-linecap="butt"/>
<path d="M489.3,310.8 L489.1,311.3 L489.0,311.9 L488.8,312.4 L488.6,313.0 L488.4,313.5 L488.2,314.1 L488.0,314.6 L487.7,315.2 L487.5,315.7" stroke="#909090" stroke-width="9.27" stroke-linecap="butt"/>
<path d="M488.4,313.5 L488.2,314.1 L488.0,314.6 L487.7,315.2 L487.5,315.7 L487.3,316.2 L487.0,316.7 L486.8,317.3 L486.5,317.8 L486.3,318.3" stroke="#909090" stroke-width="9.45" stroke-linecap="butt"/>
<path d="M487.3,316.2 L487.0,316.7 L486.8,317.3 L486.5,317.8 L486.3,318.3 L486.0,318.8 L485.7,319.3 L485.4,319.8 L485.1,320.3 L484.8,320.7" stroke="#909090" stroke-width="9.71" stroke-linecap="butt"/>
<path d="M486.0,318.8 L485.7,319.3 L485.4,319.8 L485.1,320.3 L484.8,320.7 L484.5,321.2 L484.2,321.7 L483.9,322.1 L483.5,322.5 L483.2,323.0" stroke="#909090" stroke-width="10.06" stroke-linecap="butt"/>
<path d="M484.5,321.2 L484.2,321.7 L483.9,322.1 L483.5,322.5 L483.2,323.0 L482.8,323.4 L482.5,323.8 L482.1,324.2 L481.7,324.6 L481.3,324.9" stroke="#909090" stroke-width="10.52" stroke-linecap="butt"/>
<path d="M482.8,323.4 L482.5,323.8 L482.1,324.2 L481.7,324.6 L481.3,324.9 L480.9,325.3 L480.5,325.6 L480.1,326.0 L479.6,326.3 L479.2,326.6" stroke="#909090" stroke-width="11.06" stroke-linecap="butt"/>
<path d="M480.9,325.3 L480.5,325.6 L480.1,326.0 L479.6,326.3 L479.2,326.6 L478.8,326.9 L478.3,327.1 L477.9,327.4 L477.4,327.6 L476.9,327.9" stroke="#909090" stroke-width="11.60" stroke-linecap="butt"/>
<path d="M478.8,326.9 L478.3,327.1 L477.9,327.4 L477.4,327.6 L476.9,327.9 L476.5,328.1 L476.0,328.3 L475.5,328.5 L475.1,328.6 L474.6,328.8" stroke="#909090" stroke-width="12.10" stroke-linecap="butt"/>
<path d="M476.5,328.1 L476.0,328.3 L475.5,328.5 L475.1,328.6 L474.6,328.8 L474.1,328.9 L473.6,329.0 L473.1,329.1 L472.7,329.2 L472.2,329.3" stroke="#909090" stroke-width="12.50" stroke-linecap="butt"/>
<path d="M474.1,328.9 L473.6,329.0 L473.1,329.1 L472.7,329.2 L472.2,329.3 L471.7,329.3 L471.2,329.4 L470.8,329.4 L470.3,329.4 L469.8,329.3" stroke="#909090" stroke-width="12.75" stroke-linecap="butt"/>
<path d="M471.7,329.3 L471.2,329.4 L470.8,329.4 L470.3,329.4 L469.8,329.3 L469.3,329.3 L468.9,329.2 L468.4,329.1 L468.0,329.0 L467.5,328.9" stroke="#909090" stroke-width="12.75" stroke-linecap="butt"/>
<path d="M469.3,329.3 L468.9,329.2 L468.4,329.1 L468.0,329.0 L467.5,328.9 L467.0,328.8 L466.6,328.7 L466.1,328.5 L465.7,328.3 L465.2,328.1" stroke="#909090" stroke-width="12.50" stroke-linecap="butt"/>
<path d="M467.0,328.8 L466.6,328.7 L466.1,328.5 L465.7,328.3 L465.2,328.1 L464.8,327.9 L464.3,327.7 L463.9,327.5 L463.5,327.2 L463.0,327.0" stroke="#909090" stroke-width="12.12" stroke-linecap="butt"/>
<path d="M464.8,327.9 L464.3,327.7 L463.9,327.5 L463.5,327.2 L463.0,327.0 L462.6,326.7 L462.1,326.4 L461.7,326.2 L461.3,325.9 L460.9,325.5" stroke="#909090" stroke-width="11.72" stroke-linecap="butt"/>
<path d="M462.6,326.7 L462.1,326.4 L461.7,326.2 L461.3,325.9 L460.9,325.5 L460.4,325.2 L460.0,324.9 L459.6,324.6 L459.2,324.2 L458.7,323.8" stroke="#909090" stroke-width="11.36" stroke-linecap="butt"/>
<path d="M460.4,325.2 L460.0,324.9 L459.6,324.6 L459.2,324.2 L458.7,323.8 L458.3,323.5 L457.9,323.1 L457.5,322.7 L457.1,322.3 L456.6,321.9" stroke="#909090" stroke-width="11.08" stroke-linecap="butt"/>
<path d="M458.3,323.5 L457.9,323.1 L457.5,322.7 L457.1,322.3 L456.6,321.9 L456.2,321.5 L455.8,321.1 L455.4,320.7 L455.0,320.3 L454.6,319.9" stroke="#909090" stroke-width="10.86" stroke-linecap="butt"/>
<path d="M456.2,321.5 L455.8,321.1 L455.4,320.7 L455.0,320.3 L454.6,319.9 L454.2,319.4 L453.8,319.0 L453.4,318.6 L453.0,318.1 L452.6,317.7" stroke="#909090" stroke-width="10.70" stroke-linecap="butt"/>
<path d="M454.2,319.4 L453.8,319.0 L453.4,318.6 L453.0,318.1 L452.6,317.7 L452.2,317.2 L451.8,316.8 L451.4,316.3 L451.0,315.9 L450.6,315.4" stroke="#909090" stroke-width="10.60" stroke-linecap="butt"/>
<path d="M452.2,317.2 L451.8,316.8 L451.4,316.3 L451.0,315.9 L450.6,315.4 L450.2,315.0 L449.8,314.5 L449.4,314.1 L449.0,313.6 L448.6,313.2" stroke="#909090" stroke-width="10.54" stroke-linecap="butt"/>
<path d="M450.2,315.0 L449.8,314.5 L449.4,314.1 L449.0,313.6 L448.6,313.2 L448.2,312.7 L447.8,312.3 L447.4,311.8 L447.1,311.4 L446.7,311.0" stroke="#909090" stroke-width="10.53" stroke-linecap="butt"/>
<path d="M448.2,312.7 L447.8,312.3 L447.4,311.8 L447.1,311.4 L446.7,311.0 L446.3,310.5 L445.9,310.1 L445.5,309.7 L445.1,309.2 L444.7,308.8" stroke="#909090" stroke-width="10.57" stroke-linecap="butt"/>
<path d="M446.3,310.5 L445.9,310.1 L445.5,309.7 L445.1,309.2 L444.7,308.8 L444.3,308.4 L444.0,308.0 L443.6,307.6 L443.2,307.2 L442.8,306.8" stroke="#909090" stroke-width="10.65" stroke-linecap="butt"/>
<path d="M444.3,308.4 L444.0,308.0 L443.6,307.6 L443.2,307.2 L442.8,306.8 L442.4,306.4 L442.1,306.0 L441.7,305.6 L441.3,305.2 L440.9,304.8" stroke="#909090" stroke-width="10.72" stroke-linecap="butt"/>
<path d="M442.4,306.4 L442.1,306.0 L441.7,305.6 L441.3,305.2 L440.9,304.8 L440.5,304.5 L440.2,304.1 L439.8,303.7 L439.4,303.3 L439.1,303.0" stroke="#909090" stroke-width="10.77" stroke-linecap="butt"/>
<path d="M440.5,304.5 L440.2,304.1 L439.8,303.7 L439.4,303.3 L439.1,303.0 L438.7,302.6 L438.3,302.2 L437.9,301.8 L437.6,301.5 L437.2,301.1" stroke="#909090" stroke-width="10.77" stroke-linecap="butt"/>
<path d="M438.7,302.6 L438.3,302.2 L437.9,301.8 L437.6,301.5 L437.2,301.1 L436.9,300.7 L436.5,300.3 L436.1,300.0 L435.8,299.6 L435.4,299.2" stroke="#909090" stroke-width="10.74" stroke-linecap="butt"/>
<path d="M436.9,300.7 L436.5,300.3 L436.1,300.0 L435.8,299.6 L435.4,299.2 L435.1,298.9 L434.7,298.5 L434.4,298.1 L434.0,297.7 L433.7,297.3" stroke="#909090" stroke-width="10.68" stroke-linecap="butt"/>
<path d="M435.1,298.9 L434.7,298.5 L434.4,298.1 L434.0,297.7 L433.7,297.3 L433.3,297.0 L433.0,296.6 L432.7,296.2 L432.3,295.8 L432.0,295.4" stroke="#909090" stroke-width="10.57" stroke-linecap="butt"/>
<path d="M433.3,297.0 L433.0,296.6 L432.7,296.2 L432.3,295.8 L432.0,295.4 L431.7,295.0 L431.3,294.6 L431.0,294.2 L430.7,293.8 L430.4,293.4" stroke="#909090" stroke-width="10.42" stroke-linecap="butt"/>
<path d="M431.7,295.0 L431.3,294.6 L431.0,294.2 L430.7,293.8 L430.4,293.4 L430.1,292.9 L429.7,292.5 L429.4,292.1 L429.1,291.7 L428.8,291.2" stroke="#909090" stroke-width="10.25" stroke-linecap="butt"/>
<path d="M430.1,292.9 L429.7,292.5 L429.4,292.1 L429.1,291.7 L428.8,291.2 L428.5,290.8 L428.2,290.3 L427.9,289.9 L427.6,289.4 L427.3,289.0" stroke="#909090" stroke-width="10.08" stroke-linecap="butt"/>
<path d="M428.5,290.8 L428.2,290.3 L427.9,289.9 L427.6,289.4 L427.3,289.0 L427.0,288.5 L426.8,288.0 L426.5,287.6 L426.2,287.1 L425.9,286.6" stroke="#909090" stroke-width="9.92" stroke-linecap="butt"/>
<path d="M427.0,288.5 L426.8,288.0 L426.5,287.6 L426.2,287.1 L425.9,286.6 L425.6,286.1 L425.4,285.6 L425.1,285.2 L424.8,284.7 L424.6,284.2" stroke="#909090" stroke-width="9.79" stroke-linecap="butt"/>
<path d="M425.6,286.1 L425.4,285.6 L425.1,285.2 L424.8,284.7 L424.6,284.2 L424.3,283.7 L424.0,283.2 L423.8,282.7 L423.5,282.2 L423.3,281.7" stroke="#909090" stroke-width="9.68" stroke-linecap="butt"/>
<path d="M424.3,283.7 L424.0,283.2 L423.8,282.7 L423.5,282.2 L423.3,281.7 L423.0,281.2 L422.8,280.7 L422.5,280.2 L422.3,279.7 L422.1,279.2" stroke="#909090" stroke-width="9.59" stroke-linecap="butt"/>
<path d="M423.0,281.2 L422.8,280.7 L422.5,280.2 L422.3,279.7 L422.1,279.2 L421.8,278.7 L421.6,278.2 L421.4,277.6 L421.1,277.1 L420.9,276.6" stroke="#909090" stroke-width="9.50" stroke-linecap="butt"/>
<path d="M421.8,278.7 L421.6,278.2 L421.4,277.6 L421.1,277.1 L420.9,276.6 L420.7,276.1 L420.5,275.6 L420.3,275.1 L420.0,274.6 L419.8,274.1" stroke="#909090" stroke-width="9.43" stroke-linecap="butt"/>
<path d="M420.7,276.1 L420.5,275.6 L420.3,275.1 L420.0,274.6 L419.8,274.1 L419.6,273.6 L419.4,273.0 L419.2,272.5 L419.0,272.0 L418.8,271.5" stroke="#909090" stroke-width="9.37" stroke-linecap="butt"/>
<path d="M419.6,273.6 L419.4,273.0 L419.2,272.5 L419.0,272.0 L418.8,271.5 L418.6,271.0 L418.4,270.5 L418.2,270.0 L418.1,269.5 L417.9,269.0" stroke="#909090" stroke-width="9.32" stroke-linecap="butt"/>
<path d="M418.6,271.0 L418.4,270.5 L418.2,270.0 L418.1,269.5 L417.9,269.0 L417.7,268.5 L417.5,268.0 L417.3,267.5 L417.1,267.0 L417.0,266.5" stroke="#909090" stroke-width="9.28" stroke-linecap="butt"/>
<path d="M417.7,268.5 L417.5,268.0 L417.3,267.5 L417.1,267.0 L417.0,266.5 L416.8,266.0 L416.6,265.5 L416.4,265.0 L416.3,264.5 L416.1,264.0" stroke="#909090" stroke-width="9.25" stroke-linecap="butt"/>
<path d="M416.8,266.0 L416.6,265.5 L416.4,265.0 L416.3,264.5 L416.1,264.0 L415.9,263.6 L415.8,263.1 L415.6,262.6 L415.4,262.1 L415.2,261.6" stroke="#909090" stroke-width="9.23" stroke-linecap="butt"/>
<path d="M415.9,263.6 L415.8,263.1 L415.6,262.6 L415.4,262.1 L415.2,261.6 L415.1,261.1 L414.9,260.6 L414.7,260.1 L414.6,259.7 L414.4,259.2" stroke="#909090" stroke-width="9.23" stroke-linecap="butt"/>
<path d="M415.1,261.1 L414.9,260.6 L414.7,260.1 L414.6,259.7 L414.4,259.2 L414.2,258.7 L414.1,258.2 L413.9,257.7 L413.7,257.2 L413.5,256.8" stroke="#909090" stroke-width="9.24" stroke-linecap="butt"/>
<path d="M414.2,258.7 L414.1,258.2 L413.9,257.7 L413.7,257.2 L413.5,256.8 L413.4,256.3 L413.2,255.8 L413.0,255.3 L412.8,254.8 L412.6,254.3" stroke="#909090" stroke-width="9.27" stroke-linecap="butt"/>
<path d="M413.4,256.3 L413.2,255.8 L413.0,255.3 L412.8,254.8 L412.6,254.3 L412.5,253.9 L412.3,253.4 L412.1,252.9 L411.9,252.4 L411.7,251.9" stroke="#909090" stroke-width="9.31" stroke-linecap="butt"/>
<path d="M412.5,253.9 L412.3,253.4 L412.1,252.9 L411.9,252.4 L411.7,251.9 L411.5,251.4 L411.3,251.0 L411.1,250.5 L410.9,250.0 L410.7,249.5" stroke="#909090" stroke-width="9.36" stroke-linecap="butt"/>
<path d="M411.5,251.4 L411.3,251.0 L411.1,250.5 L410.9,250.0 L410.7,249.5 L410.5,249.0 L410.3,248.5 L410.1,248.1 L409.9,247.6 L409.6,247.1" stroke="#909090" stroke-width="9.43" stroke-linecap="butt"/>
<path d="M410.5,249.0 L410.3,248.5 L410.1,248.1 L409.9,247.6 L409.6,247.1 L409.4,246.6 L409.2,246.1 L408.9,245.6 L408.7,245.1 L408.5,244.7" stroke="#909090" stroke-width="9.52" stroke-linecap="butt"/>
<path d="M409.4,246.6 L409.2,246.1 L408.9,245.6 L408.7,245.1 L408.5,244.7 L408.2,244.2 L408.0,243.7 L407.7,243.2 L407.4,242.7 L407.2,242.2" stroke="#909090" stroke-width="9.62" stroke-linecap="butt"/>
<path d="M408.2,244.2 L408.0,243.7 L407.7,243.2 L407.4,242.7 L407.2,242.2 L406.9,241.7 L406.6,241.2 L406.3,240.7 L406.0,240.2 L405.8,239.7" stroke="#909090" stroke-width="9.74" stroke-linecap="butt"/>
<path d="M406.9,241.7 L406.6,241.2 L406.3,240.7 L406.0,240.2 L405.8,239.7 L405.5,239.2 L405.2,238.7 L404.9,238.3 L404.5,237.8 L404.2,237.3" stroke="#909090" stroke-width="9.86" stroke-linecap="butt"/>
<path d="M405.5,239.2 L405.2,238.7 L404.9,238.3 L404.5,237.8 L404.2,237.3 L403.9,236.8 L403.6,236.3 L403.3,235.8 L402.9,235.3 L402.6,234.8" stroke="#909090" stroke-width="9.98" stroke-linecap="butt"/>
<path d="M403.9,236.8 L403.6,236.3 L403.3,235.8 L402.9,235.3 L402.6,234.8 L402.2,234.3 L401.9,233.8 L401.6,233.3 L401.2,232.9 L400.8,232.4" stroke="#909090" stroke-width="10.10" stroke-linecap="butt"/>
<path d="M402.2,234.3 L401.9,233.8 L401.6,233.3 L401.2,232.9 L400.8,232.4 L400.5,231.9 L400.1,231.4 L399.8,230.9 L399.4,230.4 L399.0,230.0" stroke="#919191" stroke-width="10.23" stroke-linecap="butt"/>
<path d="M400.5,231.9 L400.1,231.4 L399.8,230.9 L399.4,230.4 L399.0,230.0 L398.6,229.5 L398.2,229.0 L397.9,228.6 L397.5,228.1 L397.1,227.6" stroke="#919191" stroke-width="10.36" stroke-linecap="butt"/>
<path d="M398.6,229.5 L398.2,229.0 L397.9,228.6 L397.5,228.1 L397.1,227.6 L396.7,227.2 L396.3,226.7 L395.9,226.2 L395.5,225.8 L395.1,225.3" stroke="#919191" stroke-width="10.50" stroke-linecap="butt"/>
<path d="M396.7,227.2 L396.3,226.7 L395.9,226.2 L395.5,225.8 L395.1,225.3 L394.7,224.9 L394.2,224.5 L393.8,224.0 L393.4,223.6 L393.0,223.1" stroke="#929292" stroke-width="10.64" stroke-linecap="butt"/>
<path d="M394.7,224.9 L394.2,224.5 L393.8,224.0 L393.4,223.6 L393.0,223.1 L392.5,222.7 L392.1,222.3 L391.7,221.9 L391.3,221.5 L390.8,221.0" stroke="#929292" stroke-width="10.79" stroke-linecap="butt"/>
<path d="M392.5,222.7 L392.1,222.3 L391.7,221.9 L391.3,221.5 L390.8,221.0 L390.4,220.6 L389.9,220.2 L389.5,219.8 L389.0,219.4 L388.6,219.1" stroke="#939393" stroke-width="10.95" stroke-linecap="butt"/>
<path d="M390.4,220.6 L389.9,220.2 L389.5,219.8 L389.0,219.4 L388.6,219.1 L388.1,218.7 L387.7,218.3 L387.2,217.9 L386.8,217.6 L386.3,217.2" stroke="#939393" stroke-width="11.12" stroke-linecap="butt"/>
<path d="M388.1,218.7 L387.7,218.3 L387.2,217.9 L386.8,217.6 L386.3,217.2 L385.9,216.8 L385.4,216.5 L384.9,216.1 L384.5,215.8 L384.0,215.5" stroke="#949494" stroke-width="11.31" stroke-linecap="butt"/>
<path d="M385.9,216.8 L385.4,216.5 L384.9,216.1 L384.5,215.8 L384.0,215.5 L383.5,215.1 L383.0,214.8 L382.6,214.5 L382.1,214.2 L381.6,213.9" stroke="#959595" stroke-width="11.50" stroke-linecap="butt"/>
<path d="M383.5,215.1 L383.0,214.8 L382.6,214.5 L382.1,214.2 L381.6,213.9 L381.1,213.6 L380.7,213.3 L380.2,213.0 L379.7,212.8 L379.2,212.5" stroke="#969696" stroke-width="11.70" stroke-linecap="butt"/>
<path d="M381.1,213.6 L380.7,213.3 L380.2,213.0 L379.7,212.8 L379.2,212.5 L378.7,212.2 L378.2,212.0 L377.8,211.7 L377.3,211.5 L376.8,211.3" stroke="#979797" stroke-width="11.91" stroke-linecap="butt"/>
<path d="M378.7,212.2 L378.2,212.0 L377.8,211.7 L377.3,211.5 L376.8,211.3 L376.3,211.0 L375.8,210.8 L375.3,210.6 L374.8,210.4 L374.3,210.2" stroke="#989898" stroke-width="12.12" stroke-linecap="butt"/>
<path d="M376.3,211.0 L375.8,210.8 L375.3,210.6 L374.8,210.4 L374.3,210.2 L373.8,210.1 L373.3,209.9 L372.8,209.7 L372.3,209.6 L371.9,209.4" stroke="#999999" stroke-width="12.33" stroke-linecap="butt"/>
<path d="M373.8,210.1 L373.3,209.9 L372.8,209.7 L372.3,209.6 L371.9,209.4 L371.4,209.3 L370.9,209.2 L370.4,209.0 L369.9,208.9 L369.4,208.8" stroke="#9a9a9a" stroke-width="12.52" stroke-linecap="butt"/>
<path d="M371.4,209.3 L370.9,209.2 L370.4,209.0 L369.9,208.9 L369.4,208.8 L368.9,208.7 L368.4,208.7 L367.9,208.6 L367.4,208.5 L366.9,208.5" stroke="#9c9c9c" stroke-width="12.67" stroke-linecap="butt"/>
<path d="M368.9,208.7 L368.4,208.7 L367.9,208.6 L367.4,208.5 L366.9,208.5 L366.4,208.4 L365.9,208.4 L365.4,208.4 L364.9,208.4 L364.4,208.4" stroke="#9d9d9d" stroke-width="12.77" stroke-linecap="butt"/>
<path d="M366.4,208.4 L365.9,208.4 L365.4,208.4 L364.9,208.4 L364.4,208.4 L363.9,208.4 L363.4,208.4 L362.9,208.4 L362.5,208.5 L362.0,208.5" stroke="#9e9e9e" stroke-width="12.79" stroke-linecap="butt"/>
<path d="M363.9,208.4 L363.4,208.4 L362.9,208.4 L362.5,208.5 L362.0,208.5 L361.5,208.6 L361.0,208.7 L360.5,208.8 L360.0,208.9 L359.5,209.0" stroke="#a0a0a0" stroke-width="12.72" stroke-linecap="butt"/>
<path d="M361.5,208.6 L361.0,208.7 L360.5,208.8 L360.0,208.9 L359.5,209.0 L359.0,209.1 L358.6,209.3 L358.1,209.4 L357.6,209.6 L357.1,209.7" stroke="#a1a1a1" stroke-width="12.55" stroke-linecap="butt"/>
<path d="M359.0,209.1 L358.6,209.3 L358.1,209.4 L357.6,209.6 L357.1,209.7 L356.6,209.9 L356.2,210.1 L355.7,210.3 L355.2,210.5 L354.7,210.8" stroke="#a3a3a3" stroke-width="12.30" stroke-linecap="butt"/>
<path d="M356.6,209.9 L356.2,210.1 L355.7,210.3 L355.2,210.5 L354.7,210.8 L354.3,211.0 L353.8,211.2 L353.3,211.5 L352.9,211.7 L352.4,212.0" stroke="#a4a4a4" stroke-width="12.03" stroke-linecap="butt"/>
<path d="M354.3,211.0 L353.8,211.2 L353.3,211.5 L352.9,211.7 L352.4,212.0 L351.9,212.3 L351.5,212.6 L351.0,212.9 L350.5,213.2 L350.1,213.5" stroke="#a6a6a6" stroke-width="11.76" stroke-linecap="butt"/>
<path d="M351.9,212.3 L351.5,212.6 L351.0,212.9 L350.5,213.2 L350.1,213.5 L349.6,213.8 L349.2,214.1 L348.7,214.4 L348.3,214.8 L347.9,215.1" stroke="#a7a7a7" stroke-width="11.50" stroke-linecap="butt"/>
<path d="M349.6,213.8 L349.2,214.1 L348.7,214.4 L348.3,214.8 L347.9,215.1 L347.4,215.4 L347.0,215.8 L346.5,216.1 L346.1,216.5 L345.7,216.9" stroke="#a8a8a8" stroke-width="11.28" stroke-linecap="butt"/>
<path d="M347.4,215.4 L347.0,215.8 L346.5,216.1 L346.1,216.5 L345.7,216.9 L345.2,217.3 L344.8,217.6 L344.4,218.0 L344.0,218.4 L343.6,218.8" stroke="#aaaaaa" stroke-width="11.08" stroke-linecap="butt"/>
<path d="M345.2,217.3 L344.8,217.6 L344.4,218.0 L344.0,218.4 L343.6,218.8 L343.1,219.2 L342.7,219.6 L342.3,220.0 L341.9,220.4 L341.5,220.8" stroke="#ababab" stroke-width="10.91" stroke-linecap="butt"/>
<path d="M343.1,219.2 L342.7,219.6 L342.3,220.0 L341.9,220.4 L341.5,220.8 L341.1,221.2 L340.7,221.6 L340.3,222.0 L339.9,222.4 L339.6,222.8" stroke="#acacac" stroke-width="10.76" stroke-linecap="butt"/>
<path d="M341.1,221.2 L340.7,221.6 L340.3,222.0 L339.9,222.4 L339.6,222.8 L339.2,223.3 L338.8,223.7 L338.4,224.1 L338.0,224.5 L337.7,225.0" stroke="#adadad" stroke-width="10.62" stroke-linecap="butt"/>
<path d="M339.2,223.3 L338.8,223.7 L338.4,224.1 L338.0,224.5 L337.7,225.0 L337.3,225.4 L336.9,225.8 L336.6,226.2 L336.2,226.7 L335.9,227.1" stroke="#adadad" stroke-width="10.50" stroke-linecap="butt"/>
<path d="M337.3,225.4 L336.9,225.8 L336.6,226.2 L336.2,226.7 L335.9,227.1 L335.5,227.5 L335.2,228.0 L334.8,228.4 L334.5,228.8 L334.2,229.3" stroke="#aeaeae" stroke-width="10.38" stroke-linecap="butt"/>
<path d="M335.5,227.5 L335.2,228.0 L334.8,228.4 L334.5,228.8 L334.2,229.3 L333.8,229.7 L333.5,230.2 L333.2,230.6 L332.8,231.1 L332.5,231.5" stroke="#afafaf" stroke-width="10.26" stroke-linecap="butt"/>
<path d="M333.8,229.7 L333.5,230.2 L333.2,230.6 L332.8,231.1 L332.5,231.5 L332.2,232.0 L331.9,232.4 L331.5,232.9 L331.2,233.3 L330.9,233.8" stroke="#afafaf" stroke-width="10.16" stroke-linecap="butt"/>
<path d="M332.2,232.0 L331.9,232.4 L331.5,232.9 L331.2,233.3 L330.9,233.8 L330.6,234.2 L330.3,234.7 L330.0,235.1 L329.7,235.6 L329.4,236.1" stroke="#afafaf" stroke-width="10.06" stroke-linecap="butt"/>
<path d="M330.6,234.2 L330.3,234.7 L330.0,235.1 L329.7,235.6 L329.4,236.1 L329.1,236.5 L328.8,237.0 L328.5,237.5 L328.2,237.9 L328.0,238.4" stroke="#b0b0b0" stroke-width="9.96" stroke-linecap="butt"/>
<path d="M329.1,236.5 L328.8,237.0 L328.5,237.5 L328.2,237.9 L328.0,238.4 L327.7,238.9 L327.4,239.3 L327.1,239.8 L326.8,240.3 L326.6,240.7" stroke="#b0b0b0" stroke-width="9.88" stroke-linecap="butt"/>
<path d="M327.7,238.9 L327.4,239.3 L327.1,239.8 L326.8,240.3 L326.6,240.7 L326.3,241.2 L326.0,241.7 L325.7,242.2 L325.5,242.6 L325.2,243.1" stroke="#b0b0b0" stroke-width="9.80" stroke-linecap="butt"/>
<path d="M326.3,241.2 L326.0,241.7 L325.7,242.2 L325.5,242.6 L325.2,243.1 L324.9,243.6 L324.7,244.1 L324.4,244.6 L324.2,245.0 L323.9,245.5" stroke="#b0b0b0" stroke-width="9.73" stroke-linecap="butt"/>
<path d="M324.9,243.6 L324.7,244.1 L324.4,244.6 L324.2,245.0 L323.9,245.5 L323.7,246.0 L323.4,246.5 L323.2,247.0 L322.9,247.5 L322.7,247.9" stroke="#b0b0b0" stroke-width="9.66" stroke-linecap="butt"/>
<path d="M323.7,246.0 L323.4,246.5 L323.2,247.0 L322.9,247.5 L322.7,247.9 L322.4,248.4 L322.2,248.9 L321.9,249.4 L321.7,249.9 L321.5,250.4" stroke="#b0b0b0" stroke-width="9.60" stroke-linecap="butt"/>
<path d="M322.4,248.4 L322.2,248.9 L321.9,249.4 L321.7,249.9 L321.5,250.4 L321.2,250.9 L321.0,251.4 L320.8,251.9 L320.5,252.4 L320.3,252.9" stroke="#b0b0b0" stroke-width="9.55" stroke-linecap="butt"/>
<path d="M321.2,250.9 L321.0,251.4 L320.8,251.9 L320.5,252.4 L320.3,252.9 L320.1,253.3 L319.8,253.8 L319.6,254.3 L319.4,254.8 L319.2,255.3" stroke="#b0b0b0" stroke-width="9.51" stroke-linecap="butt"/>
<path d="M320.1,253.3 L319.8,253.8 L319.6,254.3 L319.4,254.8 L319.2,255.3 L318.9,255.8 L318.7,256.3 L318.5,256.8 L318.3,257.3 L318.1,257.8" stroke="#b0b0b0" stroke-width="9.47" stroke-linecap="butt"/>
<path d="M318.9,255.8 L318.7,256.3 L318.5,256.8 L318.3,257.3 L318.1,257.8 L317.8,258.3 L317.6,258.8 L317.4,259.3 L317.2,259.8 L317.0,260.3" stroke="#b0b0b0" stroke-width="9.43" stroke-linecap="butt"/>
<path d="M317.8,258.3 L317.6,258.8 L317.4,259.3 L317.2,259.8 L317.0,260.3 L316.8,260.8 L316.6,261.3 L316.4,261.8 L316.1,262.3 L315.9,262.8" stroke="#b0b0b0" stroke-width="9.40" stroke-linecap="butt"/>
<path d="M316.8,260.8 L316.6,261.3 L316.4,261.8 L316.1,262.3 L315.9,262.8 L315.7,263.4 L315.5,263.9 L315.3,264.4 L315.1,264.9 L314.9,265.4" stroke="#b0b0b0" stroke-width="9.38" stroke-linecap="butt"/>
<path d="M315.7,263.4 L315.5,263.9 L315.3,264.4 L315.1,264.9 L314.9,265.4 L314.7,265.9 L314.5,266.4 L314.3,266.9 L314.1,267.4 L313.9,267.9" stroke="#b0b0b0" stroke-width="9.36" stroke-linecap="butt"/>
<path d="M314.7,265.9 L314.5,266.4 L314.3,266.9 L314.1,267.4 L313.9,267.9 L313.7,268.4 L313.5,268.9 L313.3,269.4 L313.1,269.9 L312.9,270.4" stroke="#b0b0b0" stroke-width="9.34" stroke-linecap="butt"/>
<path d="M313.7,268.4 L313.5,268.9 L313.3,269.4 L313.1,269.9 L312.9,270.4 L312.7,270.9 L312.5,271.4 L312.3,271.9 L312.1,272.5 L311.9,273.0" stroke="#b0b0b0" stroke-width="9.33" stroke-linecap="butt"/>
<path d="M312.7,270.9 L312.5,271.4 L312.3,271.9 L312.1,272.5 L311.9,273.0 L311.7,273.5 L311.5,274.0 L311.3,274.5 L311.1,275.0 L311.0,275.5" stroke="#b0b0b0" stroke-width="9.32" stroke-linecap="butt"/>
<path d="M311.7,273.5 L311.5,274.0 L311.3,274.5 L311.1,275.0 L311.0,275.5 L310.8,276.0 L310.6,276.5 L310.4,277.0 L310.2,277.5 L310.0,278.0" stroke="#b0b0b0" stroke-width="9.32" stroke-linecap="butt"/>
<path d="M310.8,276.0 L310.6,276.5 L310.4,277.0 L310.2,277.5 L310.0,278.0 L309.8,278.5 L309.6,279.0 L309.4,279.5 L309.2,280.0 L309.0,280.5" stroke="#b0b0b0" stroke-width="9.32" stroke-linecap="butt"/>
<path d="M309.8,278.5 L309.6,279.0 L309.4,279.5 L309.2,280.0 L309.0,280.5 L308.8,281.0 L308.6,281.5 L308.4,282.1 L308.2,282.6 L308.0,283.1" stroke="#b0b0b0" stroke-width="9.32" stroke-linecap="butt"/>
<path d="M308.8,281.0 L308.6,281.5 L308.4,282.1 L308.2,282.6 L308.0,283.1 L307.8,283.6 L307.6,284.1 L307.4,284.6 L307.2,285.1 L307.0,285.6" stroke="#b0b0b0" stroke-width="9.33" stroke-linecap="butt"/>
<path d="M307.8,283.6 L307.6,284.1 L307.4,284.6 L307.2,285.1 L307.0,285.6 L306.8,286.1 L306.6,286.6 L306.4,287.1 L306.2,287.6 L306.0,288.1" stroke="#b0b0b0" stroke-width="9.35" stroke-linecap="butt"/>
<path d="M306.8,286.1 L306.6,286.6 L306.4,287.1 L306.2,287.6 L306.0,288.1 L305.8,288.6 L305.6,289.0 L305.4,289.5 L305.2,290.0 L305.0,290.5" stroke="#b0b0b0" stroke-width="9.37" stroke-linecap="butt"/>
<path d="M305.8,288.6 L305.6,289.0 L305.4,289.5 L305.2,290.0 L305.0,290.5 L304.8,291.0 L304.6,291.5 L304.4,292.0 L304.2,292.5 L304.0,293.0" stroke="#b0b0b0" stroke-width="9.39" stroke-linecap="butt"/>
<path d="M304.8,291.0 L304.6,291.5 L304.4,292.0 L304.2,292.5 L304.0,293.0 L303.8,293.5 L303.6,294.0 L303.4,294.5 L303.1,295.0 L302.9,295.4" stroke="#b0b0b0" stroke-width="9.42" stroke-linecap="butt"/>
<path d="M303.8,293.5 L303.6,294.0 L303.4,294.5 L303.1,295.0 L302.9,295.4 L302.7,295.9 L302.5,296.4 L302.3,296.9 L302.1,297.4 L301.9,297.9" stroke="#b0b0b0" stroke-width="9.45" stroke-linecap="butt"/>
<path d="M302.7,295.9 L302.5,296.4 L302.3,296.9 L302.1,297.4 L301.9,297.9 L301.6,298.4 L301.4,298.8 L301.2,299.3 L301.0,299.8 L300.7,300.3" stroke="#b0b0b0" stroke-width="9.49" stroke-linecap="butt"/>
<path d="M301.6,298.4 L301.4,298.8 L301.2,299.3 L301.0,299.8 L300.7,300.3 L300.5,300.8 L300.3,301.2 L300.1,301.7 L299.8,302.2 L299.6,302.7" stroke="#b0b0b0" stroke-width="9.53" stroke-linecap="butt"/>
<path d="M300.5,300.8 L300.3,301.2 L300.1,301.7 L299.8,302.2 L299.6,302.7 L299.4,303.2 L299.1,303.6 L298.9,304.1 L298.7,304.6 L298.4,305.1" stroke="#b0b0b0" stroke-width="9.57" stroke-linecap="butt"/>
<path d="M299.4,303.2 L299.1,303.6 L298.9,304.1 L298.7,304.6 L298.4,305.1 L298.2,305.5 L297.9,306.0 L297.7,306.5 L297.4,307.0 L297.2,307.4" stroke="#b0b0b0" stroke-width="9.62" stroke-linecap="butt"/>
<path d="M298.2,305.5 L297.9,306.0 L297.7,306.5 L297.4,307.0 L297.2,307.4 L296.9,307.9 L296.7,308.4 L296.4,308.9 L296.2,309.3 L295.9,309.8" stroke="#b0b0b0" stroke-width="9.66" stroke-linecap="butt"/>
<path d="M296.9,307.9 L296.7,308.4 L296.4,308.9 L296.2,309.3 L295.9,309.8 L295.7,310.3 L295.4,310.7 L295.2,311.2 L294.9,311.7 L294.6,312.2" stroke="#b0b0b0" stroke-width="9.71" stroke-linecap="butt"/>
<path d="M295.7,310.3 L295.4,310.7 L295.2,311.2 L294.9,311.7 L294.6,312.2 L294.4,312.6 L294.1,313.1 L293.8,313.6 L293.6,314.1 L293.3,314.5" stroke="#b0b0b0" stroke-width="9.77" stroke-linecap="butt"/>
<path d="M294.4,312.6 L294.1,313.1 L293.8,313.6 L293.6,314.1 L293.3,314.5 L293.0,315.0 L292.7,315.5 L292.4,315.9 L292.2,316.4 L291.9,316.9" stroke="#afafaf" stroke-width="9.82" stroke-linecap="butt"/>
<path d="M293.0,315.0 L292.7,315.5 L292.4,315.9 L292.2,316.4 L291.9,316.9 L291.6,317.4 L291.3,317.8 L291.0,318.3 L290.7,318.8 L290.4,319.3" stroke="#afafaf" stroke-width="9.87" stroke-linecap="butt"/>
<path d="M291.6,317.4 L291.3,317.8 L291.0,318.3 L290.7,318.8 L290.4,319.3 L290.1,319.7 L289.8,320.2 L289.5,320.7 L289.2,321.2 L288.9,321.6" stroke="#afafaf" stroke-width="9.93" stroke-linecap="butt"/>
<path d="M290.1,319.7 L289.8,320.2 L289.5,320.7 L289.2,321.2 L288.9,321.6 L288.6,322.1 L288.3,322.6 L288.0,323.1 L287.6,323.6 L287.3,324.0" stroke="#aeaeae" stroke-width="9.99" stroke-linecap="butt"/>
<path d="M288.6,322.1 L288.3,322.6 L288.0,323.1 L287.6,323.6 L287.3,324.0 L287.0,324.5 L286.7,325.0 L286.4,325.5 L286.0,326.0 L285.7,326.5" stroke="#aeaeae" stroke-width="10.04" stroke-linecap="butt"/>
<path d="M287.0,324.5 L286.7,325.0 L286.4,325.5 L286.0,326.0 L285.7,326.5 L285.4,326.9 L285.0,327.4 L284.7,327.9 L284.3,328.4 L284.0,328.9" stroke="#adadad" stroke-width="10.10" stroke-linecap="butt"/>
<path d="M285.4,326.9 L285.0,327.4 L284.7,327.9 L284.3,328.4 L284.0,328.9 L283.6,329.4 L283.3,329.8 L282.9,330.3 L282.6,330.8 L282.2,331.3" stroke="#acacac" stroke-width="10.16" stroke-linecap="butt"/>
<path d="M283.6,329.4 L283.3,329.8 L282.9,330.3 L282.6,330.8 L282.2,331.3 L281.8,331.8 L281.5,332.3 L281.1,332.7 L280.7,333.2 L280.4,333.7" stroke="#acacac" stroke-width="10.24" stroke-linecap="butt"/>
<path d="M281.8,331.8 L281.5,332.3 L281.1,332.7 L280.7,333.2 L280.4,333.7 L280.0,334.2 L279.6,334.6 L279.2,335.1 L278.9,335.5 L278.5,336.0" stroke="#ababab" stroke-width="10.36" stroke-linecap="butt"/>
<path d="M280.0,334.2 L279.6,334.6 L279.2,335.1 L278.9,335.5 L278.5,336.0 L278.1,336.4 L277.7,336.9 L277.3,337.3 L276.9,337.7 L276.5,338.2" stroke="#a9a9a9" stroke-width="10.52" stroke-linecap="butt"/>
<path d="M278.1,336.4 L277.7,336.9 L277.3,337.3 L276.9,337.7 L276.5,338.2 L276.1,338.6 L275.7,339.0 L275.3,339.4 L274.9,339.8 L274.5,340.2" stroke="#a8a8a8" stroke-width="10.72" stroke-linecap="butt"/>
<path d="M276.1,338.6 L275.7,339.0 L275.3,339.4 L274.9,339.8 L274.5,340.2 L274.1,340.5 L273.7,340.9 L273.3,341.2 L272.9,341.6 L272.5,341.9" stroke="#a7a7a7" stroke-width="10.99" stroke-linecap="butt"/>
<path d="M274.1,340.5 L273.7,340.9 L273.3,341.2 L272.9,341.6 L272.5,341.9 L272.1,342.2 L271.7,342.5 L271.2,342.8 L270.8,343.1 L270.4,343.4" stroke="#a6a6a6" stroke-width="11.33" stroke-linecap="butt"/>
<path d="M272.1,342.2 L271.7,342.5 L271.2,342.8 L270.8,343.1 L270.4,343.4 L270.0,343.6 L269.5,343.9 L269.1,344.1 L268.7,344.3 L268.3,344.5" stroke="#a4a4a4" stroke-width="11.74" stroke-linecap="butt"/>
<path d="M270.0,343.6 L269.5,343.9 L269.1,344.1 L268.7,344.3 L268.3,344.5 L267.8,344.7 L267.4,344.9 L267.0,345.0 L266.5,345.1 L266.1,345.3" stroke="#a3a3a3" stroke-width="12.18" stroke-linecap="butt"/>
<path d="M267.8,344.7 L267.4,344.9 L267.0,345.0 L266.5,345.1 L266.1,345.3 L265.7,345.4 L265.2,345.5 L264.8,345.5 L264.4,345.6 L263.9,345.6" stroke="#a1a1a1" stroke-width="12.58" stroke-linecap="butt"/>
<path d="M265.7,345.4 L265.2,345.5 L264.8,345.5 L264.4,345.6 L263.9,345.6 L263.5,345.6 L263.0,345.6 L262.6,345.6 L262.1,345.5 L261.7,345.5" stroke="#a0a0a0" stroke-width="12.78" stroke-linecap="butt"/>
<path d="M263.5,345.6 L263.0,345.6 L262.6,345.6 L262.1,345.5 L261.7,345.5 L261.3,345.4 L260.8,345.3 L260.4,345.2 L259.9,345.1 L259.5,345.0" stroke="#9f9f9f" stroke-width="12.68" stroke-linecap="butt"/>
<path d="M261.3,345.4 L260.8,345.3 L260.4,345.2 L259.9,345.1 L259.5,345.0 L259.0,344.8 L258.6,344.6 L258.1,344.5 L257.7,344.3 L257.2,344.1" stroke="#9d9d9d" stroke-width="12.39" stroke-linecap="butt"/>
<path d="M259.0,344.8 L258.6,344.6 L258.1,344.5 L257.7,344.3 L257.2,344.1 L256.8,343.9 L256.3,343.6 L255.9,343.4 L255.4,343.1 L255.0,342.8" stroke="#9c9c9c" stroke-width="12.03" stroke-linecap="butt"/>
<path d="M256.8,343.9 L256.3,343.6 L255.9,343.4 L255.4,343.1 L255.0,342.8 L254.5,342.6 L254.1,342.3 L253.7,342.0 L253.2,341.7 L252.8,341.3" stroke="#9b9b9b" stroke-width="11.67" stroke-linecap="butt"/>
<path d="M254.5,342.6 L254.1,342.3 L253.7,342.0 L253.2,341.7 L252.8,341.3 L252.3,341.0 L251.9,340.7 L251.4,340.3 L251.0,339.9 L250.6,339.6" stroke="#999999" stroke-width="11.36" stroke-linecap="butt"/>
<path d="M252.3,341.0 L251.9,340.7 L251.4,340.3 L251.0,339.9 L250.6,339.6 L250.1,339.2 L249.7,338.8 L249.2,338.4 L248.8,338.0 L248.4,337.6" stroke="#989898" stroke-width="11.10" stroke-linecap="butt"/>
<path d="M250.1,339.2 L249.7,338.8 L249.2,338.4 L248.8,338.0 L248.4,337.6 L247.9,337.2 L247.5,336.7 L247.1,336.3 L246.6,335.9 L246.2,335.4" stroke="#979797" stroke-width="10.88" stroke-linecap="butt"/>
<path d="M247.9,337.2 L247.5,336.7 L247.1,336.3 L246.6,335.9 L246.2,335.4 L245.8,335.0 L245.3,334.5 L244.9,334.1 L244.5,333.6 L244.1,333.1" stroke="#969696" stroke-width="10.71" stroke-linecap="butt"/>
<path d="M245.8,335.0 L245.3,334.5 L244.9,334.1 L244.5,333.6 L244.1,333.1 L243.7,332.7 L243.2,332.2 L242.8,331.7 L242.4,331.2 L242.0,330.7" stroke="#959595" stroke-width="10.57" stroke-linecap="butt"/>
<path d="M243.7,332.7 L243.2,332.2 L242.8,331.7 L242.4,331.2 L242.0,330.7 L241.6,330.3 L241.2,329.8 L240.8,329.3 L240.4,328.8 L240.0,328.3" stroke="#949494" stroke-width="10.46" stroke-linecap="butt"/>
<path d="M241.6,330.3 L241.2,329.8 L240.8,329.3 L240.4,328.8 L240.0,328.3 L239.6,327.8 L239.2,327.3 L238.8,326.8 L238.4,326.3 L238.0,325.8" stroke="#939393" stroke-width="10.38" stroke-linecap="butt"/>
<path d="M239.6,327.8 L239.2,327.3 L238.8,326.8 L238.4,326.3 L238.0,325.8 L237.6,325.3 L237.2,324.9 L236.9,324.4 L236.5,323.9 L236.1,323.4" stroke="#939393" stroke-width="10.32" stroke-linecap="butt"/>
<path d="M237.6,325.3 L237.2,324.9 L236.9,324.4 L236.5,323.9 L236.1,323.4 L235.7,322.9 L235.4,322.4 L235.0,321.9 L234.7,321.5 L234.3,321.0" stroke="#929292" stroke-width="10.27" stroke-linecap="butt"/>
<path d="M235.7,322.9 L235.4,322.4 L235.0,321.9 L234.7,321.5 L234.3,321.0 L233.9,320.5 L233.6,320.0 L233.2,319.5 L232.9,319.1 L232.5,318.6" stroke="#929292" stroke-width="10.22" stroke-linecap="butt"/>
<path d="M233.9,320.5 L233.6,320.0 L233.2,319.5 L232.9,319.1 L232.5,318.6 L232.2,318.1 L231.8,317.6 L231.5,317.1 L231.2,316.7 L230.8,316.2" stroke="#919191" stroke-width="10.18" stroke-linecap="butt"/>
<path d="M232.2,318.1 L231.8,317.6 L231.5,317.1 L231.2,316.7 L230.8,316.2 L230.5,315.7 L230.1,315.3 L229.8,314.8 L229.5,314.3 L229.2,313.9" stroke="#919191" stroke-width="10.15" stroke-linecap="butt"/>
<path d="M230.5,315.7 L230.1,315.3 L229.8,314.8 L229.5,314.3 L229.2,313.9 L228.8,313.4 L228.5,312.9 L228.2,312.5 L227.9,312.0 L227.5,311.5" stroke="#919191" stroke-width="10.11" stroke-linecap="butt"/>
<path d="M228.8,313.4 L228.5,312.9 L228.2,312.5 L227.9,312.0 L227.5,311.5 L227.2,311.1 L226.9,310.6 L226.6,310.1 L226.3,309.7 L226.0,309.2" stroke="#909090" stroke-width="10.08" stroke-linecap="butt"/>
<path d="M227.2,311.1 L226.9,310.6 L226.6,310.1 L226.3,309.7 L226.0,309.2 L225.7,308.8 L225.3,308.3 L225.0,307.8 L224.7,307.4 L224.4,306.9" stroke="#909090" stroke-width="10.06" stroke-linecap="butt"/>
<path d="M225.7,308.8 L225.3,308.3 L225.0,307.8 L224.7,307.4 L224.4,306.9 L224.1,306.5 L223.8,306.0 L223.5,305.6 L223.2,305.1 L222.9,304.7" stroke="#909090" stroke-width="10.04" stroke-linecap="butt"/>
<path d="M224.1,306.5 L223.8,306.0 L223.5,305.6 L223.2,305.1 L222.9,304.7 L222.6,304.2 L222.3,303.8 L222.0,303.3 L221.7,302.9 L221.4,302.4" stroke="#909090" stroke-width="10.02" stroke-linecap="butt"/>
<path d="M222.6,304.2 L222.3,303.8 L222.0,303.3 L221.7,302.9 L221.4,302.4 L221.1,302.0 L220.8,301.5 L220.6,301.1 L220.3,300.6 L220.0,300.2" stroke="#909090" stroke-width="10.01" stroke-linecap="butt"/>
<path d="M221.1,302.0 L220.8,301.5 L220.6,301.1 L220.3,300.6 L220.0,300.2 L219.7,299.8 L219.4,299.3 L219.1,298.9 L218.8,298.4 L218.5,298.0" stroke="#909090" stroke-width="10.01" stroke-linecap="butt"/>
<path d="M219.7,299.8 L219.4,299.3 L219.1,298.9 L218.8,298.4 L218.5,298.0 L218.2,297.6 L217.9,297.1 L217.7,296.7 L217.4,296.2 L217.1,295.8" stroke="#909090" stroke-width="10.01" stroke-linecap="butt"/>
<path d="M218.2,297.6 L217.9,297.1 L217.7,296.7 L217.4,296.2 L217.1,295.8 L216.8,295.4 L216.5,294.9 L216.2,294.5 L215.9,294.1 L215.6,293.6" stroke="#909090" stroke-width="10.01" stroke-linecap="butt"/>
<path d="M216.8,295.4 L216.5,294.9 L216.2,294.5 L215.9,294.1 L215.6,293.6 L215.4,293.2 L215.1,292.8 L214.8,292.3 L214.5,291.9 L214.2,291.5" stroke="#909090" stroke-width="10.03" stroke-linecap="butt"/>
<path d="M215.4,293.2 L215.1,292.8 L214.8,292.3 L214.5,291.9 L214.2,291.5 L213.9,291.1 L213.6,290.6 L213.3,290.2 L213.1,289.8 L212.8,289.3" stroke="#909090" stroke-width="10.04" stroke-linecap="butt"/>
<path d="M213.9,291.1 L213.6,290.6 L213.3,290.2 L213.1,289.8 L212.8,289.3 L212.5,288.9 L212.2,288.5 L211.9,288.1 L211.6,287.6 L211.3,287.2" stroke="#909090" stroke-width="10.07" stroke-linecap="butt"/>
<path d="M212.5,288.9 L212.2,288.5 L211.9,288.1 L211.6,287.6 L211.3,287.2 L211.0,286.8 L210.7,286.4 L210.4,286.0 L210.1,285.5 L209.8,285.1" stroke="#909090" stroke-width="10.10" stroke-linecap="butt"/>
<path d="M211.0,286.8 L210.7,286.4 L210.4,286.0 L210.1,285.5 L209.8,285.1 L209.5,284.7 L209.2,284.3 L208.9,283.9 L208.6,283.4 L208.3,283.0" stroke="#909090" stroke-width="10.13" stroke-linecap="butt"/>
<path d="M209.5,284.7 L209.2,284.3 L208.9,283.9 L208.6,283.4 L208.3,283.0 L208.0,282.6 L207.7,282.2 L207.4,281.8 L207.1,281.4 L206.8,280.9" stroke="#909090" stroke-width="10.17" stroke-linecap="butt"/>
<path d="M208.0,282.6 L207.7,282.2 L207.4,281.8 L207.1,281.4 L206.8,280.9 L206.5,280.5 L206.2,280.1 L205.9,279.7 L205.6,279.3 L205.3,278.9" stroke="#909090" stroke-width="10.22" stroke-linecap="butt"/>
<path d="M206.5,280.5 L206.2,280.1 L205.9,279.7 L205.6,279.3 L205.3,278.9 L205.0,278.5 L204.7,278.1 L204.3,277.6 L204.0,277.2 L203.7,276.8" stroke="#909090" stroke-width="10.27" stroke-linecap="butt"/>
<path d="M205.0,278.5 L204.7,278.1 L204.3,277.6 L204.0,277.2 L203.7,276.8 L203.4,276.4 L203.0,276.0 L202.7,275.6 L202.4,275.2 L202.1,274.8" stroke="#909090" stroke-width="10.33" stroke-linecap="butt"/>
<path d="M203.4,276.4 L203.0,276.0 L202.7,275.6 L202.4,275.2 L202.1,274.8 L201.7,274.4 L201.4,274.0 L201.1,273.6 L200.7,273.2 L200.4,272.8" stroke="#909090" stroke-width="10.39" stroke-linecap="butt"/>
<path d="M201.7,274.4 L201.4,274.0 L201.1,273.6 L200.7,273.2 L200.4,272.8 L200.0,272.4 L199.7,271.9 L199.4,271.5 L199.0,271.1 L198.7,270.7" stroke="#909090" stroke-width="10.46" stroke-linecap="butt"/>
<path d="M200.0,272.4 L199.7,271.9 L199.4,271.5 L199.0,271.1 L198.7,270.7 L198.3,270.3 L198.0,269.9 L197.6,269.5 L197.2,269.1 L196.9,268.7" stroke="#909090" stroke-width="10.53" stroke-linecap="butt"/>
<path d="M198.3,270.3 L198.0,269.9 L197.6,269.5 L197.2,269.1 L196.9,268.7 L196.5,268.3 L196.2,267.9 L195.8,267.5 L195.4,267.1 L195.1,266.7" stroke="#909090" stroke-width="10.59" stroke-linecap="butt"/>
<path d="M196.5,268.3 L196.2,267.9 L195.8,267.5 L195.4,267.1 L195.1,266.7 L194.7,266.3 L194.3,265.9 L193.9,265.5 L193.6,265.1 L193.2,264.7" stroke="#909090" stroke-width="10.66" stroke-linecap="butt"/>
<path d="M194.7,266.3 L194.3,265.9 L193.9,265.5 L193.6,265.1 L193.2,264.7 L192.8,264.3 L192.4,263.9 L192.0,263.5 L191.6,263.2 L191.3,262.8" stroke="#909090" stroke-width="10.72" stroke-linecap="butt"/>
<path d="M192.8,264.3 L192.4,263.9 L192.0,263.5 L191.6,263.2 L191.3,262.8 L190.9,262.4 L190.5,262.0 L190.1,261.6 L189.7,261.2 L189.3,260.8" stroke="#909090" stroke-width="10.77" stroke-linecap="butt"/>
<path d="M190.9,262.4 L190.5,262.0 L190.1,261.6 L189.7,261.2 L189.3,260.8 L188.9,260.4 L188.5,260.0 L188.1,259.6 L187.7,259.2 L187.3,258.8" stroke="#909090" stroke-width="10.83" stroke-linecap="butt"/>
<path d="M188.9,260.4 L188.5,260.0 L188.1,259.6 L187.7,259.2 L187.3,258.8 L186.9,258.4 L186.5,258.0 L186.0,257.6 L185.6,257.2 L185.2,256.9" stroke="#909090" stroke-width="10.88" stroke-linecap="butt"/>
<path d="M186.9,258.4 L186.5,258.0 L186.0,257.6 L185.6,257.2 L185.2,256.9 L184.8,256.5 L184.4,256.1 L183.9,255.7 L183.5,255.3 L183.1,254.9" stroke="#909090" stroke-width="10.93" stroke-linecap="butt"/>
<path d="M184.8,256.5 L184.4,256.1 L183.9,255.7 L183.5,255.3 L183.1,254.9 L182.7,254.5 L182.2,254.1 L181.8,253.7 L181.4,253.3 L180.9,253.0" stroke="#909090" stroke-width="10.98" stroke-linecap="butt"/>
<path d="M182.7,254.5 L182.2,254.1 L181.8,253.7 L181.4,253.3 L180.9,253.0 L180.5,252.6 L180.1,252.2 L179.6,251.8 L179.2,251.4 L178.8,251.0" stroke="#909090" stroke-width="11.03" stroke-linecap="butt"/>
<path d="M180.5,252.6 L180.1,252.2 L179.6,251.8 L179.2,251.4 L178.8,251.0 L178.3,250.6 L177.9,250.2 L177.4,249.9 L177.0,249.5 L176.5,249.1" stroke="#909090" stroke-width="11.08" stroke-linecap="butt"/>
<path d="M178.3,250.6 L177.9,250.2 L177.4,249.9 L177.0,249.5 L176.5,249.1 L176.1,248.7 L175.6,248.3 L175.2,248.0 L174.7,247.6 L174.2,247.2" stroke="#909090" stroke-width="11.15" stroke-linecap="butt"/>
<path d="M176.1,248.7 L175.6,248.3 L175.2,248.0 L174.7,247.6 L174.2,247.2 L173.8,246.9 L173.3,246.5 L172.9,246.1 L172.4,245.8 L171.9,245.5" stroke="#909090" stroke-width="11.27" stroke-linecap="butt"/>
<path d="M173.8,246.9 L173.3,246.5 L172.9,246.1 L172.4,245.8 L171.9,245.5 L171.5,245.1 L171.0,244.8 L170.5,244.5 L170.1,244.1 L169.6,243.8" stroke="#909090" stroke-width="11.43" stroke-linecap="butt"/>
<path d="M171.5,245.1 L171.0,244.8 L170.5,244.5 L170.1,244.1 L169.6,243.8 L169.1,243.5 L168.6,243.2 L168.2,243.0 L167.7,242.7 L167.2,242.4" stroke="#909090" stroke-width="11.64" stroke-linecap="butt"/>
<path d="M169.1,243.5 L168.6,243.2 L168.2,243.0 L167.7,242.7 L167.2,242.4 L166.7,242.1 L166.2,241.9 L165.8,241.7 L165.3,241.4 L164.8,241.2" stroke="#909090" stroke-width="11.90" stroke-linecap="butt"/>
<path d="M166.7,242.1 L166.2,241.9 L165.8,241.7 L165.3,241.4 L164.8,241.2 L164.3,241.0 L163.8,240.8 L163.3,240.6 L162.9,240.5 L162.4,240.3" stroke="#909090" stroke-width="12.18" stroke-linecap="butt"/>
<path d="M164.3,241.0 L163.8,240.8 L163.3,240.6 L162.9,240.5 L162.4,240.3 L161.9,240.1 L161.4,240.0 L160.9,239.9 L160.4,239.8 L159.9,239.7" stroke="#909090" stroke-width="12.47" stroke-linecap="butt"/>
<path d="M161.9,240.1 L161.4,240.0 L160.9,239.9 L160.4,239.8 L159.9,239.7 L159.4,239.6 L158.9,239.6 L158.4,239.5 L158.0,239.5 L157.5,239.5" stroke="#909090" stroke-width="12.70" stroke-linecap="butt"/>
<path d="M159.4,239.6 L158.9,239.6 L158.4,239.5 L158.0,239.5 L157.5,239.5 L157.0,239.5 L156.5,239.5 L156.0,239.5 L155.5,239.6 L155.0,239.6" stroke="#909090" stroke-width="12.79" stroke-linecap="butt"/>
<path d="M157.0,239.5 L156.5,239.5 L156.0,239.5 L155.5,239.6 L155.0,239.6 L154.5,239.7 L154.0,239.8 L153.5,239.9 L153.0,240.1 L152.5,240.2" stroke="#909090" stroke-width="12.68" stroke-linecap="butt"/>
<path d="M154.5,239.7 L154.0,239.8 L153.5,239.9 L153.0,240.1 L152.5,240.2 L152.0,240.4 L151.5,240.5 L151.0,240.7 L150.5,240.9 L150.0,241.1" stroke="#909090" stroke-width="12.43" stroke-linecap="butt"/>
<path d="M152.0,240.4 L151.5,240.5 L151.0,240.7 L150.5,240.9 L150.0,241.1 L149.6,241.3 L149.1,241.6 L148.6,241.8 L148.1,242.1 L147.6,242.4" stroke="#909090" stroke-width="12.11" stroke-linecap="butt"/>
<path d="M149.6,241.3 L149.1,241.6 L148.6,241.8 L148.1,242.1 L147.6,242.4 L147.1,242.6 L146.7,242.9 L146.2,243.2 L145.7,243.5 L145.3,243.9" stroke="#909090" stroke-width="11.78" stroke-linecap="butt"/>
<path d="M147.1,242.6 L146.7,242.9 L146.2,243.2 L145.7,243.5 L145.3,243.9 L144.8,244.2 L144.3,244.5 L143.9,244.9 L143.4,245.2 L143.0,245.6" stroke="#909090" stroke-width="11.45" stroke-linecap="butt"/>
<path d="M144.8,244.2 L144.3,244.5 L143.9,244.9 L143.4,245.2 L143.0,245.6 L142.5,246.0 L142.1,246.4 L141.7,246.8 L141.2,247.1 L140.8,247.6" stroke="#909090" stroke-width="11.14" stroke-linecap="butt"/>
<path d="M142.5,246.0 L142.1,246.4 L141.7,246.8 L141.2,247.1 L140.8,247.6 L140.4,248.0 L140.0,248.4 L139.5,248.8 L139.1,249.2 L138.7,249.7" stroke="#909090" stroke-width="10.86" stroke-linecap="butt"/>
<path d="M140.4,248.0 L140.0,248.4 L139.5,248.8 L139.1,249.2 L138.7,249.7 L138.3,250.1 L137.9,250.5 L137.6,251.0 L137.2,251.4 L136.8,251.9" stroke="#909090" stroke-width="10.60" stroke-linecap="butt"/>
<path d="M138.3,250.1 L137.9,250.5 L137.6,251.0 L137.2,251.4 L136.8,251.9 L136.4,252.4 L136.1,252.8 L135.7,253.3 L135.4,253.8 L135.0,254.2" stroke="#909090" stroke-width="10.36" stroke-linecap="butt"/>
<path d="M136.4,252.4 L136.1,252.8 L135.7,253.3 L135.4,253.8 L135.0,254.2 L134.7,254.7 L134.4,255.2 L134.1,255.7 L133.7,256.2 L133.4,256.7" stroke="#909090" stroke-width="10.11" stroke-linecap="butt"/>
<path d="M134.7,254.7 L134.4,255.2 L134.1,255.7 L133.7,256.2 L133.4,256.7 L133.1,257.2 L132.9,257.7 L132.6,258.2 L132.3,258.7 L132.0,259.2" stroke="#909090" stroke-width="9.86" stroke-linecap="butt"/>
<path d="M133.1,257.2 L132.9,257.7 L132.6,258.2 L132.3,258.7 L132.0,259.2 L131.8,259.7 L131.5,260.2 L131.3,260.7 L131.1,261.2 L130.8,261.7" stroke="#909090" stroke-width="9.61" stroke-linecap="butt"/>
<path d="M131.8,259.7 L131.5,260.2 L131.3,260.7 L131.1,261.2 L130.8,261.7 L130.6,262.2 L130.4,262.8 L130.2,263.3 L130.1,263.8 L129.9,264.3" stroke="#909090" stroke-width="9.37" stroke-linecap="butt"/>
<path d="M130.6,262.2 L130.4,262.8 L130.2,263.3 L130.1,263.8 L129.9,264.3 L129.7,264.8 L129.6,265.4 L129.4,265.9 L129.3,266.4 L129.2,266.9" stroke="#909090" stroke-width="9.16" stroke-linecap="butt"/>
<path d="M129.7,264.8 L129.6,265.4 L129.4,265.9 L129.3,266.4 L129.2,266.9 L129.1,267.5 L129.0,268.0 L128.9,268.5 L128.8,269.0 L128.7,269.6" stroke="#909090" stroke-width="8.97" stroke-linecap="butt"/>
<path d="M129.1,267.5 L129.0,268.0 L128.9,268.5 L128.8,269.0 L128.7,269.6 L128.7,270.1 L128.6,270.6 L128.6,271.2 L128.6,271.7 L128.6,272.2" stroke="#909090" stroke-width="8.85" stroke-linecap="butt"/>
<path d="M128.7,270.1 L128.6,270.6 L128.6,271.2 L128.6,271.7 L128.6,272.2 L128.6,272.7 L128.6,273.3 L128.6,273.8 L128.6,274.3 L128.7,274.8" stroke="#909090" stroke-width="8.81" stroke-linecap="butt"/>
<path d="M128.6,272.7 L128.6,273.3 L128.6,273.8 L128.6,274.3 L128.7,274.8 L128.7,275.3 L128.8,275.9 L128.9,276.4 L128.9,276.9 L129.0,277.4" stroke="#909090" stroke-width="8.84" stroke-linecap="butt"/>
<path d="M128.7,275.3 L128.8,275.9 L128.9,276.4 L128.9,276.9 L129.0,277.4 L129.1,278.0 L129.2,278.5 L129.3,279.0 L129.5,279.5 L129.6,280.0" stroke="#909090" stroke-width="8.93" stroke-linecap="butt"/>
<path d="M129.1,278.0 L129.2,278.5 L129.3,279.0 L129.5,279.5 L129.6,280.0 L129.7,280.5 L129.8,281.1 L130.0,281.6 L130.1,282.1 L130.3,282.6" stroke="#909090" stroke-width="9.04" stroke-linecap="butt"/>
<path d="M129.7,280.5 L129.8,281.1 L130.0,281.6 L130.1,282.1 L130.3,282.6 L130.4,283.1 L130.6,283.6 L130.8,284.2 L130.9,284.7 L131.1,285.2" stroke="#909090" stroke-width="9.13" stroke-linecap="butt"/>
<path d="M130.4,283.1 L130.6,283.6 L130.8,284.2 L130.9,284.7 L131.1,285.2 L131.3,285.7 L131.4,286.2 L131.6,286.7 L131.8,287.2 L132.0,287.8" stroke="#909090" stroke-width="9.20" stroke-linecap="butt"/>
<path d="M131.3,285.7 L131.4,286.2 L131.6,286.7 L131.8,287.2 L132.0,287.8 L132.2,288.3 L132.3,288.8 L132.5,289.3 L132.7,289.8 L132.9,290.3" stroke="#909090" stroke-width="9.23" stroke-linecap="butt"/>
<path d="M132.2,288.3 L132.3,288.8 L132.5,289.3 L132.7,289.8 L132.9,290.3 L133.1,290.8 L133.2,291.3 L133.4,291.8 L133.6,292.4 L133.7,292.9" stroke="#909090" stroke-width="9.23" stroke-linecap="butt"/>
<path d="M133.1,290.8 L133.2,291.3 L133.4,291.8 L133.6,292.4 L133.7,292.9 L133.9,293.4 L134.1,293.9 L134.2,294.4 L134.4,294.9 L134.5,295.4" stroke="#909090" stroke-width="9.18" stroke-linecap="butt"/>
<path d="M133.9,293.4 L134.1,293.9 L134.2,294.4 L134.4,294.9 L134.5,295.4 L134.7,295.9 L134.8,296.4 L135.0,297.0 L135.1,297.5 L135.2,298.0" stroke="#909090" stroke-width="9.11" stroke-linecap="butt"/>
<path d="M134.7,295.9 L134.8,296.4 L135.0,297.0 L135.1,297.5 L135.2,298.0 L135.4,298.5 L135.5,299.0 L135.6,299.5 L135.7,300.0 L135.8,300.5" stroke="#909090" stroke-width="9.04" stroke-linecap="butt"/>
<path d="M135.4,298.5 L135.5,299.0 L135.6,299.5 L135.7,300.0 L135.8,300.5 L136.0,301.0 L136.1,301.6 L136.2,302.1 L136.3,302.6 L136.4,303.1" stroke="#909090" stroke-width="8.98" stroke-linecap="butt"/>
<path d="M136.0,301.0 L136.1,301.6 L136.2,302.1 L136.3,302.6 L136.4,303.1 L136.5,303.6 L136.6,304.1 L136.7,304.7 L136.8,305.2 L136.9,305.7" stroke="#909090" stroke-width="8.95" stroke-linecap="butt"/>
<path d="M136.5,303.6 L136.6,304.1 L136.7,304.7 L136.8,305.2 L136.9,305.7 L137.0,306.2 L137.1,306.8 L137.2,307.3 L137.3,307.8 L137.4,308.4" stroke="#919191" stroke-width="8.93" stroke-linecap="butt"/>
<path d="M137.0,306.2 L137.1,306.8 L137.2,307.3 L137.3,307.8 L137.4,308.4 L137.5,308.9 L137.6,309.4 L137.7,310.0 L137.8,310.5 L137.9,311.1" stroke="#919191" stroke-width="8.93" stroke-linecap="butt"/>
<path d="M137.5,308.9 L137.6,309.4 L137.7,310.0 L137.8,310.5 L137.9,311.1 L138.0,311.6 L138.1,312.2 L138.2,312.7 L138.3,313.3 L138.4,313.9" stroke="#919191" stroke-width="8.95" stroke-linecap="butt"/>
<path d="M138.0,311.6 L138.1,312.2 L138.2,312.7 L138.3,313.3 L138.4,313.9 L138.6,314.4 L138.7,315.0 L138.8,315.6 L138.9,316.2 L139.1,316.8" stroke="#929292" stroke-width="8.97" stroke-linecap="butt"/>
<path d="M138.6,314.4 L138.7,315.0 L138.8,315.6 L138.9,316.2 L139.1,316.8 L139.2,317.3 L139.3,317.9 L139.5,318.5 L139.6,319.1 L139.8,319.7" stroke="#929292" stroke-width="9.01" stroke-linecap="butt"/>
<path d="M139.2,317.3 L139.3,317.9 L139.5,318.5 L139.6,319.1 L139.8,319.7 L140.0,320.3 L140.1,320.9 L140.3,321.6 L140.5,322.2 L140.7,322.8" stroke="#939393" stroke-width="9.07" stroke-linecap="butt"/>
<path d="M140.0,320.3 L140.1,320.9 L140.3,321.6 L140.5,322.2 L140.7,322.8 L140.9,323.4 L141.1,324.1 L141.3,324.7 L141.5,325.3 L141.7,326.0" stroke="#949494" stroke-width="9.14" stroke-linecap="butt"/>
<path d="M140.9,323.4 L141.1,324.1 L141.3,324.7 L141.5,325.3 L141.7,326.0 L141.9,326.6 L142.1,327.2 L142.4,327.9 L142.6,328.5 L142.8,329.1" stroke="#959595" stroke-width="9.22" stroke-linecap="butt"/>
<path d="M141.9,326.6 L142.1,327.2 L142.4,327.9 L142.6,328.5 L142.8,329.1 L143.1,329.7 L143.3,330.4 L143.6,331.0 L143.8,331.6 L144.1,332.2" stroke="#969696" stroke-width="9.33" stroke-linecap="butt"/>
<path d="M143.1,329.7 L143.3,330.4 L143.6,331.0 L143.8,331.6 L144.1,332.2 L144.3,332.8 L144.6,333.4 L144.9,333.9 L145.1,334.5 L145.4,335.1" stroke="#979797" stroke-width="9.46" stroke-linecap="butt"/>
<path d="M144.3,332.8 L144.6,333.4 L144.9,333.9 L145.1,334.5 L145.4,335.1 L145.7,335.6 L146.0,336.2 L146.3,336.7 L146.6,337.2 L146.9,337.7" stroke="#989898" stroke-width="9.63" stroke-linecap="butt"/>
<path d="M145.7,335.6 L146.0,336.2 L146.3,336.7 L146.6,337.2 L146.9,337.7 L147.2,338.2 L147.5,338.7 L147.8,339.1 L148.1,339.6 L148.4,340.0" stroke="#999999" stroke-width="9.88" stroke-linecap="butt"/>
<path d="M147.2,338.2 L147.5,338.7 L147.8,339.1 L148.1,339.6 L148.4,340.0 L148.7,340.4 L149.0,340.8 L149.3,341.2 L149.6,341.6 L149.9,341.9" stroke="#9b9b9b" stroke-width="10.25" stroke-linecap="butt"/>
<path d="M148.7,340.4 L149.0,340.8 L149.3,341.2 L149.6,341.6 L149.9,341.9 L150.2,342.2 L150.6,342.5 L150.9,342.8 L151.2,343.0 L151.5,343.3" stroke="#9c9c9c" stroke-width="10.83" stroke-linecap="butt"/>
<path d="M150.2,342.2 L150.6,342.5 L150.9,342.8 L151.2,343.0 L151.5,343.3 L151.9,343.5 L152.2,343.7 L152.5,343.8 L152.8,343.9 L153.2,344.1" stroke="#9e9e9e" stroke-width="11.66" stroke-linecap="butt"/>
<path d="M151.9,343.5 L152.2,343.7 L152.5,343.8 L152.8,343.9 L153.2,344.1 L153.5,344.1 L153.8,344.2 L154.2,344.2 L154.5,344.2 L154.8,344.2" stroke="#9f9f9f" stroke-width="12.53" stroke-linecap="butt"/>
</g>

<!-- shaft -->
<rect x="96" y="272.25" width="430" height="17" fill="url(#shaftg)" stroke="#141414" stroke-width="2.5"/>

<!-- ribbon front -->
<g fill="none" stroke="#141414" stroke-linecap="round" stroke-linejoin="round">
<path d="M169.4,321.0 L169.7,320.4 L169.9,319.8 L170.1,319.2 L170.3,318.6 L170.5,318.0 L170.7,317.4 L170.8,316.8" stroke-width="14.42" stroke-linecap="butt"/>
<path d="M170.1,319.2 L170.3,318.6 L170.5,318.0 L170.7,317.4 L170.8,316.8 L171.0,316.3 L171.2,315.7 L171.4,315.1 L171.6,314.6 L171.7,314.0" stroke-width="14.37" stroke-linecap="butt"/>
<path d="M171.0,316.3 L171.2,315.7 L171.4,315.1 L171.6,314.6 L171.7,314.0 L171.9,313.5 L172.1,312.9 L172.2,312.4 L172.4,311.8 L172.5,311.3" stroke-width="14.33" stroke-linecap="butt"/>
<path d="M171.9,313.5 L172.1,312.9 L172.2,312.4 L172.4,311.8 L172.5,311.3 L172.7,310.7 L172.9,310.2 L173.0,309.7 L173.2,309.1 L173.3,308.6" stroke-width="14.30" stroke-linecap="butt"/>
<path d="M173.0,309.7 L173.2,309.1 L173.3,308.6 L173.4,308.1 L173.6,307.5 L173.7,307.0" stroke-width="14.28"/>
<path d="M173.7,307.0 L173.9,306.5 L174.0,306.0 L174.2,305.5 L174.3,304.9 L174.4,304.4" stroke-width="14.27"/>
<path d="M174.4,304.4 L174.6,303.9 L174.7,303.4 L174.8,302.9 L175.0,302.4 L175.1,301.9" stroke-width="14.27"/>
<path d="M175.1,301.9 L175.2,301.4 L175.4,300.9 L175.5,300.4 L175.7,299.9 L175.8,299.4" stroke-width="14.28"/>
<path d="M175.8,299.4 L175.9,298.9 L176.1,298.4 L176.2,297.9 L176.4,297.4 L176.5,296.9" stroke-width="14.30"/>
<path d="M176.5,296.9 L176.7,296.4 L176.8,295.9 L176.9,295.4 L177.1,294.9 L177.3,294.4" stroke-width="14.33"/>
<path d="M177.3,294.4 L177.4,293.9 L177.6,293.4 L177.7,292.9 L177.9,292.4 L178.0,291.9" stroke-width="14.36"/>
<path d="M178.0,291.9 L178.2,291.4 L178.4,290.9 L178.5,290.4 L178.7,289.9 L178.9,289.4" stroke-width="14.40"/>
<path d="M178.9,289.4 L179.0,288.9 L179.2,288.4 L179.4,287.9 L179.6,287.4 L179.7,286.9" stroke-width="14.43"/>
<path d="M179.7,286.9 L179.9,286.4 L180.1,285.9 L180.3,285.4 L180.5,284.9 L180.7,284.4" stroke-width="14.47"/>
<path d="M180.7,284.4 L180.8,283.9 L181.0,283.4 L181.2,282.9 L181.4,282.4 L181.6,281.9" stroke-width="14.50"/>
<path d="M181.6,281.9 L181.8,281.4 L182.0,280.9 L182.2,280.4 L182.4,279.9 L182.6,279.4" stroke-width="14.54"/>
<path d="M182.6,279.4 L182.8,278.9 L183.0,278.4 L183.2,277.9 L183.4,277.4 L183.6,276.9" stroke-width="14.57"/>
<path d="M183.6,276.9 L183.8,276.4 L184.0,275.9 L184.2,275.4 L184.4,274.9 L184.7,274.4" stroke-width="14.60"/>
<path d="M184.7,274.4 L184.9,273.9 L185.1,273.4 L185.3,272.9 L185.5,272.4 L185.7,271.9" stroke-width="14.64"/>
<path d="M185.7,271.9 L186.0,271.4 L186.2,270.9 L186.4,270.4 L186.6,269.9 L186.9,269.4" stroke-width="14.67"/>
<path d="M186.9,269.4 L187.1,268.9 L187.3,268.4 L187.5,267.9 L187.8,267.4 L188.0,266.9" stroke-width="14.70"/>
<path d="M188.0,266.9 L188.2,266.5 L188.5,266.0 L188.7,265.5 L188.9,265.0 L189.2,264.5" stroke-width="14.73"/>
<path d="M189.2,264.5 L189.4,264.0 L189.6,263.5 L189.9,263.0 L190.1,262.5 L190.4,262.0" stroke-width="14.75"/>
<path d="M190.4,262.0 L190.6,261.5 L190.8,261.0 L191.1,260.5 L191.3,260.0 L191.6,259.5" stroke-width="14.78"/>
<path d="M191.6,259.5 L191.8,259.0 L192.1,258.5 L192.3,258.1 L192.6,257.6 L192.8,257.1" stroke-width="14.81"/>
<path d="M192.8,257.1 L193.1,256.6 L193.3,256.1 L193.6,255.6 L193.8,255.1 L194.1,254.6" stroke-width="14.83"/>
<path d="M194.1,254.6 L194.3,254.1 L194.6,253.6 L194.8,253.2 L195.1,252.7 L195.3,252.2" stroke-width="14.86"/>
<path d="M195.3,252.2 L195.6,251.7 L195.9,251.2 L196.1,250.7 L196.4,250.2 L196.6,249.8" stroke-width="14.88"/>
<path d="M196.6,249.8 L196.9,249.3 L197.2,248.8 L197.4,248.3 L197.7,247.8 L197.9,247.3" stroke-width="14.90"/>
<path d="M197.9,247.3 L198.2,246.9 L198.5,246.4 L198.7,245.9 L199.0,245.4 L199.3,244.9" stroke-width="14.93"/>
<path d="M199.3,244.9 L199.5,244.5 L199.8,244.0 L200.1,243.5 L200.3,243.0 L200.6,242.5" stroke-width="14.96"/>
<path d="M200.6,242.5 L200.9,242.1 L201.2,241.6 L201.4,241.1 L201.7,240.6 L202.0,240.2" stroke-width="15.01"/>
<path d="M202.0,240.2 L202.3,239.7 L202.5,239.2 L202.8,238.8 L203.1,238.3 L203.4,237.8" stroke-width="15.06"/>
<path d="M203.4,237.8 L203.7,237.4 L204.0,236.9 L204.3,236.4 L204.5,236.0 L204.8,235.5" stroke-width="15.13"/>
<path d="M204.8,235.5 L205.1,235.1 L205.4,234.6 L205.7,234.2 L206.0,233.7 L206.3,233.3" stroke-width="15.21"/>
<path d="M206.3,233.3 L206.6,232.8 L206.9,232.4 L207.3,231.9 L207.6,231.5 L207.9,231.0" stroke-width="15.30"/>
<path d="M207.9,231.0 L208.2,230.6 L208.5,230.1 L208.8,229.7 L209.2,229.3 L209.5,228.8" stroke-width="15.41"/>
<path d="M209.5,228.8 L209.8,228.4 L210.2,228.0 L210.5,227.5 L210.8,227.1 L211.2,226.7" stroke-width="15.53"/>
<path d="M211.2,226.7 L211.5,226.3 L211.9,225.9 L212.2,225.4 L212.6,225.0 L212.9,224.6" stroke-width="15.66"/>
<path d="M212.2,225.4 L212.6,225.0 L212.9,224.6 L213.3,224.2 L213.6,223.8 L214.0,223.4 L214.4,223.0 L214.8,222.6 L215.1,222.2 L215.5,221.8" stroke-width="15.80" stroke-linecap="butt"/>
<path d="M214.0,223.4 L214.4,223.0 L214.8,222.6 L215.1,222.2 L215.5,221.8 L215.9,221.4 L216.3,221.0 L216.7,220.6 L217.1,220.2 L217.5,219.9" stroke-width="15.95" stroke-linecap="butt"/>
<path d="M215.9,221.4 L216.3,221.0 L216.7,220.6 L217.1,220.2 L217.5,219.9 L217.9,219.5 L218.3,219.1 L218.7,218.7 L219.1,218.4 L219.5,218.0" stroke-width="16.12" stroke-linecap="butt"/>
<path d="M217.9,219.5 L218.3,219.1 L218.7,218.7 L219.1,218.4 L219.5,218.0 L219.9,217.6 L220.3,217.3 L220.8,216.9 L221.2,216.6 L221.6,216.2" stroke-width="16.29" stroke-linecap="butt"/>
<path d="M219.9,217.6 L220.3,217.3 L220.8,216.9 L221.2,216.6 L221.6,216.2 L222.1,215.9" stroke-width="16.43" stroke-linecap="butt"/>
<path d="M397.3,338.9 L397.6,338.4 L398.0,337.9 L398.3,337.5 L398.6,337.0 L398.9,336.5 L399.3,336.1 L399.6,335.6" stroke-width="15.33" stroke-linecap="butt"/>
<path d="M398.3,337.5 L398.6,337.0 L398.9,336.5 L399.3,336.1 L399.6,335.6 L399.9,335.1 L400.2,334.6 L400.5,334.2 L400.8,333.7 L401.0,333.2" stroke-width="15.17" stroke-linecap="butt"/>
<path d="M399.9,335.1 L400.2,334.6 L400.5,334.2 L400.8,333.7 L401.0,333.2 L401.3,332.7 L401.6,332.2 L401.9,331.7 L402.2,331.3 L402.4,330.8" stroke-width="15.03" stroke-linecap="butt"/>
<path d="M401.3,332.7 L401.6,332.2 L401.9,331.7 L402.2,331.3 L402.4,330.8 L402.7,330.3 L402.9,329.8 L403.2,329.3 L403.5,328.8 L403.7,328.3" stroke-width="14.91" stroke-linecap="butt"/>
<path d="M403.2,329.3 L403.5,328.8 L403.7,328.3 L404.0,327.8 L404.2,327.3 L404.4,326.9" stroke-width="14.82"/>
<path d="M404.4,326.9 L404.7,326.4 L404.9,325.9 L405.2,325.4 L405.4,324.9 L405.6,324.4" stroke-width="14.75"/>
<path d="M405.6,324.4 L405.9,323.9 L406.1,323.4 L406.3,322.9 L406.5,322.4 L406.8,321.9" stroke-width="14.70"/>
<path d="M406.8,321.9 L407.0,321.4 L407.2,320.9 L407.4,320.4 L407.7,319.9 L407.9,319.4" stroke-width="14.66"/>
<path d="M407.9,319.4 L408.1,318.9 L408.3,318.4 L408.5,317.9 L408.8,317.4 L409.0,316.9" stroke-width="14.64"/>
<path d="M409.0,316.9 L409.2,316.4 L409.4,315.9 L409.6,315.4 L409.8,314.9 L410.0,314.4" stroke-width="14.62"/>
<path d="M410.0,314.4 L410.3,313.9 L410.5,313.4 L410.7,312.9 L410.9,312.4 L411.1,311.9" stroke-width="14.61"/>
<path d="M411.1,311.9 L411.3,311.4 L411.5,310.9 L411.7,310.4 L411.9,309.9 L412.1,309.4" stroke-width="14.59"/>
<path d="M412.1,309.4 L412.4,308.9 L412.6,308.4 L412.8,307.9 L413.0,307.4 L413.2,306.9" stroke-width="14.58"/>
<path d="M413.2,306.9 L413.4,306.4 L413.6,305.9 L413.8,305.4 L414.0,304.9 L414.2,304.4" stroke-width="14.56"/>
<path d="M414.2,304.4 L414.4,303.9 L414.6,303.4 L414.8,302.9 L415.0,302.4 L415.2,301.9" stroke-width="14.55"/>
<path d="M415.2,301.9 L415.4,301.4 L415.6,300.9 L415.8,300.4 L416.0,299.9 L416.2,299.4" stroke-width="14.54"/>
<path d="M416.2,299.4 L416.4,298.9 L416.6,298.4 L416.8,297.9 L417.0,297.4 L417.2,296.9" stroke-width="14.53"/>
<path d="M417.2,296.9 L417.4,296.4 L417.6,295.9 L417.7,295.4 L417.9,294.9 L418.1,294.4" stroke-width="14.52"/>
<path d="M418.1,294.4 L418.3,293.9 L418.5,293.4 L418.7,292.9 L418.9,292.4 L419.1,291.9" stroke-width="14.52"/>
<path d="M419.1,291.9 L419.3,291.4 L419.5,290.9 L419.7,290.4 L419.9,289.9 L420.1,289.4" stroke-width="14.51"/>
<path d="M420.1,289.4 L420.3,288.9 L420.4,288.4 L420.6,287.9 L420.8,287.4 L421.0,286.9" stroke-width="14.51"/>
<path d="M421.0,286.9 L421.2,286.4 L421.4,285.9 L421.6,285.4 L421.8,284.9 L422.0,284.4" stroke-width="14.50"/>
<path d="M422.0,284.4 L422.2,283.8 L422.3,283.3 L422.5,282.8 L422.7,282.3 L422.9,281.8" stroke-width="14.50"/>
<path d="M422.9,281.8 L423.1,281.3 L423.3,280.8 L423.5,280.3 L423.7,279.8 L423.9,279.3" stroke-width="14.50"/>
<path d="M423.9,279.3 L424.1,278.8 L424.2,278.3 L424.4,277.8 L424.6,277.3 L424.8,276.8" stroke-width="14.50"/>
<path d="M424.8,276.8 L425.0,276.3 L425.2,275.8 L425.4,275.3 L425.6,274.8 L425.8,274.3" stroke-width="14.50"/>
<path d="M425.8,274.3 L426.0,273.8 L426.1,273.3 L426.3,272.7 L426.5,272.2 L426.7,271.7" stroke-width="14.50"/>
<path d="M426.7,271.7 L426.9,271.2 L427.1,270.7 L427.3,270.2 L427.5,269.7 L427.7,269.2" stroke-width="14.50"/>
<path d="M427.7,269.2 L427.9,268.7 L428.1,268.2 L428.2,267.7 L428.4,267.2 L428.6,266.7" stroke-width="14.50"/>
<path d="M428.6,266.7 L428.8,266.2 L429.0,265.7 L429.2,265.1 L429.4,264.6 L429.6,264.1" stroke-width="14.51"/>
<path d="M429.6,264.1 L429.8,263.6 L430.0,263.1 L430.2,262.6 L430.4,262.1 L430.6,261.6" stroke-width="14.51"/>
<path d="M430.6,261.6 L430.8,261.1 L431.0,260.6 L431.2,260.1 L431.4,259.6 L431.6,259.0" stroke-width="14.52"/>
<path d="M431.6,259.0 L431.8,258.5 L431.9,258.0 L432.1,257.5 L432.3,257.0 L432.5,256.5" stroke-width="14.53"/>
<path d="M432.5,256.5 L432.7,256.0 L432.9,255.5 L433.1,255.0 L433.3,254.5 L433.5,254.0" stroke-width="14.54"/>
<path d="M433.5,254.0 L433.7,253.4 L434.0,252.9 L434.2,252.4 L434.4,251.9 L434.6,251.4" stroke-width="14.55"/>
<path d="M434.6,251.4 L434.8,250.9 L435.0,250.4 L435.2,249.9 L435.4,249.4 L435.6,248.8" stroke-width="14.56"/>
<path d="M435.6,248.8 L435.8,248.3 L436.0,247.8 L436.2,247.3 L436.4,246.8 L436.6,246.3" stroke-width="14.57"/>
<path d="M436.6,246.3 L436.8,245.8 L437.1,245.3 L437.3,244.7 L437.5,244.2 L437.7,243.7" stroke-width="14.58"/>
<path d="M437.7,243.7 L437.9,243.2 L438.1,242.7 L438.3,242.2 L438.5,241.7 L438.8,241.1" stroke-width="14.60"/>
<path d="M438.8,241.1 L439.0,240.6 L439.2,240.1 L439.4,239.6 L439.6,239.1 L439.9,238.6" stroke-width="14.62"/>
<path d="M439.9,238.6 L440.1,238.1 L440.3,237.5 L440.5,237.0 L440.8,236.5 L441.0,236.0" stroke-width="14.65"/>
<path d="M441.0,236.0 L441.2,235.5 L441.5,235.0 L441.7,234.5 L441.9,234.0 L442.2,233.5" stroke-width="14.71"/>
<path d="M442.2,233.5 L442.4,233.0 L442.7,232.5 L442.9,232.0 L443.2,231.5 L443.4,231.0" stroke-width="14.78"/>
<path d="M443.4,231.0 L443.7,230.5 L443.9,230.0 L444.2,229.5 L444.5,229.0 L444.7,228.5" stroke-width="14.88"/>
<path d="M444.2,229.5 L444.5,229.0 L444.7,228.5 L445.0,228.0 L445.3,227.5 L445.6,227.0 L445.8,226.5 L446.1,226.1 L446.4,225.6 L446.7,225.1" stroke-width="15.00" stroke-linecap="butt"/>
<path d="M445.6,227.0 L445.8,226.5 L446.1,226.1 L446.4,225.6 L446.7,225.1 L447.0,224.6 L447.3,224.1 L447.6,223.7 L447.9,223.2 L448.3,222.8" stroke-width="15.15" stroke-linecap="butt"/>
<path d="M447.0,224.6 L447.3,224.1 L447.6,223.7 L447.9,223.2 L448.3,222.8 L448.6,222.3 L448.9,221.8 L449.2,221.4 L449.6,220.9 L449.9,220.5" stroke-width="15.33" stroke-linecap="butt"/>
<path d="M448.6,222.3 L448.9,221.8 L449.2,221.4 L449.6,220.9 L449.9,220.5 L450.3,220.0 L450.6,219.6 L451.0,219.2 L451.4,218.7 L451.7,218.3" stroke-width="15.53" stroke-linecap="butt"/>
<path d="M450.3,220.0 L450.6,219.6 L451.0,219.2 L451.4,218.7 L451.7,218.3 L452.1,217.9" stroke-width="15.71" stroke-linecap="butt"/>
<path d="M340.3,222.0 L339.9,222.4 L339.6,222.8 L339.2,223.3 L338.8,223.7 L338.4,224.1 L338.0,224.5 L337.7,225.0" stroke-width="15.82" stroke-linecap="butt"/>
<path d="M339.2,223.3 L338.8,223.7 L338.4,224.1 L338.0,224.5 L337.7,225.0 L337.3,225.4 L336.9,225.8 L336.6,226.2 L336.2,226.7 L335.9,227.1" stroke-width="15.70" stroke-linecap="butt"/>
<path d="M337.3,225.4 L336.9,225.8 L336.6,226.2 L336.2,226.7 L335.9,227.1 L335.5,227.5 L335.2,228.0 L334.8,228.4 L334.5,228.8 L334.2,229.3" stroke-width="15.58" stroke-linecap="butt"/>
<path d="M335.5,227.5 L335.2,228.0 L334.8,228.4 L334.5,228.8 L334.2,229.3 L333.8,229.7 L333.5,230.2 L333.2,230.6 L332.8,231.1 L332.5,231.5" stroke-width="15.46" stroke-linecap="butt"/>
<path d="M333.2,230.6 L332.8,231.1 L332.5,231.5 L332.2,232.0 L331.9,232.4 L331.5,232.9" stroke-width="15.36"/>
<path d="M331.5,232.9 L331.2,233.3 L330.9,233.8 L330.6,234.2 L330.3,234.7 L330.0,235.1" stroke-width="15.26"/>
<path d="M330.0,235.1 L329.7,235.6 L329.4,236.1 L329.1,236.5 L328.8,237.0 L328.5,237.5" stroke-width="15.16"/>
<path d="M328.5,237.5 L328.2,237.9 L328.0,238.4 L327.7,238.9 L327.4,239.3 L327.1,239.8" stroke-width="15.08"/>
<path d="M327.1,239.8 L326.8,240.3 L326.6,240.7 L326.3,241.2 L326.0,241.7 L325.7,242.2" stroke-width="15.00"/>
<path d="M325.7,242.2 L325.5,242.6 L325.2,243.1 L324.9,243.6 L324.7,244.1 L324.4,244.6" stroke-width="14.93"/>
<path d="M324.4,244.6 L324.2,245.0 L323.9,245.5 L323.7,246.0 L323.4,246.5 L323.2,247.0" stroke-width="14.86"/>
<path d="M323.2,247.0 L322.9,247.5 L322.7,247.9 L322.4,248.4 L322.2,248.9 L321.9,249.4" stroke-width="14.80"/>
<path d="M321.9,249.4 L321.7,249.9 L321.5,250.4 L321.2,250.9 L321.0,251.4 L320.8,251.9" stroke-width="14.75"/>
<path d="M320.8,251.9 L320.5,252.4 L320.3,252.9 L320.1,253.3 L319.8,253.8 L319.6,254.3" stroke-width="14.71"/>
<path d="M319.6,254.3 L319.4,254.8 L319.2,255.3 L318.9,255.8 L318.7,256.3 L318.5,256.8" stroke-width="14.67"/>
<path d="M318.5,256.8 L318.3,257.3 L318.1,257.8 L317.8,258.3 L317.6,258.8 L317.4,259.3" stroke-width="14.63"/>
<path d="M317.4,259.3 L317.2,259.8 L317.0,260.3 L316.8,260.8 L316.6,261.3 L316.4,261.8" stroke-width="14.60"/>
<path d="M316.4,261.8 L316.1,262.3 L315.9,262.8 L315.7,263.4 L315.5,263.9 L315.3,264.4" stroke-width="14.58"/>
<path d="M315.3,264.4 L315.1,264.9 L314.9,265.4 L314.7,265.9 L314.5,266.4 L314.3,266.9" stroke-width="14.56"/>
<path d="M314.3,266.9 L314.1,267.4 L313.9,267.9 L313.7,268.4 L313.5,268.9 L313.3,269.4" stroke-width="14.54"/>
<path d="M313.3,269.4 L313.1,269.9 L312.9,270.4 L312.7,270.9 L312.5,271.4 L312.3,271.9" stroke-width="14.53"/>
<path d="M312.3,271.9 L312.1,272.5 L311.9,273.0 L311.7,273.5 L311.5,274.0 L311.3,274.5" stroke-width="14.52"/>
<path d="M311.3,274.5 L311.1,275.0 L311.0,275.5 L310.8,276.0 L310.6,276.5 L310.4,277.0" stroke-width="14.52"/>
<path d="M310.4,277.0 L310.2,277.5 L310.0,278.0 L309.8,278.5 L309.6,279.0 L309.4,279.5" stroke-width="14.52"/>
<path d="M309.4,279.5 L309.2,280.0 L309.0,280.5 L308.8,281.0 L308.6,281.5 L308.4,282.1" stroke-width="14.52"/>
<path d="M308.4,282.1 L308.2,282.6 L308.0,283.1 L307.8,283.6 L307.6,284.1 L307.4,284.6" stroke-width="14.53"/>
<path d="M307.4,284.6 L307.2,285.1 L307.0,285.6 L306.8,286.1 L306.6,286.6 L306.4,287.1" stroke-width="14.55"/>
<path d="M306.4,287.1 L306.2,287.6 L306.0,288.1 L305.8,288.6 L305.6,289.0 L305.4,289.5" stroke-width="14.57"/>
<path d="M305.4,289.5 L305.2,290.0 L305.0,290.5 L304.8,291.0 L304.6,291.5 L304.4,292.0" stroke-width="14.59"/>
<path d="M304.4,292.0 L304.2,292.5 L304.0,293.0 L303.8,293.5 L303.6,294.0 L303.4,294.5" stroke-width="14.62"/>
<path d="M303.4,294.5 L303.1,295.0 L302.9,295.4 L302.7,295.9 L302.5,296.4 L302.3,296.9" stroke-width="14.65"/>
<path d="M302.3,296.9 L302.1,297.4 L301.9,297.9 L301.6,298.4 L301.4,298.8 L301.2,299.3" stroke-width="14.69"/>
<path d="M301.2,299.3 L301.0,299.8 L300.7,300.3 L300.5,300.8 L300.3,301.2 L300.1,301.7" stroke-width="14.73"/>
<path d="M300.1,301.7 L299.8,302.2 L299.6,302.7 L299.4,303.2 L299.1,303.6 L298.9,304.1" stroke-width="14.77"/>
<path d="M298.9,304.1 L298.7,304.6 L298.4,305.1 L298.2,305.5 L297.9,306.0 L297.7,306.5" stroke-width="14.82"/>
<path d="M297.7,306.5 L297.4,307.0 L297.2,307.4 L296.9,307.9 L296.7,308.4 L296.4,308.9" stroke-width="14.86"/>
<path d="M296.4,308.9 L296.2,309.3 L295.9,309.8 L295.7,310.3 L295.4,310.7 L295.2,311.2" stroke-width="14.91"/>
<path d="M295.2,311.2 L294.9,311.7 L294.6,312.2 L294.4,312.6 L294.1,313.1 L293.8,313.6" stroke-width="14.97"/>
<path d="M293.8,313.6 L293.6,314.1 L293.3,314.5 L293.0,315.0 L292.7,315.5 L292.4,315.9" stroke-width="15.02"/>
<path d="M292.4,315.9 L292.2,316.4 L291.9,316.9 L291.6,317.4 L291.3,317.8 L291.0,318.3" stroke-width="15.07"/>
<path d="M291.6,317.4 L291.3,317.8 L291.0,318.3 L290.7,318.8 L290.4,319.3 L290.1,319.7 L289.8,320.2 L289.5,320.7 L289.2,321.2 L288.9,321.6" stroke-width="15.13" stroke-linecap="butt"/>
<path d="M290.1,319.7 L289.8,320.2 L289.5,320.7 L289.2,321.2 L288.9,321.6 L288.6,322.1 L288.3,322.6 L288.0,323.1 L287.6,323.6 L287.3,324.0" stroke-width="15.19" stroke-linecap="butt"/>
<path d="M288.6,322.1 L288.3,322.6 L288.0,323.1 L287.6,323.6 L287.3,324.0 L287.0,324.5 L286.7,325.0 L286.4,325.5 L286.0,326.0 L285.7,326.5" stroke-width="15.24" stroke-linecap="butt"/>
<path d="M287.0,324.5 L286.7,325.0 L286.4,325.5 L286.0,326.0 L285.7,326.5 L285.4,326.9 L285.0,327.4 L284.7,327.9" stroke-width="15.30" stroke-linecap="butt"/>
</g>
<g fill="none" stroke-linecap="round" stroke-linejoin="round">
<path d="M164.6,332.7 L164.9,332.1 L165.2,331.5 L165.5,330.9 L165.8,330.3 L166.0,329.7 L166.3,329.1 L166.6,328.5 L166.8,327.8 L167.1,327.2" stroke="#aaaaaa" stroke-width="9.46" stroke-linecap="butt"/>
<path d="M166.0,329.7 L166.3,329.1 L166.6,328.5 L166.8,327.8 L167.1,327.2 L167.3,326.6 L167.6,326.0 L167.8,325.3 L168.1,324.7 L168.3,324.1" stroke="#ababab" stroke-width="9.37" stroke-linecap="butt"/>
<path d="M167.3,326.6 L167.6,326.0 L167.8,325.3 L168.1,324.7 L168.3,324.1 L168.6,323.5 L168.8,322.8 L169.0,322.2 L169.2,321.6 L169.4,321.0" stroke="#acacac" stroke-width="9.30" stroke-linecap="butt"/>
<path d="M168.6,323.5 L168.8,322.8 L169.0,322.2 L169.2,321.6 L169.4,321.0 L169.7,320.4 L169.9,319.8 L170.1,319.2 L170.3,318.6 L170.5,318.0" stroke="#adadad" stroke-width="9.24" stroke-linecap="butt"/>
<path d="M169.7,320.4 L169.9,319.8 L170.1,319.2 L170.3,318.6 L170.5,318.0 L170.7,317.4 L170.8,316.8 L171.0,316.3 L171.2,315.7 L171.4,315.1" stroke="#aeaeae" stroke-width="9.19" stroke-linecap="butt"/>
<path d="M170.7,317.4 L170.8,316.8 L171.0,316.3 L171.2,315.7 L171.4,315.1 L171.6,314.6 L171.7,314.0 L171.9,313.5 L172.1,312.9 L172.2,312.4" stroke="#aeaeae" stroke-width="9.15" stroke-linecap="butt"/>
<path d="M171.6,314.6 L171.7,314.0 L171.9,313.5 L172.1,312.9 L172.2,312.4 L172.4,311.8 L172.5,311.3 L172.7,310.7 L172.9,310.2 L173.0,309.7" stroke="#afafaf" stroke-width="9.12" stroke-linecap="butt"/>
<path d="M172.4,311.8 L172.5,311.3 L172.7,310.7 L172.9,310.2 L173.0,309.7 L173.2,309.1 L173.3,308.6 L173.4,308.1 L173.6,307.5 L173.7,307.0" stroke="#afafaf" stroke-width="9.09" stroke-linecap="butt"/>
<path d="M173.2,309.1 L173.3,308.6 L173.4,308.1 L173.6,307.5 L173.7,307.0 L173.9,306.5 L174.0,306.0 L174.2,305.5 L174.3,304.9 L174.4,304.4" stroke="#afafaf" stroke-width="9.08" stroke-linecap="butt"/>
<path d="M173.9,306.5 L174.0,306.0 L174.2,305.5 L174.3,304.9 L174.4,304.4 L174.6,303.9 L174.7,303.4 L174.8,302.9 L175.0,302.4 L175.1,301.9" stroke="#b0b0b0" stroke-width="9.07" stroke-linecap="butt"/>
<path d="M174.6,303.9 L174.7,303.4 L174.8,302.9 L175.0,302.4 L175.1,301.9 L175.2,301.4 L175.4,300.9 L175.5,300.4 L175.7,299.9 L175.8,299.4" stroke="#b0b0b0" stroke-width="9.08" stroke-linecap="butt"/>
<path d="M175.2,301.4 L175.4,300.9 L175.5,300.4 L175.7,299.9 L175.8,299.4 L175.9,298.9 L176.1,298.4 L176.2,297.9 L176.4,297.4 L176.5,296.9" stroke="#b0b0b0" stroke-width="9.09" stroke-linecap="butt"/>
<path d="M175.9,298.9 L176.1,298.4 L176.2,297.9 L176.4,297.4 L176.5,296.9 L176.7,296.4 L176.8,295.9 L176.9,295.4 L177.1,294.9 L177.3,294.4" stroke="#b0b0b0" stroke-width="9.12" stroke-linecap="butt"/>
<path d="M176.7,296.4 L176.8,295.9 L176.9,295.4 L177.1,294.9 L177.3,294.4 L177.4,293.9 L177.6,293.4 L177.7,292.9 L177.9,292.4 L178.0,291.9" stroke="#b0b0b0" stroke-width="9.15" stroke-linecap="butt"/>
<path d="M177.4,293.9 L177.6,293.4 L177.7,292.9 L177.9,292.4 L178.0,291.9 L178.2,291.4 L178.4,290.9 L178.5,290.4 L178.7,289.9 L178.9,289.4" stroke="#b0b0b0" stroke-width="9.18" stroke-linecap="butt"/>
<path d="M178.2,291.4 L178.4,290.9 L178.5,290.4 L178.7,289.9 L178.9,289.4 L179.0,288.9 L179.2,288.4 L179.4,287.9 L179.6,287.4 L179.7,286.9" stroke="#b0b0b0" stroke-width="9.22" stroke-linecap="butt"/>
<path d="M179.0,288.9 L179.2,288.4 L179.4,287.9 L179.6,287.4 L179.7,286.9 L179.9,286.4 L180.1,285.9 L180.3,285.4 L180.5,284.9 L180.7,284.4" stroke="#b0b0b0" stroke-width="9.26" stroke-linecap="butt"/>
<path d="M179.9,286.4 L180.1,285.9 L180.3,285.4 L180.5,284.9 L180.7,284.4 L180.8,283.9 L181.0,283.4 L181.2,282.9 L181.4,282.4 L181.6,281.9" stroke="#b0b0b0" stroke-width="9.29" stroke-linecap="butt"/>
<path d="M180.8,283.9 L181.0,283.4 L181.2,282.9 L181.4,282.4 L181.6,281.9 L181.8,281.4 L182.0,280.9 L182.2,280.4 L182.4,279.9 L182.6,279.4" stroke="#b0b0b0" stroke-width="9.32" stroke-linecap="butt"/>
<path d="M181.8,281.4 L182.0,280.9 L182.2,280.4 L182.4,279.9 L182.6,279.4 L182.8,278.9 L183.0,278.4 L183.2,277.9 L183.4,277.4 L183.6,276.9" stroke="#b0b0b0" stroke-width="9.36" stroke-linecap="butt"/>
<path d="M182.8,278.9 L183.0,278.4 L183.2,277.9 L183.4,277.4 L183.6,276.9 L183.8,276.4 L184.0,275.9 L184.2,275.4 L184.4,274.9 L184.7,274.4" stroke="#b0b0b0" stroke-width="9.39" stroke-linecap="butt"/>
<path d="M183.8,276.4 L184.0,275.9 L184.2,275.4 L184.4,274.9 L184.7,274.4 L184.9,273.9 L185.1,273.4 L185.3,272.9 L185.5,272.4 L185.7,271.9" stroke="#b0b0b0" stroke-width="9.42" stroke-linecap="butt"/>
<path d="M184.9,273.9 L185.1,273.4 L185.3,272.9 L185.5,272.4 L185.7,271.9 L186.0,271.4 L186.2,270.9 L186.4,270.4 L186.6,269.9 L186.9,269.4" stroke="#b0b0b0" stroke-width="9.45" stroke-linecap="butt"/>
<path d="M186.0,271.4 L186.2,270.9 L186.4,270.4 L186.6,269.9 L186.9,269.4 L187.1,268.9 L187.3,268.4 L187.5,267.9 L187.8,267.4 L188.0,266.9" stroke="#b0b0b0" stroke-width="9.48" stroke-linecap="butt"/>
<path d="M187.1,268.9 L187.3,268.4 L187.5,267.9 L187.8,267.4 L188.0,266.9 L188.2,266.5 L188.5,266.0 L188.7,265.5 L188.9,265.0 L189.2,264.5" stroke="#b0b0b0" stroke-width="9.51" stroke-linecap="butt"/>
<path d="M188.2,266.5 L188.5,266.0 L188.7,265.5 L188.9,265.0 L189.2,264.5 L189.4,264.0 L189.6,263.5 L189.9,263.0 L190.1,262.5 L190.4,262.0" stroke="#b0b0b0" stroke-width="9.54" stroke-linecap="butt"/>
<path d="M189.4,264.0 L189.6,263.5 L189.9,263.0 L190.1,262.5 L190.4,262.0 L190.6,261.5 L190.8,261.0 L191.1,260.5 L191.3,260.0 L191.6,259.5" stroke="#b0b0b0" stroke-width="9.57" stroke-linecap="butt"/>
<path d="M190.6,261.5 L190.8,261.0 L191.1,260.5 L191.3,260.0 L191.6,259.5 L191.8,259.0 L192.1,258.5 L192.3,258.1 L192.6,257.6 L192.8,257.1" stroke="#b0b0b0" stroke-width="9.60" stroke-linecap="butt"/>
<path d="M191.8,259.0 L192.1,258.5 L192.3,258.1 L192.6,257.6 L192.8,257.1 L193.1,256.6 L193.3,256.1 L193.6,255.6 L193.8,255.1 L194.1,254.6" stroke="#b0b0b0" stroke-width="9.62" stroke-linecap="butt"/>
<path d="M193.1,256.6 L193.3,256.1 L193.6,255.6 L193.8,255.1 L194.1,254.6 L194.3,254.1 L194.6,253.6 L194.8,253.2 L195.1,252.7 L195.3,252.2" stroke="#b0b0b0" stroke-width="9.65" stroke-linecap="butt"/>
<path d="M194.3,254.1 L194.6,253.6 L194.8,253.2 L195.1,252.7 L195.3,252.2 L195.6,251.7 L195.9,251.2 L196.1,250.7 L196.4,250.2 L196.6,249.8" stroke="#b0b0b0" stroke-width="9.67" stroke-linecap="butt"/>
<path d="M195.6,251.7 L195.9,251.2 L196.1,250.7 L196.4,250.2 L196.6,249.8 L196.9,249.3 L197.2,248.8 L197.4,248.3 L197.7,247.8 L197.9,247.3" stroke="#b0b0b0" stroke-width="9.69" stroke-linecap="butt"/>
<path d="M196.9,249.3 L197.2,248.8 L197.4,248.3 L197.7,247.8 L197.9,247.3 L198.2,246.9 L198.5,246.4 L198.7,245.9 L199.0,245.4 L199.3,244.9" stroke="#b0b0b0" stroke-width="9.72" stroke-linecap="butt"/>
<path d="M198.2,246.9 L198.5,246.4 L198.7,245.9 L199.0,245.4 L199.3,244.9 L199.5,244.5 L199.8,244.0 L200.1,243.5 L200.3,243.0 L200.6,242.5" stroke="#b0b0b0" stroke-width="9.75" stroke-linecap="butt"/>
<path d="M199.5,244.5 L199.8,244.0 L200.1,243.5 L200.3,243.0 L200.6,242.5 L200.9,242.1 L201.2,241.6 L201.4,241.1 L201.7,240.6 L202.0,240.2" stroke="#b0b0b0" stroke-width="9.79" stroke-linecap="butt"/>
<path d="M200.9,242.1 L201.2,241.6 L201.4,241.1 L201.7,240.6 L202.0,240.2 L202.3,239.7 L202.5,239.2 L202.8,238.8 L203.1,238.3 L203.4,237.8" stroke="#b0b0b0" stroke-width="9.84" stroke-linecap="butt"/>
<path d="M202.3,239.7 L202.5,239.2 L202.8,238.8 L203.1,238.3 L203.4,237.8 L203.7,237.4 L204.0,236.9 L204.3,236.4 L204.5,236.0 L204.8,235.5" stroke="#b0b0b0" stroke-width="9.90" stroke-linecap="butt"/>
<path d="M203.7,237.4 L204.0,236.9 L204.3,236.4 L204.5,236.0 L204.8,235.5 L205.1,235.1 L205.4,234.6 L205.7,234.2 L206.0,233.7 L206.3,233.3" stroke="#b0b0b0" stroke-width="9.98" stroke-linecap="butt"/>
<path d="M205.1,235.1 L205.4,234.6 L205.7,234.2 L206.0,233.7 L206.3,233.3 L206.6,232.8 L206.9,232.4 L207.3,231.9 L207.6,231.5 L207.9,231.0" stroke="#b0b0b0" stroke-width="10.06" stroke-linecap="butt"/>
<path d="M206.6,232.8 L206.9,232.4 L207.3,231.9 L207.6,231.5 L207.9,231.0 L208.2,230.6 L208.5,230.1 L208.8,229.7 L209.2,229.3 L209.5,228.8" stroke="#b0b0b0" stroke-width="10.16" stroke-linecap="butt"/>
<path d="M208.2,230.6 L208.5,230.1 L208.8,229.7 L209.2,229.3 L209.5,228.8 L209.8,228.4 L210.2,228.0 L210.5,227.5 L210.8,227.1 L211.2,226.7" stroke="#afafaf" stroke-width="10.28" stroke-linecap="butt"/>
<path d="M209.8,228.4 L210.2,228.0 L210.5,227.5 L210.8,227.1 L211.2,226.7 L211.5,226.3 L211.9,225.9 L212.2,225.4 L212.6,225.0 L212.9,224.6" stroke="#afafaf" stroke-width="10.40" stroke-linecap="butt"/>
<path d="M211.5,226.3 L211.9,225.9 L212.2,225.4 L212.6,225.0 L212.9,224.6 L213.3,224.2 L213.6,223.8 L214.0,223.4 L214.4,223.0 L214.8,222.6" stroke="#afafaf" stroke-width="10.54" stroke-linecap="butt"/>
<path d="M213.3,224.2 L213.6,223.8 L214.0,223.4 L214.4,223.0 L214.8,222.6 L215.1,222.2 L215.5,221.8 L215.9,221.4 L216.3,221.0 L216.7,220.6" stroke="#aeaeae" stroke-width="10.69" stroke-linecap="butt"/>
<path d="M215.1,222.2 L215.5,221.8 L215.9,221.4 L216.3,221.0 L216.7,220.6 L217.1,220.2 L217.5,219.9 L217.9,219.5 L218.3,219.1 L218.7,218.7" stroke="#aeaeae" stroke-width="10.85" stroke-linecap="butt"/>
<path d="M217.1,220.2 L217.5,219.9 L217.9,219.5 L218.3,219.1 L218.7,218.7 L219.1,218.4 L219.5,218.0 L219.9,217.6 L220.3,217.3 L220.8,216.9" stroke="#adadad" stroke-width="11.02" stroke-linecap="butt"/>
<path d="M219.1,218.4 L219.5,218.0 L219.9,217.6 L220.3,217.3 L220.8,216.9 L221.2,216.6 L221.6,216.2 L222.1,215.9 L222.5,215.5 L223.0,215.2" stroke="#acacac" stroke-width="11.20" stroke-linecap="butt"/>
<path d="M221.2,216.6 L221.6,216.2 L222.1,215.9 L222.5,215.5 L223.0,215.2 L223.4,214.8 L223.9,214.5 L224.4,214.2 L224.8,213.9 L225.3,213.5" stroke="#ababab" stroke-width="11.38" stroke-linecap="butt"/>
<path d="M223.4,214.8 L223.9,214.5 L224.4,214.2 L224.8,213.9 L225.3,213.5 L225.8,213.2 L226.2,212.9 L226.7,212.6 L227.2,212.3 L227.7,212.0" stroke="#aaaaaa" stroke-width="11.59" stroke-linecap="butt"/>
<path d="M225.8,213.2 L226.2,212.9 L226.7,212.6 L227.2,212.3 L227.7,212.0 L228.2,211.8 L228.7,211.5 L229.2,211.2 L229.6,211.0 L230.1,210.7" stroke="#a8a8a8" stroke-width="11.82" stroke-linecap="butt"/>
<path d="M390.3,346.7 L390.7,346.3 L391.2,345.9 L391.6,345.5 L392.0,345.1 L392.4,344.7 L392.8,344.2 L393.2,343.8 L393.6,343.4 L394.0,342.9" stroke="#ababab" stroke-width="10.76" stroke-linecap="butt"/>
<path d="M392.4,344.7 L392.8,344.2 L393.2,343.8 L393.6,343.4 L394.0,342.9 L394.4,342.5 L394.8,342.1 L395.1,341.6 L395.5,341.2 L395.9,340.7" stroke="#acacac" stroke-width="10.55" stroke-linecap="butt"/>
<path d="M394.4,342.5 L394.8,342.1 L395.1,341.6 L395.5,341.2 L395.9,340.7 L396.2,340.3 L396.6,339.8 L397.0,339.3 L397.3,338.9 L397.6,338.4" stroke="#adadad" stroke-width="10.35" stroke-linecap="butt"/>
<path d="M396.2,340.3 L396.6,339.8 L397.0,339.3 L397.3,338.9 L397.6,338.4 L398.0,337.9 L398.3,337.5 L398.6,337.0 L398.9,336.5 L399.3,336.1" stroke="#adadad" stroke-width="10.16" stroke-linecap="butt"/>
<path d="M398.0,337.9 L398.3,337.5 L398.6,337.0 L398.9,336.5 L399.3,336.1 L399.6,335.6 L399.9,335.1 L400.2,334.6 L400.5,334.2 L400.8,333.7" stroke="#aeaeae" stroke-width="10.00" stroke-linecap="butt"/>
<path d="M399.6,335.6 L399.9,335.1 L400.2,334.6 L400.5,334.2 L400.8,333.7 L401.0,333.2 L401.3,332.7 L401.6,332.2 L401.9,331.7 L402.2,331.3" stroke="#aeaeae" stroke-width="9.85" stroke-linecap="butt"/>
<path d="M401.0,333.2 L401.3,332.7 L401.6,332.2 L401.9,331.7 L402.2,331.3 L402.4,330.8 L402.7,330.3 L402.9,329.8 L403.2,329.3 L403.5,328.8" stroke="#afafaf" stroke-width="9.73" stroke-linecap="butt"/>
<path d="M402.4,330.8 L402.7,330.3 L402.9,329.8 L403.2,329.3 L403.5,328.8 L403.7,328.3 L404.0,327.8 L404.2,327.3 L404.4,326.9 L404.7,326.4" stroke="#afafaf" stroke-width="9.64" stroke-linecap="butt"/>
<path d="M403.7,328.3 L404.0,327.8 L404.2,327.3 L404.4,326.9 L404.7,326.4 L404.9,325.9 L405.2,325.4 L405.4,324.9 L405.6,324.4 L405.9,323.9" stroke="#afafaf" stroke-width="9.56" stroke-linecap="butt"/>
<path d="M404.9,325.9 L405.2,325.4 L405.4,324.9 L405.6,324.4 L405.9,323.9 L406.1,323.4 L406.3,322.9 L406.5,322.4 L406.8,321.9 L407.0,321.4" stroke="#b0b0b0" stroke-width="9.51" stroke-linecap="butt"/>
<path d="M406.1,323.4 L406.3,322.9 L406.5,322.4 L406.8,321.9 L407.0,321.4 L407.2,320.9 L407.4,320.4 L407.7,319.9 L407.9,319.4 L408.1,318.9" stroke="#b0b0b0" stroke-width="9.47" stroke-linecap="butt"/>
<path d="M407.2,320.9 L407.4,320.4 L407.7,319.9 L407.9,319.4 L408.1,318.9 L408.3,318.4 L408.5,317.9 L408.8,317.4 L409.0,316.9 L409.2,316.4" stroke="#b0b0b0" stroke-width="9.45" stroke-linecap="butt"/>
<path d="M408.3,318.4 L408.5,317.9 L408.8,317.4 L409.0,316.9 L409.2,316.4 L409.4,315.9 L409.6,315.4 L409.8,314.9 L410.0,314.4 L410.3,313.9" stroke="#b0b0b0" stroke-width="9.43" stroke-linecap="butt"/>
<path d="M409.4,315.9 L409.6,315.4 L409.8,314.9 L410.0,314.4 L410.3,313.9 L410.5,313.4 L410.7,312.9 L410.9,312.4 L411.1,311.9 L411.3,311.4" stroke="#b0b0b0" stroke-width="9.41" stroke-linecap="butt"/>
<path d="M410.5,313.4 L410.7,312.9 L410.9,312.4 L411.1,311.9 L411.3,311.4 L411.5,310.9 L411.7,310.4 L411.9,309.9 L412.1,309.4 L412.4,308.9" stroke="#b0b0b0" stroke-width="9.40" stroke-linecap="butt"/>
<path d="M411.5,310.9 L411.7,310.4 L411.9,309.9 L412.1,309.4 L412.4,308.9 L412.6,308.4 L412.8,307.9 L413.0,307.4 L413.2,306.9 L413.4,306.4" stroke="#b0b0b0" stroke-width="9.38" stroke-linecap="butt"/>
<path d="M412.6,308.4 L412.8,307.9 L413.0,307.4 L413.2,306.9 L413.4,306.4 L413.6,305.9 L413.8,305.4 L414.0,304.9 L414.2,304.4 L414.4,303.9" stroke="#b0b0b0" stroke-width="9.37" stroke-linecap="butt"/>
<path d="M413.6,305.9 L413.8,305.4 L414.0,304.9 L414.2,304.4 L414.4,303.9 L414.6,303.4 L414.8,302.9 L415.0,302.4 L415.2,301.9 L415.4,301.4" stroke="#b0b0b0" stroke-width="9.36" stroke-linecap="butt"/>
<path d="M414.6,303.4 L414.8,302.9 L415.0,302.4 L415.2,301.9 L415.4,301.4 L415.6,300.9 L415.8,300.4 L416.0,299.9 L416.2,299.4 L416.4,298.9" stroke="#b0b0b0" stroke-width="9.34" stroke-linecap="butt"/>
<path d="M415.6,300.9 L415.8,300.4 L416.0,299.9 L416.2,299.4 L416.4,298.9 L416.6,298.4 L416.8,297.9 L417.0,297.4 L417.2,296.9 L417.4,296.4" stroke="#b0b0b0" stroke-width="9.33" stroke-linecap="butt"/>
<path d="M416.6,298.4 L416.8,297.9 L417.0,297.4 L417.2,296.9 L417.4,296.4 L417.6,295.9 L417.7,295.4 L417.9,294.9 L418.1,294.4 L418.3,293.9" stroke="#b0b0b0" stroke-width="9.33" stroke-linecap="butt"/>
<path d="M417.6,295.9 L417.7,295.4 L417.9,294.9 L418.1,294.4 L418.3,293.9 L418.5,293.4 L418.7,292.9 L418.9,292.4 L419.1,291.9 L419.3,291.4" stroke="#b0b0b0" stroke-width="9.32" stroke-linecap="butt"/>
<path d="M418.5,293.4 L418.7,292.9 L418.9,292.4 L419.1,291.9 L419.3,291.4 L419.5,290.9 L419.7,290.4 L419.9,289.9 L420.1,289.4 L420.3,288.9" stroke="#b0b0b0" stroke-width="9.31" stroke-linecap="butt"/>
<path d="M419.5,290.9 L419.7,290.4 L419.9,289.9 L420.1,289.4 L420.3,288.9 L420.4,288.4 L420.6,287.9 L420.8,287.4 L421.0,286.9 L421.2,286.4" stroke="#b0b0b0" stroke-width="9.31" stroke-linecap="butt"/>
<path d="M420.4,288.4 L420.6,287.9 L420.8,287.4 L421.0,286.9 L421.2,286.4 L421.4,285.9 L421.6,285.4 L421.8,284.9 L422.0,284.4 L422.2,283.8" stroke="#b0b0b0" stroke-width="9.30" stroke-linecap="butt"/>
<path d="M421.4,285.9 L421.6,285.4 L421.8,284.9 L422.0,284.4 L422.2,283.8 L422.3,283.3 L422.5,282.8 L422.7,282.3 L422.9,281.8 L423.1,281.3" stroke="#b0b0b0" stroke-width="9.30" stroke-linecap="butt"/>
<path d="M422.3,283.3 L422.5,282.8 L422.7,282.3 L422.9,281.8 L423.1,281.3 L423.3,280.8 L423.5,280.3 L423.7,279.8 L423.9,279.3 L424.1,278.8" stroke="#b0b0b0" stroke-width="9.30" stroke-linecap="butt"/>
<path d="M423.3,280.8 L423.5,280.3 L423.7,279.8 L423.9,279.3 L424.1,278.8 L424.2,278.3 L424.4,277.8 L424.6,277.3 L424.8,276.8 L425.0,276.3" stroke="#b0b0b0" stroke-width="9.30" stroke-linecap="butt"/>
<path d="M424.2,278.3 L424.4,277.8 L424.6,277.3 L424.8,276.8 L425.0,276.3 L425.2,275.8 L425.4,275.3 L425.6,274.8 L425.8,274.3 L426.0,273.8" stroke="#b0b0b0" stroke-width="9.30" stroke-linecap="butt"/>
<path d="M425.2,275.8 L425.4,275.3 L425.6,274.8 L425.8,274.3 L426.0,273.8 L426.1,273.3 L426.3,272.7 L426.5,272.2 L426.7,271.7 L426.9,271.2" stroke="#b0b0b0" stroke-width="9.30" stroke-linecap="butt"/>
<path d="M426.1,273.3 L426.3,272.7 L426.5,272.2 L426.7,271.7 L426.9,271.2 L427.1,270.7 L427.3,270.2 L427.5,269.7 L427.7,269.2 L427.9,268.7" stroke="#b0b0b0" stroke-width="9.30" stroke-linecap="butt"/>
<path d="M427.1,270.7 L427.3,270.2 L427.5,269.7 L427.7,269.2 L427.9,268.7 L428.1,268.2 L428.2,267.7 L428.4,267.2 L428.6,266.7 L428.8,266.2" stroke="#b0b0b0" stroke-width="9.30" stroke-linecap="butt"/>
<path d="M428.1,268.2 L428.2,267.7 L428.4,267.2 L428.6,266.7 L428.8,266.2 L429.0,265.7 L429.2,265.1 L429.4,264.6 L429.6,264.1 L429.8,263.6" stroke="#b0b0b0" stroke-width="9.31" stroke-linecap="butt"/>
<path d="M429.0,265.7 L429.2,265.1 L429.4,264.6 L429.6,264.1 L429.8,263.6 L430.0,263.1 L430.2,262.6 L430.4,262.1 L430.6,261.6 L430.8,261.1" stroke="#b0b0b0" stroke-width="9.31" stroke-linecap="butt"/>
<path d="M430.0,263.1 L430.2,262.6 L430.4,262.1 L430.6,261.6 L430.8,261.1 L431.0,260.6 L431.2,260.1 L431.4,259.6 L431.6,259.0 L431.8,258.5" stroke="#b0b0b0" stroke-width="9.32" stroke-linecap="butt"/>
<path d="M431.0,260.6 L431.2,260.1 L431.4,259.6 L431.6,259.0 L431.8,258.5 L431.9,258.0 L432.1,257.5 L432.3,257.0 L432.5,256.5 L432.7,256.0" stroke="#b0b0b0" stroke-width="9.32" stroke-linecap="butt"/>
<path d="M431.9,258.0 L432.1,257.5 L432.3,257.0 L432.5,256.5 L432.7,256.0 L432.9,255.5 L433.1,255.0 L433.3,254.5 L433.5,254.0 L433.7,253.4" stroke="#b0b0b0" stroke-width="9.33" stroke-linecap="butt"/>
<path d="M432.9,255.5 L433.1,255.0 L433.3,254.5 L433.5,254.0 L433.7,253.4 L434.0,252.9 L434.2,252.4 L434.4,251.9 L434.6,251.4 L434.8,250.9" stroke="#b0b0b0" stroke-width="9.34" stroke-linecap="butt"/>
<path d="M434.0,252.9 L434.2,252.4 L434.4,251.9 L434.6,251.4 L434.8,250.9 L435.0,250.4 L435.2,249.9 L435.4,249.4 L435.6,248.8 L435.8,248.3" stroke="#b0b0b0" stroke-width="9.35" stroke-linecap="butt"/>
<path d="M435.0,250.4 L435.2,249.9 L435.4,249.4 L435.6,248.8 L435.8,248.3 L436.0,247.8 L436.2,247.3 L436.4,246.8 L436.6,246.3 L436.8,245.8" stroke="#b0b0b0" stroke-width="9.37" stroke-linecap="butt"/>
<path d="M436.0,247.8 L436.2,247.3 L436.4,246.8 L436.6,246.3 L436.8,245.8 L437.1,245.3 L437.3,244.7 L437.5,244.2 L437.7,243.7 L437.9,243.2" stroke="#b0b0b0" stroke-width="9.38" stroke-linecap="butt"/>
<path d="M437.1,245.3 L437.3,244.7 L437.5,244.2 L437.7,243.7 L437.9,243.2 L438.1,242.7 L438.3,242.2 L438.5,241.7 L438.8,241.1 L439.0,240.6" stroke="#b0b0b0" stroke-width="9.39" stroke-linecap="butt"/>
<path d="M438.1,242.7 L438.3,242.2 L438.5,241.7 L438.8,241.1 L439.0,240.6 L439.2,240.1 L439.4,239.6 L439.6,239.1 L439.9,238.6 L440.1,238.1" stroke="#b0b0b0" stroke-width="9.41" stroke-linecap="butt"/>
<path d="M439.2,240.1 L439.4,239.6 L439.6,239.1 L439.9,238.6 L440.1,238.1 L440.3,237.5 L440.5,237.0 L440.8,236.5 L441.0,236.0 L441.2,235.5" stroke="#b0b0b0" stroke-width="9.45" stroke-linecap="butt"/>
<path d="M440.3,237.5 L440.5,237.0 L440.8,236.5 L441.0,236.0 L441.2,235.5 L441.5,235.0 L441.7,234.5 L441.9,234.0 L442.2,233.5 L442.4,233.0" stroke="#b0b0b0" stroke-width="9.50" stroke-linecap="butt"/>
<path d="M441.5,235.0 L441.7,234.5 L441.9,234.0 L442.2,233.5 L442.4,233.0 L442.7,232.5 L442.9,232.0 L443.2,231.5 L443.4,231.0 L443.7,230.5" stroke="#afafaf" stroke-width="9.57" stroke-linecap="butt"/>
<path d="M442.7,232.5 L442.9,232.0 L443.2,231.5 L443.4,231.0 L443.7,230.5 L443.9,230.0 L444.2,229.5 L444.5,229.0 L444.7,228.5 L445.0,228.0" stroke="#afafaf" stroke-width="9.66" stroke-linecap="butt"/>
<path d="M443.9,230.0 L444.2,229.5 L444.5,229.0 L444.7,228.5 L445.0,228.0 L445.3,227.5 L445.6,227.0 L445.8,226.5 L446.1,226.1 L446.4,225.6" stroke="#afafaf" stroke-width="9.78" stroke-linecap="butt"/>
<path d="M445.3,227.5 L445.6,227.0 L445.8,226.5 L446.1,226.1 L446.4,225.6 L446.7,225.1 L447.0,224.6 L447.3,224.1 L447.6,223.7 L447.9,223.2" stroke="#aeaeae" stroke-width="9.92" stroke-linecap="butt"/>
<path d="M446.7,225.1 L447.0,224.6 L447.3,224.1 L447.6,223.7 L447.9,223.2 L448.3,222.8 L448.6,222.3 L448.9,221.8 L449.2,221.4 L449.6,220.9" stroke="#adadad" stroke-width="10.09" stroke-linecap="butt"/>
<path d="M448.3,222.8 L448.6,222.3 L448.9,221.8 L449.2,221.4 L449.6,220.9 L449.9,220.5 L450.3,220.0 L450.6,219.6 L451.0,219.2 L451.4,218.7" stroke="#adadad" stroke-width="10.29" stroke-linecap="butt"/>
<path d="M449.9,220.5 L450.3,220.0 L450.6,219.6 L451.0,219.2 L451.4,218.7 L451.7,218.3 L452.1,217.9 L452.5,217.4 L452.9,217.0 L453.3,216.6" stroke="#acacac" stroke-width="10.51" stroke-linecap="butt"/>
<path d="M451.7,218.3 L452.1,217.9 L452.5,217.4 L452.9,217.0 L453.3,216.6 L453.7,216.2 L454.1,215.8 L454.5,215.4 L454.9,215.0 L455.3,214.6" stroke="#aaaaaa" stroke-width="10.76" stroke-linecap="butt"/>
<path d="M453.7,216.2 L454.1,215.8 L454.5,215.4 L454.9,215.0 L455.3,214.6 L455.8,214.2 L456.2,213.9 L456.6,213.5 L457.1,213.2 L457.5,212.8" stroke="#a9a9a9" stroke-width="11.05" stroke-linecap="butt"/>
<path d="M455.8,214.2 L456.2,213.9 L456.6,213.5 L457.1,213.2 L457.5,212.8 L457.9,212.5 L458.4,212.2 L458.8,211.9 L459.3,211.6 L459.7,211.3" stroke="#a8a8a8" stroke-width="11.40" stroke-linecap="butt"/>
<path d="M347.4,215.4 L347.0,215.8 L346.5,216.1 L346.1,216.5 L345.7,216.9 L345.2,217.3 L344.8,217.6 L344.4,218.0 L344.0,218.4 L343.6,218.8" stroke="#aaaaaa" stroke-width="11.08" stroke-linecap="butt"/>
<path d="M345.2,217.3 L344.8,217.6 L344.4,218.0 L344.0,218.4 L343.6,218.8 L343.1,219.2 L342.7,219.6 L342.3,220.0 L341.9,220.4 L341.5,220.8" stroke="#ababab" stroke-width="10.91" stroke-linecap="butt"/>
<path d="M343.1,219.2 L342.7,219.6 L342.3,220.0 L341.9,220.4 L341.5,220.8 L341.1,221.2 L340.7,221.6 L340.3,222.0 L339.9,222.4 L339.6,222.8" stroke="#acacac" stroke-width="10.76" stroke-linecap="butt"/>
<path d="M341.1,221.2 L340.7,221.6 L340.3,222.0 L339.9,222.4 L339.6,222.8 L339.2,223.3 L338.8,223.7 L338.4,224.1 L338.0,224.5 L337.7,225.0" stroke="#adadad" stroke-width="10.62" stroke-linecap="butt"/>
<path d="M339.2,223.3 L338.8,223.7 L338.4,224.1 L338.0,224.5 L337.7,225.0 L337.3,225.4 L336.9,225.8 L336.6,226.2 L336.2,226.7 L335.9,227.1" stroke="#adadad" stroke-width="10.50" stroke-linecap="butt"/>
<path d="M337.3,225.4 L336.9,225.8 L336.6,226.2 L336.2,226.7 L335.9,227.1 L335.5,227.5 L335.2,228.0 L334.8,228.4 L334.5,228.8 L334.2,229.3" stroke="#aeaeae" stroke-width="10.38" stroke-linecap="butt"/>
<path d="M335.5,227.5 L335.2,228.0 L334.8,228.4 L334.5,228.8 L334.2,229.3 L333.8,229.7 L333.5,230.2 L333.2,230.6 L332.8,231.1 L332.5,231.5" stroke="#afafaf" stroke-width="10.26" stroke-linecap="butt"/>
<path d="M333.8,229.7 L333.5,230.2 L333.2,230.6 L332.8,231.1 L332.5,231.5 L332.2,232.0 L331.9,232.4 L331.5,232.9 L331.2,233.3 L330.9,233.8" stroke="#afafaf" stroke-width="10.16" stroke-linecap="butt"/>
<path d="M332.2,232.0 L331.9,232.4 L331.5,232.9 L331.2,233.3 L330.9,233.8 L330.6,234.2 L330.3,234.7 L330.0,235.1 L329.7,235.6 L329.4,236.1" stroke="#afafaf" stroke-width="10.06" stroke-linecap="butt"/>
<path d="M330.6,234.2 L330.3,234.7 L330.0,235.1 L329.7,235.6 L329.4,236.1 L329.1,236.5 L328.8,237.0 L328.5,237.5 L328.2,237.9 L328.0,238.4" stroke="#b0b0b0" stroke-width="9.96" stroke-linecap="butt"/>
<path d="M329.1,236.5 L328.8,237.0 L328.5,237.5 L328.2,237.9 L328.0,238.4 L327.7,238.9 L327.4,239.3 L327.1,239.8 L326.8,240.3 L326.6,240.7" stroke="#b0b0b0" stroke-width="9.88" stroke-linecap="butt"/>
<path d="M327.7,238.9 L327.4,239.3 L327.1,239.8 L326.8,240.3 L326.6,240.7 L326.3,241.2 L326.0,241.7 L325.7,242.2 L325.5,242.6 L325.2,243.1" stroke="#b0b0b0" stroke-width="9.80" stroke-linecap="butt"/>
<path d="M326.3,241.2 L326.0,241.7 L325.7,242.2 L325.5,242.6 L325.2,243.1 L324.9,243.6 L324.7,244.1 L324.4,244.6 L324.2,245.0 L323.9,245.5" stroke="#b0b0b0" stroke-width="9.73" stroke-linecap="butt"/>
<path d="M324.9,243.6 L324.7,244.1 L324.4,244.6 L324.2,245.0 L323.9,245.5 L323.7,246.0 L323.4,246.5 L323.2,247.0 L322.9,247.5 L322.7,247.9" stroke="#b0b0b0" stroke-width="9.66" stroke-linecap="butt"/>
<path d="M323.7,246.0 L323.4,246.5 L323.2,247.0 L322.9,247.5 L322.7,247.9 L322.4,248.4 L322.2,248.9 L321.9,249.4 L321.7,249.9 L321.5,250.4" stroke="#b0b0b0" stroke-width="9.60" stroke-linecap="butt"/>
<path d="M322.4,248.4 L322.2,248.9 L321.9,249.4 L321.7,249.9 L321.5,250.4 L321.2,250.9 L321.0,251.4 L320.8,251.9 L320.5,252.4 L320.3,252.9" stroke="#b0b0b0" stroke-width="9.55" stroke-linecap="butt"/>
<path d="M321.2,250.9 L321.0,251.4 L320.8,251.9 L320.5,252.4 L320.3,252.9 L320.1,253.3 L319.8,253.8 L319.6,254.3 L319.4,254.8 L319.2,255.3" stroke="#b0b0b0" stroke-width="9.51" stroke-linecap="butt"/>
<path d="M320.1,253.3 L319.8,253.8 L319.6,254.3 L319.4,254.8 L319.2,255.3 L318.9,255.8 L318.7,256.3 L318.5,256.8 L318.3,257.3 L318.1,257.8" stroke="#b0b0b0" stroke-width="9.47" stroke-linecap="butt"/>
<path d="M318.9,255.8 L318.7,256.3 L318.5,256.8 L318.3,257.3 L318.1,257.8 L317.8,258.3 L317.6,258.8 L317.4,259.3 L317.2,259.8 L317.0,260.3" stroke="#b0b0b0" stroke-width="9.43" stroke-linecap="butt"/>
<path d="M317.8,258.3 L317.6,258.8 L317.4,259.3 L317.2,259.8 L317.0,260.3 L316.8,260.8 L316.6,261.3 L316.4,261.8 L316.1,262.3 L315.9,262.8" stroke="#b0b0b0" stroke-width="9.40" stroke-linecap="butt"/>
<path d="M316.8,260.8 L316.6,261.3 L316.4,261.8 L316.1,262.3 L315.9,262.8 L315.7,263.4 L315.5,263.9 L315.3,264.4 L315.1,264.9 L314.9,265.4" stroke="#b0b0b0" stroke-width="9.38" stroke-linecap="butt"/>
<path d="M315.7,263.4 L315.5,263.9 L315.3,264.4 L315.1,264.9 L314.9,265.4 L314.7,265.9 L314.5,266.4 L314.3,266.9 L314.1,267.4 L313.9,267.9" stroke="#b0b0b0" stroke-width="9.36" stroke-linecap="butt"/>
<path d="M314.7,265.9 L314.5,266.4 L314.3,266.9 L314.1,267.4 L313.9,267.9 L313.7,268.4 L313.5,268.9 L313.3,269.4 L313.1,269.9 L312.9,270.4" stroke="#b0b0b0" stroke-width="9.34" stroke-linecap="butt"/>
<path d="M313.7,268.4 L313.5,268.9 L313.3,269.4 L313.1,269.9 L312.9,270.4 L312.7,270.9 L312.5,271.4 L312.3,271.9 L312.1,272.5 L311.9,273.0" stroke="#b0b0b0" stroke-width="9.33" stroke-linecap="butt"/>
<path d="M312.7,270.9 L312.5,271.4 L312.3,271.9 L312.1,272.5 L311.9,273.0 L311.7,273.5 L311.5,274.0 L311.3,274.5 L311.1,275.0 L311.0,275.5" stroke="#b0b0b0" stroke-width="9.32" stroke-linecap="butt"/>
<path d="M311.7,273.5 L311.5,274.0 L311.3,274.5 L311.1,275.0 L311.0,275.5 L310.8,276.0 L310.6,276.5 L310.4,277.0 L310.2,277.5 L310.0,278.0" stroke="#b0b0b0" stroke-width="9.32" stroke-linecap="butt"/>
<path d="M310.8,276.0 L310.6,276.5 L310.4,277.0 L310.2,277.5 L310.0,278.0 L309.8,278.5 L309.6,279.0 L309.4,279.5 L309.2,280.0 L309.0,280.5" stroke="#b0b0b0" stroke-width="9.32" stroke-linecap="butt"/>
<path d="M309.8,278.5 L309.6,279.0 L309.4,279.5 L309.2,280.0 L309.0,280.5 L308.8,281.0 L308.6,281.5 L308.4,282.1 L308.2,282.6 L308.0,283.1" stroke="#b0b0b0" stroke-width="9.32" stroke-linecap="butt"/>
<path d="M308.8,281.0 L308.6,281.5 L308.4,282.1 L308.2,282.6 L308.0,283.1 L307.8,283.6 L307.6,284.1 L307.4,284.6 L307.2,285.1 L307.0,285.6" stroke="#b0b0b0" stroke-width="9.33" stroke-linecap="butt"/>
<path d="M307.8,283.6 L307.6,284.1 L307.4,284.6 L307.2,285.1 L307.0,285.6 L306.8,286.1 L306.6,286.6 L306.4,287.1 L306.2,287.6 L306.0,288.1" stroke="#b0b0b0" stroke-width="9.35" stroke-linecap="butt"/>
<path d="M306.8,286.1 L306.6,286.6 L306.4,287.1 L306.2,287.6 L306.0,288.1 L305.8,288.6 L305.6,289.0 L305.4,289.5 L305.2,290.0 L305.0,290.5" stroke="#b0b0b0" stroke-width="9.37" stroke-linecap="butt"/>
<path d="M305.8,288.6 L305.6,289.0 L305.4,289.5 L305.2,290.0 L305.0,290.5 L304.8,291.0 L304.6,291.5 L304.4,292.0 L304.2,292.5 L304.0,293.0" stroke="#b0b0b0" stroke-width="9.39" stroke-linecap="butt"/>
<path d="M304.8,291.0 L304.6,291.5 L304.4,292.0 L304.2,292.5 L304.0,293.0 L303.8,293.5 L303.6,294.0 L303.4,294.5 L303.1,295.0 L302.9,295.4" stroke="#b0b0b0" stroke-width="9.42" stroke-linecap="butt"/>
<path d="M303.8,293.5 L303.6,294.0 L303.4,294.5 L303.1,295.0 L302.9,295.4 L302.7,295.9 L302.5,296.4 L302.3,296.9 L302.1,297.4 L301.9,297.9" stroke="#b0b0b0" stroke-width="9.45" stroke-linecap="butt"/>
<path d="M302.7,295.9 L302.5,296.4 L302.3,296.9 L302.1,297.4 L301.9,297.9 L301.6,298.4 L301.4,298.8 L301.2,299.3 L301.0,299.8 L300.7,300.3" stroke="#b0b0b0" stroke-width="9.49" stroke-linecap="butt"/>
<path d="M301.6,298.4 L301.4,298.8 L301.2,299.3 L301.0,299.8 L300.7,300.3 L300.5,300.8 L300.3,301.2 L300.1,301.7 L299.8,302.2 L299.6,302.7" stroke="#b0b0b0" stroke-width="9.53" stroke-linecap="butt"/>
<path d="M300.5,300.8 L300.3,301.2 L300.1,301.7 L299.8,302.2 L299.6,302.7 L299.4,303.2 L299.1,303.6 L298.9,304.1 L298.7,304.6 L298.4,305.1" stroke="#b0b0b0" stroke-width="9.57" stroke-linecap="butt"/>
<path d="M299.4,303.2 L299.1,303.6 L298.9,304.1 L298.7,304.6 L298.4,305.1 L298.2,305.5 L297.9,306.0 L297.7,306.5 L297.4,307.0 L297.2,307.4" stroke="#b0b0b0" stroke-width="9.62" stroke-linecap="butt"/>
<path d="M298.2,305.5 L297.9,306.0 L297.7,306.5 L297.4,307.0 L297.2,307.4 L296.9,307.9 L296.7,308.4 L296.4,308.9 L296.2,309.3 L295.9,309.8" stroke="#b0b0b0" stroke-width="9.66" stroke-linecap="butt"/>
<path d="M296.9,307.9 L296.7,308.4 L296.4,308.9 L296.2,309.3 L295.9,309.8 L295.7,310.3 L295.4,310.7 L295.2,311.2 L294.9,311.7 L294.6,312.2" stroke="#b0b0b0" stroke-width="9.71" stroke-linecap="butt"/>
<path d="M295.7,310.3 L295.4,310.7 L295.2,311.2 L294.9,311.7 L294.6,312.2 L294.4,312.6 L294.1,313.1 L293.8,313.6 L293.6,314.1 L293.3,314.5" stroke="#b0b0b0" stroke-width="9.77" stroke-linecap="butt"/>
<path d="M294.4,312.6 L294.1,313.1 L293.8,313.6 L293.6,314.1 L293.3,314.5 L293.0,315.0 L292.7,315.5 L292.4,315.9 L292.2,316.4 L291.9,316.9" stroke="#afafaf" stroke-width="9.82" stroke-linecap="butt"/>
<path d="M293.0,315.0 L292.7,315.5 L292.4,315.9 L292.2,316.4 L291.9,316.9 L291.6,317.4 L291.3,317.8 L291.0,318.3 L290.7,318.8 L290.4,319.3" stroke="#afafaf" stroke-width="9.87" stroke-linecap="butt"/>
<path d="M291.6,317.4 L291.3,317.8 L291.0,318.3 L290.7,318.8 L290.4,319.3 L290.1,319.7 L289.8,320.2 L289.5,320.7 L289.2,321.2 L288.9,321.6" stroke="#afafaf" stroke-width="9.93" stroke-linecap="butt"/>
<path d="M290.1,319.7 L289.8,320.2 L289.5,320.7 L289.2,321.2 L288.9,321.6 L288.6,322.1 L288.3,322.6 L288.0,323.1 L287.6,323.6 L287.3,324.0" stroke="#aeaeae" stroke-width="9.99" stroke-linecap="butt"/>
<path d="M288.6,322.1 L288.3,322.6 L288.0,323.1 L287.6,323.6 L287.3,324.0 L287.0,324.5 L286.7,325.0 L286.4,325.5 L286.0,326.0 L285.7,326.5" stroke="#aeaeae" stroke-width="10.04" stroke-linecap="butt"/>
<path d="M287.0,324.5 L286.7,325.0 L286.4,325.5 L286.0,326.0 L285.7,326.5 L285.4,326.9 L285.0,327.4 L284.7,327.9 L284.3,328.4 L284.0,328.9" stroke="#adadad" stroke-width="10.10" stroke-linecap="butt"/>
<path d="M285.4,326.9 L285.0,327.4 L284.7,327.9 L284.3,328.4 L284.0,328.9 L283.6,329.4 L283.3,329.8 L282.9,330.3 L282.6,330.8 L282.2,331.3" stroke="#acacac" stroke-width="10.16" stroke-linecap="butt"/>
<path d="M283.6,329.4 L283.3,329.8 L282.9,330.3 L282.6,330.8 L282.2,331.3 L281.8,331.8 L281.5,332.3 L281.1,332.7 L280.7,333.2 L280.4,333.7" stroke="#acacac" stroke-width="10.24" stroke-linecap="butt"/>
<path d="M281.8,331.8 L281.5,332.3 L281.1,332.7 L280.7,333.2 L280.4,333.7 L280.0,334.2 L279.6,334.6 L279.2,335.1 L278.9,335.5 L278.5,336.0" stroke="#ababab" stroke-width="10.36" stroke-linecap="butt"/>
</g>

<!-- trough walls -->
<path d="M92.5,186 L92.5,334 A64,64 0 0 0 156.5,398 L455.5,398 A72,72 0 0 0 527.5,326 L527.5,186" fill="none" stroke="#141414" stroke-width="15.5"/>
<path d="M92.5,186 L92.5,334 A64,64 0 0 0 156.5,398 L455.5,398 A72,72 0 0 0 527.5,326 L527.5,186" fill="none" stroke="#a6a6a6" stroke-width="10.5"/>
<path d="M92,186 L92,334 A64.5,64.5 0 0 0 156.5,398.5 L455.5,398.5 A72.5,72.5 0 0 0 528,326 L528,186" fill="none" stroke="#b9b9b9" stroke-width="4.5"/>
<!-- top bar -->
<rect x="74.75" y="174.25" width="471" height="11" rx="1" fill="#acacac" stroke="#141414" stroke-width="2.5"/>

<!-- collar and outer shaft -->
<rect x="535.25" y="263.25" width="18" height="40.5" fill="#a2a2a2" stroke="#141414" stroke-width="2.5"/>

<!-- motor -->
<path d="M600,245 L690,245 C705,245 712.5,260 712.5,282 C712.5,304 705,319 690,319 L600,319" fill="url(#capg)" stroke="#141414" stroke-width="2.8"/>
<path d="M600,245 L672,245 A30.3,52 0 0 1 672,319 L600,319 Z" fill="url(#bodyg)" stroke="#141414" stroke-width="2.8"/>
<g stroke="#6f6f6f" stroke-width="2">
<line x1="608" y1="255.7" x2="675" y2="255.7"/>
<line x1="610" y1="265.6" x2="678" y2="265.6"/>
<line x1="610" y1="297.3" x2="678" y2="297.3"/>
<line x1="608" y1="307.2" x2="675" y2="307.2"/>
</g>
<ellipse cx="600.3" cy="282" rx="12.5" ry="37.2" fill="url(#faceg)" stroke="#141414" stroke-width="2.8"/>
<rect x="553" y="273.25" width="44" height="16.75" rx="3" fill="url(#shaftg)" stroke="#141414" stroke-width="2.5"/>

<!-- arrows -->
<g stroke="#141414" stroke-width="2" fill="#141414">
<line x1="177.1" y1="156.6" x2="177.1" y2="210"/>
<path d="M170.8,208.3 L183.4,208.3 L177.1,220 Z" stroke="none"/>
<line x1="573" y1="168.4" x2="573" y2="252"/>
<path d="M566.3,251.3 L579.7,251.3 L573,263.2 Z" stroke="none"/>
<line x1="574" y1="316" x2="574" y2="394"/>
<path d="M567.3,319.4 L580.7,319.4 L574,307.4 Z" stroke="none"/>
<line x1="310.2" y1="385" x2="310.2" y2="433"/>
<path d="M304,387 L316.5,387 L310.2,376 Z" stroke="none"/>
</g>
</svg>
</body></html>
